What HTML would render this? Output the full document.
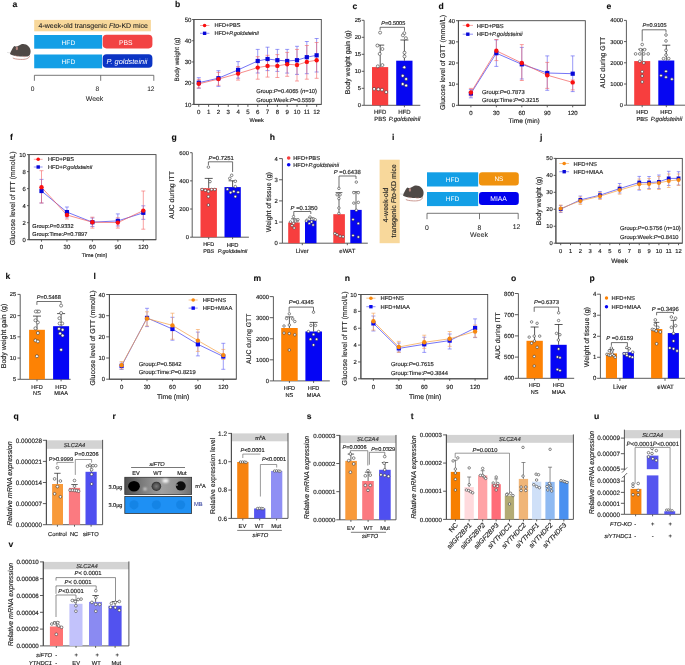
<!DOCTYPE html>
<html><head><meta charset="utf-8"><style>
html,body{margin:0;padding:0;background:#fff;width:685px;height:665px;overflow:hidden}
svg{display:block;font-family:"Liberation Sans",sans-serif}
#w{will-change:transform;width:685px;height:665px}
</style></head><body>
<div id="w"><svg text-rendering="geometricPrecision" width="685" height="665" viewBox="0 0 685 665">
<rect width="685" height="665" fill="#fff"/>
<text x="12.60" y="6.80" font-size="8.6" font-weight="bold" fill="#111" stroke="#111" stroke-width="0.1">a</text>
<rect x="34.20" y="19.90" width="116.70" height="11.40" fill="#f8d89b" stroke="none" stroke-width="0" rx="0"/>
<text x="93.20" y="27.82" font-size="7.0" text-anchor="middle" fill="#222" stroke="#222" stroke-width="0.08">4-week-old transgenic <tspan font-style="italic">Fto</tspan>-KD mice</text>
<rect x="34.20" y="35.00" width="67.90" height="13.70" fill="#139fe6" stroke="none" stroke-width="0" rx="0"/>
<rect x="34.20" y="54.50" width="67.90" height="13.80" fill="#139fe6" stroke="none" stroke-width="0" rx="0"/>
<rect x="102.70" y="34.80" width="49.70" height="13.60" fill="#f24343" stroke="none" stroke-width="0" rx="3.8"/>
<rect x="102.70" y="54.30" width="49.70" height="13.50" fill="#0b34c4" stroke="none" stroke-width="0" rx="3.8"/>
<text x="68.40" y="44.78" font-size="6.6" text-anchor="middle" fill="#fff">HFD</text>
<text x="68.40" y="64.48" font-size="6.6" text-anchor="middle" fill="#fff">HFD</text>
<text x="125.80" y="44.85" font-size="6.8" text-anchor="middle" fill="#fff">PBS</text>
<text x="127.00" y="63.96" font-size="7.4" text-anchor="middle" fill="#fff" font-style="italic">P. goldsteinii</text>
<g transform="translate(0.00,0.00)"><path d="M29.6,55.8 C29.2,58.6 25.5,59.6 20.5,59.4 C16.5,59.2 14,58.8 12.8,57.9" fill="none" stroke="#b9786f" stroke-width="0.75"/><path d="M10.0,53.7 C10.6,51.8 12.4,48.6 13.6,46.8 L14.4,45.9 L15.6,46.6 C17,46.4 18.2,46.2 19.5,45.2 C20.8,44.3 21.8,43.9 23.2,43.9 C27.2,43.9 30.6,47.2 30.6,51.2 C30.6,53.8 29.8,55.9 27.5,56.4 C24,56.6 19.5,56.5 16.2,56.0 C13.5,55.6 11.5,55.0 10.0,54.0 Z" fill="#4f4946"/><ellipse cx="16.9" cy="48.4" rx="1.1" ry="1.8" fill="#b58680"/><path d="M15.2,55.6 C16.5,56.3 17.5,56.4 18.5,56.1 M22.5,56.2 C23.5,56.8 25,56.8 26,56.4" fill="none" stroke="#c48a80" stroke-width="0.6"/><path d="M7.0,52.4 L10.4,52.9" stroke="#b0b0b0" stroke-width="0.35"/></g>
<line x1="34.40" y1="75.30" x2="153.80" y2="75.30" stroke="#555" stroke-width="0.8"/>
<line x1="34.40" y1="75.30" x2="34.40" y2="80.80" stroke="#555" stroke-width="0.8"/>
<line x1="100.70" y1="75.30" x2="100.70" y2="80.80" stroke="#555" stroke-width="0.8"/>
<line x1="153.80" y1="75.30" x2="153.80" y2="80.80" stroke="#555" stroke-width="0.8"/>
<text x="32.60" y="91.18" font-size="6.6" text-anchor="middle" fill="#222" stroke="#222" stroke-width="0.05">0</text>
<text x="97.40" y="91.18" font-size="6.6" text-anchor="middle" fill="#222" stroke="#222" stroke-width="0.05">8</text>
<text x="150.80" y="91.18" font-size="6.6" text-anchor="middle" fill="#222" stroke="#222" stroke-width="0.05">12</text>
<text x="94.50" y="100.78" font-size="6.9" text-anchor="middle" fill="#222" stroke="#222" stroke-width="0.05">Week</text>
<text x="175.10" y="6.70" font-size="8.6" font-weight="bold" fill="#111" stroke="#111" stroke-width="0.1">b</text>
<text x="177.20" y="61.77" font-size="6.3" text-anchor="middle" fill="#222" stroke="#222" stroke-width="0.15" transform="rotate(-90 177.20 59.50)">Body weight (g)</text>
<rect x="193.90" y="19.50" width="127.40" height="84.90" fill="none" stroke="#444" stroke-width="0.9" rx="0"/>
<line x1="193.90" y1="19.50" x2="193.90" y2="104.40" stroke="#4a4a4a" stroke-width="0.9"/>
<line x1="192.10" y1="104.40" x2="193.90" y2="104.40" stroke="#4a4a4a" stroke-width="0.9"/>
<text x="191.50" y="106.60" font-size="6.1" text-anchor="end" fill="#222" stroke="#222" stroke-width="0.15">10</text>
<line x1="192.10" y1="83.18" x2="193.90" y2="83.18" stroke="#4a4a4a" stroke-width="0.9"/>
<text x="191.50" y="85.37" font-size="6.1" text-anchor="end" fill="#222" stroke="#222" stroke-width="0.15">20</text>
<line x1="192.10" y1="61.95" x2="193.90" y2="61.95" stroke="#4a4a4a" stroke-width="0.9"/>
<text x="191.50" y="64.15" font-size="6.1" text-anchor="end" fill="#222" stroke="#222" stroke-width="0.15">30</text>
<line x1="192.10" y1="40.73" x2="193.90" y2="40.73" stroke="#4a4a4a" stroke-width="0.9"/>
<text x="191.50" y="42.92" font-size="6.1" text-anchor="end" fill="#222" stroke="#222" stroke-width="0.15">40</text>
<line x1="192.10" y1="19.50" x2="193.90" y2="19.50" stroke="#4a4a4a" stroke-width="0.9"/>
<text x="191.50" y="21.70" font-size="6.1" text-anchor="end" fill="#222" stroke="#222" stroke-width="0.15">50</text>
<line x1="193.90" y1="104.40" x2="321.30" y2="104.40" stroke="#4a4a4a" stroke-width="0.9"/>
<line x1="198.80" y1="104.40" x2="198.80" y2="106.80" stroke="#4a4a4a" stroke-width="0.9"/>
<text x="198.80" y="113.70" font-size="6.1" text-anchor="middle" fill="#222" stroke="#222" stroke-width="0.15">0</text>
<line x1="208.62" y1="104.40" x2="208.62" y2="106.80" stroke="#4a4a4a" stroke-width="0.9"/>
<text x="208.62" y="113.70" font-size="6.1" text-anchor="middle" fill="#222" stroke="#222" stroke-width="0.15">1</text>
<line x1="218.44" y1="104.40" x2="218.44" y2="106.80" stroke="#4a4a4a" stroke-width="0.9"/>
<text x="218.44" y="113.70" font-size="6.1" text-anchor="middle" fill="#222" stroke="#222" stroke-width="0.15">2</text>
<line x1="228.26" y1="104.40" x2="228.26" y2="106.80" stroke="#4a4a4a" stroke-width="0.9"/>
<text x="228.26" y="113.70" font-size="6.1" text-anchor="middle" fill="#222" stroke="#222" stroke-width="0.15">3</text>
<line x1="238.08" y1="104.40" x2="238.08" y2="106.80" stroke="#4a4a4a" stroke-width="0.9"/>
<text x="238.08" y="113.70" font-size="6.1" text-anchor="middle" fill="#222" stroke="#222" stroke-width="0.15">4</text>
<line x1="247.90" y1="104.40" x2="247.90" y2="106.80" stroke="#4a4a4a" stroke-width="0.9"/>
<text x="247.90" y="113.70" font-size="6.1" text-anchor="middle" fill="#222" stroke="#222" stroke-width="0.15">5</text>
<line x1="257.72" y1="104.40" x2="257.72" y2="106.80" stroke="#4a4a4a" stroke-width="0.9"/>
<text x="257.72" y="113.70" font-size="6.1" text-anchor="middle" fill="#222" stroke="#222" stroke-width="0.15">6</text>
<line x1="267.54" y1="104.40" x2="267.54" y2="106.80" stroke="#4a4a4a" stroke-width="0.9"/>
<text x="267.54" y="113.70" font-size="6.1" text-anchor="middle" fill="#222" stroke="#222" stroke-width="0.15">7</text>
<line x1="277.36" y1="104.40" x2="277.36" y2="106.80" stroke="#4a4a4a" stroke-width="0.9"/>
<text x="277.36" y="113.70" font-size="6.1" text-anchor="middle" fill="#222" stroke="#222" stroke-width="0.15">8</text>
<line x1="287.18" y1="104.40" x2="287.18" y2="106.80" stroke="#4a4a4a" stroke-width="0.9"/>
<text x="287.18" y="113.70" font-size="6.1" text-anchor="middle" fill="#222" stroke="#222" stroke-width="0.15">9</text>
<line x1="297.00" y1="104.40" x2="297.00" y2="106.80" stroke="#4a4a4a" stroke-width="0.9"/>
<text x="297.00" y="113.70" font-size="6.1" text-anchor="middle" fill="#222" stroke="#222" stroke-width="0.15">10</text>
<line x1="306.82" y1="104.40" x2="306.82" y2="106.80" stroke="#4a4a4a" stroke-width="0.9"/>
<text x="306.82" y="113.70" font-size="6.1" text-anchor="middle" fill="#222" stroke="#222" stroke-width="0.15">11</text>
<line x1="316.64" y1="104.40" x2="316.64" y2="106.80" stroke="#4a4a4a" stroke-width="0.9"/>
<text x="316.64" y="113.70" font-size="6.1" text-anchor="middle" fill="#222" stroke="#222" stroke-width="0.15">12</text>
<text x="256.60" y="121.72" font-size="5.6" text-anchor="middle" fill="#222" stroke="#222" stroke-width="0.15">Week</text>
<line x1="198.80" y1="77.70" x2="198.80" y2="88.20" stroke="#5656f2" stroke-width="0.6"/>
<line x1="196.80" y1="77.70" x2="200.80" y2="77.70" stroke="#5656f2" stroke-width="0.6"/>
<line x1="196.80" y1="88.20" x2="200.80" y2="88.20" stroke="#5656f2" stroke-width="0.6"/>
<line x1="218.44" y1="70.70" x2="218.44" y2="86.40" stroke="#5656f2" stroke-width="0.6"/>
<line x1="216.44" y1="70.70" x2="220.44" y2="70.70" stroke="#5656f2" stroke-width="0.6"/>
<line x1="216.44" y1="86.40" x2="220.44" y2="86.40" stroke="#5656f2" stroke-width="0.6"/>
<line x1="238.08" y1="61.60" x2="238.08" y2="78.20" stroke="#5656f2" stroke-width="0.6"/>
<line x1="236.08" y1="61.60" x2="240.08" y2="61.60" stroke="#5656f2" stroke-width="0.6"/>
<line x1="236.08" y1="78.20" x2="240.08" y2="78.20" stroke="#5656f2" stroke-width="0.6"/>
<line x1="257.72" y1="49.40" x2="257.72" y2="73.00" stroke="#5656f2" stroke-width="0.6"/>
<line x1="255.72" y1="49.40" x2="259.72" y2="49.40" stroke="#5656f2" stroke-width="0.6"/>
<line x1="255.72" y1="73.00" x2="259.72" y2="73.00" stroke="#5656f2" stroke-width="0.6"/>
<line x1="267.54" y1="47.20" x2="267.54" y2="70.60" stroke="#5656f2" stroke-width="0.6"/>
<line x1="265.54" y1="47.20" x2="269.54" y2="47.20" stroke="#5656f2" stroke-width="0.6"/>
<line x1="265.54" y1="70.60" x2="269.54" y2="70.60" stroke="#5656f2" stroke-width="0.6"/>
<line x1="277.36" y1="49.40" x2="277.36" y2="71.40" stroke="#5656f2" stroke-width="0.6"/>
<line x1="275.36" y1="49.40" x2="279.36" y2="49.40" stroke="#5656f2" stroke-width="0.6"/>
<line x1="275.36" y1="71.40" x2="279.36" y2="71.40" stroke="#5656f2" stroke-width="0.6"/>
<line x1="287.18" y1="49.40" x2="287.18" y2="73.10" stroke="#5656f2" stroke-width="0.6"/>
<line x1="285.18" y1="49.40" x2="289.18" y2="49.40" stroke="#5656f2" stroke-width="0.6"/>
<line x1="285.18" y1="73.10" x2="289.18" y2="73.10" stroke="#5656f2" stroke-width="0.6"/>
<line x1="297.00" y1="46.30" x2="297.00" y2="74.40" stroke="#5656f2" stroke-width="0.6"/>
<line x1="295.00" y1="46.30" x2="299.00" y2="46.30" stroke="#5656f2" stroke-width="0.6"/>
<line x1="295.00" y1="74.40" x2="299.00" y2="74.40" stroke="#5656f2" stroke-width="0.6"/>
<line x1="306.82" y1="41.50" x2="306.82" y2="73.70" stroke="#5656f2" stroke-width="0.6"/>
<line x1="304.82" y1="41.50" x2="308.82" y2="41.50" stroke="#5656f2" stroke-width="0.6"/>
<line x1="304.82" y1="73.70" x2="308.82" y2="73.70" stroke="#5656f2" stroke-width="0.6"/>
<line x1="316.64" y1="38.50" x2="316.64" y2="72.00" stroke="#5656f2" stroke-width="0.6"/>
<line x1="314.64" y1="38.50" x2="318.64" y2="38.50" stroke="#5656f2" stroke-width="0.6"/>
<line x1="314.64" y1="72.00" x2="318.64" y2="72.00" stroke="#5656f2" stroke-width="0.6"/>
<line x1="198.80" y1="79.40" x2="198.80" y2="88.00" stroke="#f56262" stroke-width="0.6"/>
<line x1="196.80" y1="79.40" x2="200.80" y2="79.40" stroke="#f56262" stroke-width="0.6"/>
<line x1="196.80" y1="88.00" x2="200.80" y2="88.00" stroke="#f56262" stroke-width="0.6"/>
<line x1="218.44" y1="72.40" x2="218.44" y2="85.30" stroke="#f56262" stroke-width="0.6"/>
<line x1="216.44" y1="72.40" x2="220.44" y2="72.40" stroke="#f56262" stroke-width="0.6"/>
<line x1="216.44" y1="85.30" x2="220.44" y2="85.30" stroke="#f56262" stroke-width="0.6"/>
<line x1="238.08" y1="66.60" x2="238.08" y2="80.10" stroke="#f56262" stroke-width="0.6"/>
<line x1="236.08" y1="66.60" x2="240.08" y2="66.60" stroke="#f56262" stroke-width="0.6"/>
<line x1="236.08" y1="80.10" x2="240.08" y2="80.10" stroke="#f56262" stroke-width="0.6"/>
<line x1="257.72" y1="56.70" x2="257.72" y2="79.20" stroke="#f56262" stroke-width="0.6"/>
<line x1="255.72" y1="56.70" x2="259.72" y2="56.70" stroke="#f56262" stroke-width="0.6"/>
<line x1="255.72" y1="79.20" x2="259.72" y2="79.20" stroke="#f56262" stroke-width="0.6"/>
<line x1="267.54" y1="55.30" x2="267.54" y2="77.10" stroke="#f56262" stroke-width="0.6"/>
<line x1="265.54" y1="55.30" x2="269.54" y2="55.30" stroke="#f56262" stroke-width="0.6"/>
<line x1="265.54" y1="77.10" x2="269.54" y2="77.10" stroke="#f56262" stroke-width="0.6"/>
<line x1="277.36" y1="54.60" x2="277.36" y2="77.50" stroke="#f56262" stroke-width="0.6"/>
<line x1="275.36" y1="54.60" x2="279.36" y2="54.60" stroke="#f56262" stroke-width="0.6"/>
<line x1="275.36" y1="77.50" x2="279.36" y2="77.50" stroke="#f56262" stroke-width="0.6"/>
<line x1="287.18" y1="52.40" x2="287.18" y2="76.30" stroke="#f56262" stroke-width="0.6"/>
<line x1="285.18" y1="52.40" x2="289.18" y2="52.40" stroke="#f56262" stroke-width="0.6"/>
<line x1="285.18" y1="76.30" x2="289.18" y2="76.30" stroke="#f56262" stroke-width="0.6"/>
<line x1="297.00" y1="49.40" x2="297.00" y2="81.00" stroke="#f56262" stroke-width="0.6"/>
<line x1="295.00" y1="49.40" x2="299.00" y2="49.40" stroke="#f56262" stroke-width="0.6"/>
<line x1="295.00" y1="81.00" x2="299.00" y2="81.00" stroke="#f56262" stroke-width="0.6"/>
<line x1="306.82" y1="45.50" x2="306.82" y2="79.20" stroke="#f56262" stroke-width="0.6"/>
<line x1="304.82" y1="45.50" x2="308.82" y2="45.50" stroke="#f56262" stroke-width="0.6"/>
<line x1="304.82" y1="79.20" x2="308.82" y2="79.20" stroke="#f56262" stroke-width="0.6"/>
<line x1="316.64" y1="42.50" x2="316.64" y2="78.30" stroke="#f56262" stroke-width="0.6"/>
<line x1="314.64" y1="42.50" x2="318.64" y2="42.50" stroke="#f56262" stroke-width="0.6"/>
<line x1="314.64" y1="78.30" x2="318.64" y2="78.30" stroke="#f56262" stroke-width="0.6"/>
<path d="M198.80,82.70 L218.44,78.20 L238.08,69.90 L257.72,61.00 L267.54,59.00 L277.36,60.20 L287.18,61.00 L297.00,60.20 L306.82,57.20 L316.64,55.30" fill="none" stroke="#3a3af2" stroke-width="0.7"/>
<path d="M198.80,83.80 L218.44,79.10 L238.08,73.60 L257.72,67.60 L267.54,65.90 L277.36,65.90 L287.18,64.20 L297.00,65.00 L306.82,61.90 L316.64,60.20" fill="none" stroke="#f25a5a" stroke-width="0.7"/>
<rect x="196.70" y="80.60" width="4.20" height="4.20" fill="#0808d8" stroke="none" stroke-width="0" rx="0"/>
<rect x="216.34" y="76.10" width="4.20" height="4.20" fill="#0808d8" stroke="none" stroke-width="0" rx="0"/>
<rect x="235.98" y="67.80" width="4.20" height="4.20" fill="#0808d8" stroke="none" stroke-width="0" rx="0"/>
<rect x="255.62" y="58.90" width="4.20" height="4.20" fill="#0808d8" stroke="none" stroke-width="0" rx="0"/>
<rect x="265.44" y="56.90" width="4.20" height="4.20" fill="#0808d8" stroke="none" stroke-width="0" rx="0"/>
<rect x="275.26" y="58.10" width="4.20" height="4.20" fill="#0808d8" stroke="none" stroke-width="0" rx="0"/>
<rect x="285.08" y="58.90" width="4.20" height="4.20" fill="#0808d8" stroke="none" stroke-width="0" rx="0"/>
<rect x="294.90" y="58.10" width="4.20" height="4.20" fill="#0808d8" stroke="none" stroke-width="0" rx="0"/>
<rect x="304.72" y="55.10" width="4.20" height="4.20" fill="#0808d8" stroke="none" stroke-width="0" rx="0"/>
<rect x="314.54" y="53.20" width="4.20" height="4.20" fill="#0808d8" stroke="none" stroke-width="0" rx="0"/>
<circle cx="198.80" cy="83.80" r="2.2" fill="#fa1010" stroke="none" stroke-width="0"/>
<circle cx="218.44" cy="79.10" r="2.2" fill="#fa1010" stroke="none" stroke-width="0"/>
<circle cx="238.08" cy="73.60" r="2.2" fill="#fa1010" stroke="none" stroke-width="0"/>
<circle cx="257.72" cy="67.60" r="2.2" fill="#fa1010" stroke="none" stroke-width="0"/>
<circle cx="267.54" cy="65.90" r="2.2" fill="#fa1010" stroke="none" stroke-width="0"/>
<circle cx="277.36" cy="65.90" r="2.2" fill="#fa1010" stroke="none" stroke-width="0"/>
<circle cx="287.18" cy="64.20" r="2.2" fill="#fa1010" stroke="none" stroke-width="0"/>
<circle cx="297.00" cy="65.00" r="2.2" fill="#fa1010" stroke="none" stroke-width="0"/>
<circle cx="306.82" cy="61.90" r="2.2" fill="#fa1010" stroke="none" stroke-width="0"/>
<circle cx="316.64" cy="60.20" r="2.2" fill="#fa1010" stroke="none" stroke-width="0"/>
<line x1="200.00" y1="25.50" x2="209.40" y2="25.50" stroke="#f46a6a" stroke-width="0.6"/>
<circle cx="204.60" cy="25.50" r="1.8" fill="#fa1010" stroke="none" stroke-width="0"/>
<line x1="200.00" y1="33.30" x2="209.40" y2="33.30" stroke="#4a4af0" stroke-width="0.6"/>
<rect x="202.90" y="31.60" width="3.40" height="3.40" fill="#0808d8" stroke="none" stroke-width="0" rx="0"/>
<text x="214.50" y="27.02" font-size="5.6" text-anchor="start" fill="#222" stroke="#222" stroke-width="0.15">HFD+PBS</text>
<text x="214.50" y="35.32" font-size="5.6" text-anchor="start" fill="#222" stroke="#222" stroke-width="0.15">HFD+<tspan font-style="italic">P.goldsteinii</tspan></text>
<text x="256.20" y="93.07" font-size="5.75" text-anchor="start" fill="#222" stroke="#222" stroke-width="0.15">Group:<tspan font-style="italic">P</tspan>=0.4065 (<tspan font-style="italic">n</tspan>=10)</text>
<text x="256.20" y="101.67" font-size="5.75" text-anchor="start" fill="#222" stroke="#222" stroke-width="0.15">Group:Week:<tspan font-style="italic">P</tspan>=0.5559</text>
<text x="352.50" y="9.00" font-size="8.6" font-weight="bold" fill="#111" stroke="#111" stroke-width="0.1">c</text>
<line x1="364.10" y1="20.30" x2="364.10" y2="105.30" stroke="#4a4a4a" stroke-width="0.9"/>
<line x1="361.70" y1="105.30" x2="364.10" y2="105.30" stroke="#4a4a4a" stroke-width="0.9"/>
<text x="361.10" y="107.39" font-size="5.8" text-anchor="end" fill="#222" stroke="#222" stroke-width="0.15">0</text>
<line x1="361.70" y1="88.30" x2="364.10" y2="88.30" stroke="#4a4a4a" stroke-width="0.9"/>
<text x="361.10" y="90.39" font-size="5.8" text-anchor="end" fill="#222" stroke="#222" stroke-width="0.15">5</text>
<line x1="361.70" y1="71.30" x2="364.10" y2="71.30" stroke="#4a4a4a" stroke-width="0.9"/>
<text x="361.10" y="73.39" font-size="5.8" text-anchor="end" fill="#222" stroke="#222" stroke-width="0.15">10</text>
<line x1="361.70" y1="54.30" x2="364.10" y2="54.30" stroke="#4a4a4a" stroke-width="0.9"/>
<text x="361.10" y="56.39" font-size="5.8" text-anchor="end" fill="#222" stroke="#222" stroke-width="0.15">15</text>
<line x1="361.70" y1="37.30" x2="364.10" y2="37.30" stroke="#4a4a4a" stroke-width="0.9"/>
<text x="361.10" y="39.39" font-size="5.8" text-anchor="end" fill="#222" stroke="#222" stroke-width="0.15">20</text>
<line x1="361.70" y1="20.30" x2="364.10" y2="20.30" stroke="#4a4a4a" stroke-width="0.9"/>
<text x="361.10" y="22.39" font-size="5.8" text-anchor="end" fill="#222" stroke="#222" stroke-width="0.15">25</text>
<line x1="364.10" y1="105.30" x2="420.30" y2="105.30" stroke="#4a4a4a" stroke-width="0.9"/>
<line x1="380.20" y1="105.30" x2="380.20" y2="107.30" stroke="#4a4a4a" stroke-width="0.9"/>
<line x1="404.40" y1="105.30" x2="404.40" y2="107.30" stroke="#4a4a4a" stroke-width="0.9"/>
<rect x="372.00" y="67.10" width="16.20" height="38.20" fill="#f73e3e" stroke="none" stroke-width="0" rx="0"/>
<rect x="396.20" y="60.70" width="16.30" height="44.60" fill="#0606f2" stroke="none" stroke-width="0" rx="0"/>
<line x1="376.20" y1="45.10" x2="384.20" y2="45.10" stroke="#222" stroke-width="0.75"/>
<line x1="380.20" y1="45.10" x2="380.20" y2="67.10" stroke="#222" stroke-width="0.75"/>
<line x1="400.40" y1="40.00" x2="408.40" y2="40.00" stroke="#222" stroke-width="0.75"/>
<line x1="404.40" y1="40.00" x2="404.40" y2="60.70" stroke="#222" stroke-width="0.75"/>
<path d="M380.1,29.9 L380.1,27.3 L404.5,27.3 L404.5,30.8" fill="none" stroke="#333" stroke-width="0.7"/>
<text x="393.30" y="24.92" font-size="5.6" text-anchor="middle" fill="#222" stroke="#222" stroke-width="0.15"><tspan font-style="italic">P</tspan>=0.5005</text>
<text x="380.20" y="114.06" font-size="6.0" text-anchor="middle" fill="#222" stroke="#222" stroke-width="0.15">HFD</text>
<text x="380.20" y="120.66" font-size="6.0" text-anchor="middle" fill="#222" stroke="#222" stroke-width="0.15">PBS</text>
<text x="404.40" y="114.16" font-size="6.0" text-anchor="middle" fill="#222" stroke="#222" stroke-width="0.15">HFD</text>
<text x="404.60" y="120.76" font-size="6.0" text-anchor="middle" fill="#222" font-style="italic" stroke="#222" stroke-width="0.15">P.goldsteinii</text>
<text x="347.50" y="64.92" font-size="7.0" text-anchor="middle" fill="#222" stroke="#222" stroke-width="0.15" transform="rotate(-90 347.50 62.40)">Body weight gain (g)</text>
<circle cx="380.10" cy="32.60" r="1.5" fill="#fff" stroke="#2a2a2a" stroke-width="0.55"/>
<circle cx="377.40" cy="45.50" r="1.5" fill="#fff" stroke="#2a2a2a" stroke-width="0.55"/>
<circle cx="382.40" cy="49.00" r="1.5" fill="#fff" stroke="#2a2a2a" stroke-width="0.55"/>
<circle cx="379.70" cy="53.90" r="1.5" fill="#fff" stroke="#2a2a2a" stroke-width="0.55"/>
<circle cx="377.80" cy="66.30" r="1.5" fill="#fff" stroke="#2a2a2a" stroke-width="0.55"/>
<circle cx="382.40" cy="65.10" r="1.5" fill="#fff" stroke="#2a2a2a" stroke-width="0.55"/>
<circle cx="374.10" cy="88.90" r="1.5" fill="#fff" stroke="#2a2a2a" stroke-width="0.55"/>
<circle cx="378.30" cy="89.30" r="1.5" fill="#fff" stroke="#2a2a2a" stroke-width="0.55"/>
<circle cx="382.00" cy="89.70" r="1.5" fill="#fff" stroke="#2a2a2a" stroke-width="0.55"/>
<circle cx="386.20" cy="92.10" r="1.5" fill="#fff" stroke="#2a2a2a" stroke-width="0.55"/>
<circle cx="404.30" cy="33.20" r="1.5" fill="#fff" stroke="#2a2a2a" stroke-width="0.55"/>
<circle cx="402.90" cy="35.30" r="1.5" fill="#fff" stroke="#2a2a2a" stroke-width="0.55"/>
<circle cx="405.90" cy="38.20" r="1.5" fill="#fff" stroke="#2a2a2a" stroke-width="0.55"/>
<circle cx="404.50" cy="52.70" r="1.5" fill="#fff" stroke="#2a2a2a" stroke-width="0.55"/>
<circle cx="404.50" cy="56.40" r="1.5" fill="#fff" stroke="#2a2a2a" stroke-width="0.55"/>
<circle cx="404.30" cy="67.30" r="1.5" fill="#fff" stroke="#2a2a2a" stroke-width="0.55"/>
<circle cx="402.70" cy="75.80" r="1.5" fill="#fff" stroke="#2a2a2a" stroke-width="0.55"/>
<circle cx="406.10" cy="79.00" r="1.5" fill="#fff" stroke="#2a2a2a" stroke-width="0.55"/>
<circle cx="402.70" cy="84.00" r="1.5" fill="#fff" stroke="#2a2a2a" stroke-width="0.55"/>
<circle cx="406.10" cy="85.50" r="1.5" fill="#fff" stroke="#2a2a2a" stroke-width="0.55"/>
<text x="438.60" y="9.00" font-size="8.6" font-weight="bold" fill="#111" stroke="#111" stroke-width="0.1">d</text>
<rect x="458.40" y="20.70" width="126.90" height="84.60" fill="none" stroke="#444" stroke-width="0.9" rx="0"/>
<line x1="458.40" y1="20.70" x2="458.40" y2="105.30" stroke="#4a4a4a" stroke-width="0.9"/>
<line x1="456.00" y1="105.30" x2="458.40" y2="105.30" stroke="#4a4a4a" stroke-width="0.9"/>
<text x="455.00" y="107.39" font-size="5.8" text-anchor="end" fill="#222" stroke="#222" stroke-width="0.15">0</text>
<line x1="456.00" y1="84.15" x2="458.40" y2="84.15" stroke="#4a4a4a" stroke-width="0.9"/>
<text x="455.00" y="86.24" font-size="5.8" text-anchor="end" fill="#222" stroke="#222" stroke-width="0.15">10</text>
<line x1="456.00" y1="63.00" x2="458.40" y2="63.00" stroke="#4a4a4a" stroke-width="0.9"/>
<text x="455.00" y="65.09" font-size="5.8" text-anchor="end" fill="#222" stroke="#222" stroke-width="0.15">20</text>
<line x1="456.00" y1="41.85" x2="458.40" y2="41.85" stroke="#4a4a4a" stroke-width="0.9"/>
<text x="455.00" y="43.94" font-size="5.8" text-anchor="end" fill="#222" stroke="#222" stroke-width="0.15">30</text>
<line x1="456.00" y1="20.70" x2="458.40" y2="20.70" stroke="#4a4a4a" stroke-width="0.9"/>
<text x="455.00" y="22.79" font-size="5.8" text-anchor="end" fill="#222" stroke="#222" stroke-width="0.15">40</text>
<line x1="458.40" y1="105.30" x2="585.30" y2="105.30" stroke="#4a4a4a" stroke-width="0.9"/>
<line x1="470.90" y1="105.30" x2="470.90" y2="107.30" stroke="#4a4a4a" stroke-width="0.9"/>
<text x="470.90" y="114.76" font-size="6.0" text-anchor="middle" fill="#222" stroke="#222" stroke-width="0.15">0</text>
<line x1="496.35" y1="105.30" x2="496.35" y2="107.30" stroke="#4a4a4a" stroke-width="0.9"/>
<text x="496.35" y="114.76" font-size="6.0" text-anchor="middle" fill="#222" stroke="#222" stroke-width="0.15">30</text>
<line x1="521.80" y1="105.30" x2="521.80" y2="107.30" stroke="#4a4a4a" stroke-width="0.9"/>
<text x="521.80" y="114.76" font-size="6.0" text-anchor="middle" fill="#222" stroke="#222" stroke-width="0.15">60</text>
<line x1="547.25" y1="105.30" x2="547.25" y2="107.30" stroke="#4a4a4a" stroke-width="0.9"/>
<text x="547.25" y="114.76" font-size="6.0" text-anchor="middle" fill="#222" stroke="#222" stroke-width="0.15">90</text>
<line x1="572.70" y1="105.30" x2="572.70" y2="107.30" stroke="#4a4a4a" stroke-width="0.9"/>
<text x="572.70" y="114.76" font-size="6.0" text-anchor="middle" fill="#222" stroke="#222" stroke-width="0.15">120</text>
<text x="524.20" y="122.78" font-size="6.6" text-anchor="middle" fill="#222" stroke="#222" stroke-width="0.15">Time (min)</text>
<text x="442.10" y="65.02" font-size="7.0" text-anchor="middle" fill="#222" stroke="#222" stroke-width="0.15" transform="rotate(-90 442.10 62.50)">Glucose level of GTT (mmol/L)</text>
<line x1="470.90" y1="89.50" x2="470.90" y2="97.80" stroke="#5656f2" stroke-width="0.6"/>
<line x1="468.90" y1="89.50" x2="472.90" y2="89.50" stroke="#5656f2" stroke-width="0.6"/>
<line x1="468.90" y1="97.80" x2="472.90" y2="97.80" stroke="#5656f2" stroke-width="0.6"/>
<line x1="496.35" y1="39.90" x2="496.35" y2="66.40" stroke="#5656f2" stroke-width="0.6"/>
<line x1="494.35" y1="39.90" x2="498.35" y2="39.90" stroke="#5656f2" stroke-width="0.6"/>
<line x1="494.35" y1="66.40" x2="498.35" y2="66.40" stroke="#5656f2" stroke-width="0.6"/>
<line x1="521.80" y1="47.40" x2="521.80" y2="79.00" stroke="#5656f2" stroke-width="0.6"/>
<line x1="519.80" y1="47.40" x2="523.80" y2="47.40" stroke="#5656f2" stroke-width="0.6"/>
<line x1="519.80" y1="79.00" x2="523.80" y2="79.00" stroke="#5656f2" stroke-width="0.6"/>
<line x1="547.25" y1="55.90" x2="547.25" y2="90.30" stroke="#5656f2" stroke-width="0.6"/>
<line x1="545.25" y1="55.90" x2="549.25" y2="55.90" stroke="#5656f2" stroke-width="0.6"/>
<line x1="545.25" y1="90.30" x2="549.25" y2="90.30" stroke="#5656f2" stroke-width="0.6"/>
<line x1="572.70" y1="55.90" x2="572.70" y2="91.60" stroke="#5656f2" stroke-width="0.6"/>
<line x1="570.70" y1="55.90" x2="574.70" y2="55.90" stroke="#5656f2" stroke-width="0.6"/>
<line x1="570.70" y1="91.60" x2="574.70" y2="91.60" stroke="#5656f2" stroke-width="0.6"/>
<line x1="470.90" y1="88.40" x2="470.90" y2="95.90" stroke="#f56262" stroke-width="0.6"/>
<line x1="468.90" y1="88.40" x2="472.90" y2="88.40" stroke="#f56262" stroke-width="0.6"/>
<line x1="468.90" y1="95.90" x2="472.90" y2="95.90" stroke="#f56262" stroke-width="0.6"/>
<line x1="496.35" y1="39.50" x2="496.35" y2="60.60" stroke="#f56262" stroke-width="0.6"/>
<line x1="494.35" y1="39.50" x2="498.35" y2="39.50" stroke="#f56262" stroke-width="0.6"/>
<line x1="494.35" y1="60.60" x2="498.35" y2="60.60" stroke="#f56262" stroke-width="0.6"/>
<line x1="521.80" y1="44.60" x2="521.80" y2="80.50" stroke="#f56262" stroke-width="0.6"/>
<line x1="519.80" y1="44.60" x2="523.80" y2="44.60" stroke="#f56262" stroke-width="0.6"/>
<line x1="519.80" y1="80.50" x2="523.80" y2="80.50" stroke="#f56262" stroke-width="0.6"/>
<line x1="547.25" y1="62.40" x2="547.25" y2="88.40" stroke="#f56262" stroke-width="0.6"/>
<line x1="545.25" y1="62.40" x2="549.25" y2="62.40" stroke="#f56262" stroke-width="0.6"/>
<line x1="545.25" y1="88.40" x2="549.25" y2="88.40" stroke="#f56262" stroke-width="0.6"/>
<line x1="572.70" y1="80.00" x2="572.70" y2="89.90" stroke="#f56262" stroke-width="0.6"/>
<line x1="570.70" y1="80.00" x2="574.70" y2="80.00" stroke="#f56262" stroke-width="0.6"/>
<line x1="570.70" y1="89.90" x2="574.70" y2="89.90" stroke="#f56262" stroke-width="0.6"/>
<path d="M470.90,93.50 L496.35,53.20 L521.80,64.30 L547.25,73.00 L572.70,73.70" fill="none" stroke="#3a3af2" stroke-width="0.7"/>
<path d="M470.90,92.50 L496.35,50.80 L521.80,63.00 L547.25,75.20 L572.70,82.40" fill="none" stroke="#f25a5a" stroke-width="0.7"/>
<rect x="468.80" y="91.40" width="4.20" height="4.20" fill="#0808d8" stroke="none" stroke-width="0" rx="0"/>
<rect x="494.25" y="51.10" width="4.20" height="4.20" fill="#0808d8" stroke="none" stroke-width="0" rx="0"/>
<rect x="519.70" y="62.20" width="4.20" height="4.20" fill="#0808d8" stroke="none" stroke-width="0" rx="0"/>
<rect x="545.15" y="70.90" width="4.20" height="4.20" fill="#0808d8" stroke="none" stroke-width="0" rx="0"/>
<rect x="570.60" y="71.60" width="4.20" height="4.20" fill="#0808d8" stroke="none" stroke-width="0" rx="0"/>
<circle cx="470.90" cy="92.50" r="2.2" fill="#fa1010" stroke="none" stroke-width="0"/>
<circle cx="496.35" cy="50.80" r="2.2" fill="#fa1010" stroke="none" stroke-width="0"/>
<circle cx="521.80" cy="63.00" r="2.2" fill="#fa1010" stroke="none" stroke-width="0"/>
<circle cx="547.25" cy="75.20" r="2.2" fill="#fa1010" stroke="none" stroke-width="0"/>
<circle cx="572.70" cy="82.40" r="2.2" fill="#fa1010" stroke="none" stroke-width="0"/>
<line x1="462.70" y1="25.40" x2="473.00" y2="25.40" stroke="#f46a6a" stroke-width="0.6"/>
<circle cx="467.80" cy="25.40" r="1.8" fill="#fa1010" stroke="none" stroke-width="0"/>
<line x1="462.70" y1="34.20" x2="473.00" y2="34.20" stroke="#4a4af0" stroke-width="0.6"/>
<rect x="466.10" y="32.50" width="3.40" height="3.40" fill="#0808d8" stroke="none" stroke-width="0" rx="0"/>
<text x="476.80" y="27.99" font-size="5.8" text-anchor="start" fill="#222" stroke="#222" stroke-width="0.15">HFD+PBS</text>
<text x="476.80" y="36.39" font-size="5.8" text-anchor="start" fill="#222" stroke="#222" stroke-width="0.15">HFD+<tspan font-style="italic">P.goldsteinii</tspan></text>
<text x="482.00" y="93.89" font-size="5.8" text-anchor="start" fill="#222" stroke="#222" stroke-width="0.15">Group:<tspan font-style="italic">P</tspan>=0.7873</text>
<text x="482.00" y="102.29" font-size="5.8" text-anchor="start" fill="#222" stroke="#222" stroke-width="0.15">Group:Time:<tspan font-style="italic">P</tspan>=0.3215</text>
<text x="606.60" y="9.00" font-size="8.6" font-weight="bold" fill="#111" stroke="#111" stroke-width="0.1">e</text>
<line x1="626.40" y1="20.40" x2="626.40" y2="105.20" stroke="#4a4a4a" stroke-width="0.9"/>
<line x1="624.00" y1="105.20" x2="626.40" y2="105.20" stroke="#4a4a4a" stroke-width="0.9"/>
<text x="623.10" y="107.29" font-size="5.8" text-anchor="end" fill="#222" stroke="#222" stroke-width="0.15">0</text>
<line x1="624.00" y1="84.00" x2="626.40" y2="84.00" stroke="#4a4a4a" stroke-width="0.9"/>
<text x="623.10" y="86.09" font-size="5.8" text-anchor="end" fill="#222" stroke="#222" stroke-width="0.15">1000</text>
<line x1="624.00" y1="62.80" x2="626.40" y2="62.80" stroke="#4a4a4a" stroke-width="0.9"/>
<text x="623.10" y="64.89" font-size="5.8" text-anchor="end" fill="#222" stroke="#222" stroke-width="0.15">2000</text>
<line x1="624.00" y1="41.60" x2="626.40" y2="41.60" stroke="#4a4a4a" stroke-width="0.9"/>
<text x="623.10" y="43.69" font-size="5.8" text-anchor="end" fill="#222" stroke="#222" stroke-width="0.15">3000</text>
<line x1="624.00" y1="20.40" x2="626.40" y2="20.40" stroke="#4a4a4a" stroke-width="0.9"/>
<text x="623.10" y="22.49" font-size="5.8" text-anchor="end" fill="#222" stroke="#222" stroke-width="0.15">4000</text>
<line x1="626.40" y1="105.20" x2="685.00" y2="105.20" stroke="#4a4a4a" stroke-width="0.9"/>
<line x1="642.20" y1="105.20" x2="642.20" y2="107.20" stroke="#4a4a4a" stroke-width="0.9"/>
<line x1="666.30" y1="105.20" x2="666.30" y2="107.20" stroke="#4a4a4a" stroke-width="0.9"/>
<rect x="634.20" y="61.10" width="16.00" height="44.10" fill="#f73e3e" stroke="none" stroke-width="0" rx="0"/>
<rect x="658.30" y="60.50" width="16.00" height="44.70" fill="#0606f2" stroke="none" stroke-width="0" rx="0"/>
<line x1="638.20" y1="49.20" x2="646.20" y2="49.20" stroke="#222" stroke-width="0.75"/>
<line x1="642.20" y1="49.20" x2="642.20" y2="61.10" stroke="#222" stroke-width="0.75"/>
<line x1="662.30" y1="45.20" x2="670.30" y2="45.20" stroke="#222" stroke-width="0.75"/>
<line x1="666.30" y1="45.10" x2="666.30" y2="60.50" stroke="#222" stroke-width="0.75"/>
<path d="M642.2,41.3 L642.2,29.8 L666.0,29.8 L666.0,32.6" fill="none" stroke="#333" stroke-width="0.7"/>
<text x="654.50" y="26.82" font-size="5.6" text-anchor="middle" fill="#222" stroke="#222" stroke-width="0.15"><tspan font-style="italic">P</tspan>=0.9105</text>
<text x="642.20" y="113.89" font-size="5.8" text-anchor="middle" fill="#222" stroke="#222" stroke-width="0.15">HFD</text>
<text x="642.20" y="120.89" font-size="5.8" text-anchor="middle" fill="#222" stroke="#222" stroke-width="0.15">PBS</text>
<text x="666.30" y="113.89" font-size="5.8" text-anchor="middle" fill="#222" stroke="#222" stroke-width="0.15">HFD</text>
<text x="666.50" y="120.96" font-size="6.0" text-anchor="middle" fill="#222" font-style="italic" stroke="#222" stroke-width="0.15">P.goldsteinii</text>
<text x="602.40" y="64.98" font-size="6.9" text-anchor="middle" fill="#222" stroke="#222" stroke-width="0.15" transform="rotate(-90 602.40 62.50)">AUC during GTT</text>
<circle cx="642.20" cy="44.50" r="1.35" fill="#fff" stroke="#2a2a2a" stroke-width="0.55"/>
<circle cx="640.60" cy="49.70" r="1.35" fill="#fff" stroke="#2a2a2a" stroke-width="0.55"/>
<circle cx="644.60" cy="49.70" r="1.35" fill="#fff" stroke="#2a2a2a" stroke-width="0.55"/>
<circle cx="635.60" cy="53.90" r="1.35" fill="#fff" stroke="#2a2a2a" stroke-width="0.55"/>
<circle cx="639.80" cy="53.90" r="1.35" fill="#fff" stroke="#2a2a2a" stroke-width="0.55"/>
<circle cx="643.80" cy="53.90" r="1.35" fill="#fff" stroke="#2a2a2a" stroke-width="0.55"/>
<circle cx="648.20" cy="53.90" r="1.35" fill="#fff" stroke="#2a2a2a" stroke-width="0.55"/>
<circle cx="639.80" cy="61.30" r="1.35" fill="#fff" stroke="#2a2a2a" stroke-width="0.55"/>
<circle cx="643.80" cy="62.90" r="1.35" fill="#fff" stroke="#2a2a2a" stroke-width="0.55"/>
<circle cx="642.20" cy="71.70" r="1.35" fill="#fff" stroke="#2a2a2a" stroke-width="0.55"/>
<circle cx="642.20" cy="76.00" r="1.35" fill="#fff" stroke="#2a2a2a" stroke-width="0.55"/>
<circle cx="642.20" cy="81.90" r="1.35" fill="#fff" stroke="#2a2a2a" stroke-width="0.55"/>
<circle cx="666.00" cy="35.00" r="1.35" fill="#fff" stroke="#2a2a2a" stroke-width="0.55"/>
<circle cx="666.00" cy="40.90" r="1.35" fill="#fff" stroke="#2a2a2a" stroke-width="0.55"/>
<circle cx="666.00" cy="50.30" r="1.35" fill="#fff" stroke="#2a2a2a" stroke-width="0.55"/>
<circle cx="666.00" cy="55.00" r="1.35" fill="#fff" stroke="#2a2a2a" stroke-width="0.55"/>
<circle cx="663.50" cy="58.60" r="1.35" fill="#fff" stroke="#2a2a2a" stroke-width="0.55"/>
<circle cx="668.70" cy="58.60" r="1.35" fill="#fff" stroke="#2a2a2a" stroke-width="0.55"/>
<circle cx="666.00" cy="71.30" r="1.35" fill="#fff" stroke="#2a2a2a" stroke-width="0.55"/>
<circle cx="661.00" cy="75.60" r="1.35" fill="#fff" stroke="#2a2a2a" stroke-width="0.55"/>
<circle cx="666.00" cy="77.20" r="1.35" fill="#fff" stroke="#2a2a2a" stroke-width="0.55"/>
<circle cx="671.90" cy="79.20" r="1.35" fill="#fff" stroke="#2a2a2a" stroke-width="0.55"/>
<text x="10.00" y="140.30" font-size="8.6" font-weight="bold" fill="#111" stroke="#111" stroke-width="0.1">f</text>
<rect x="29.00" y="154.60" width="127.00" height="85.10" fill="none" stroke="#444" stroke-width="0.9" rx="0"/>
<line x1="29.00" y1="154.60" x2="29.00" y2="239.70" stroke="#4a4a4a" stroke-width="0.9"/>
<line x1="27.00" y1="239.70" x2="29.00" y2="239.70" stroke="#4a4a4a" stroke-width="0.9"/>
<text x="25.90" y="241.82" font-size="5.9" text-anchor="end" fill="#222" stroke="#222" stroke-width="0.15">0</text>
<line x1="27.00" y1="222.68" x2="29.00" y2="222.68" stroke="#4a4a4a" stroke-width="0.9"/>
<text x="25.90" y="224.80" font-size="5.9" text-anchor="end" fill="#222" stroke="#222" stroke-width="0.15">2</text>
<line x1="27.00" y1="205.66" x2="29.00" y2="205.66" stroke="#4a4a4a" stroke-width="0.9"/>
<text x="25.90" y="207.78" font-size="5.9" text-anchor="end" fill="#222" stroke="#222" stroke-width="0.15">4</text>
<line x1="27.00" y1="188.64" x2="29.00" y2="188.64" stroke="#4a4a4a" stroke-width="0.9"/>
<text x="25.90" y="190.76" font-size="5.9" text-anchor="end" fill="#222" stroke="#222" stroke-width="0.15">6</text>
<line x1="27.00" y1="171.62" x2="29.00" y2="171.62" stroke="#4a4a4a" stroke-width="0.9"/>
<text x="25.90" y="173.74" font-size="5.9" text-anchor="end" fill="#222" stroke="#222" stroke-width="0.15">8</text>
<line x1="27.00" y1="154.60" x2="29.00" y2="154.60" stroke="#4a4a4a" stroke-width="0.9"/>
<text x="25.90" y="156.72" font-size="5.9" text-anchor="end" fill="#222" stroke="#222" stroke-width="0.15">10</text>
<line x1="29.00" y1="239.70" x2="156.00" y2="239.70" stroke="#4a4a4a" stroke-width="0.9"/>
<line x1="41.50" y1="239.70" x2="41.50" y2="241.70" stroke="#4a4a4a" stroke-width="0.9"/>
<text x="41.50" y="248.56" font-size="6.0" text-anchor="middle" fill="#222" stroke="#222" stroke-width="0.15">0</text>
<line x1="66.95" y1="239.70" x2="66.95" y2="241.70" stroke="#4a4a4a" stroke-width="0.9"/>
<text x="66.95" y="248.56" font-size="6.0" text-anchor="middle" fill="#222" stroke="#222" stroke-width="0.15">30</text>
<line x1="92.40" y1="239.70" x2="92.40" y2="241.70" stroke="#4a4a4a" stroke-width="0.9"/>
<text x="92.40" y="248.56" font-size="6.0" text-anchor="middle" fill="#222" stroke="#222" stroke-width="0.15">60</text>
<line x1="117.85" y1="239.70" x2="117.85" y2="241.70" stroke="#4a4a4a" stroke-width="0.9"/>
<text x="117.85" y="248.56" font-size="6.0" text-anchor="middle" fill="#222" stroke="#222" stroke-width="0.15">90</text>
<line x1="143.30" y1="239.70" x2="143.30" y2="241.70" stroke="#4a4a4a" stroke-width="0.9"/>
<text x="143.30" y="248.56" font-size="6.0" text-anchor="middle" fill="#222" stroke="#222" stroke-width="0.15">120</text>
<text x="94.50" y="257.34" font-size="5.4" text-anchor="middle" fill="#222" stroke="#222" stroke-width="0.15">Time (min)</text>
<text x="12.30" y="200.89" font-size="7.2" text-anchor="middle" fill="#222" stroke="#222" stroke-width="0.15" transform="rotate(-90 12.30 198.30)">Glucose level of ITT (mmol/L)</text>
<line x1="41.50" y1="179.40" x2="41.50" y2="203.00" stroke="#5656f2" stroke-width="0.6"/>
<line x1="39.50" y1="179.40" x2="43.50" y2="179.40" stroke="#5656f2" stroke-width="0.6"/>
<line x1="39.50" y1="203.00" x2="43.50" y2="203.00" stroke="#5656f2" stroke-width="0.6"/>
<line x1="66.95" y1="207.00" x2="66.95" y2="217.00" stroke="#5656f2" stroke-width="0.6"/>
<line x1="64.95" y1="207.00" x2="68.95" y2="207.00" stroke="#5656f2" stroke-width="0.6"/>
<line x1="64.95" y1="217.00" x2="68.95" y2="217.00" stroke="#5656f2" stroke-width="0.6"/>
<line x1="92.40" y1="218.00" x2="92.40" y2="226.50" stroke="#5656f2" stroke-width="0.6"/>
<line x1="90.40" y1="218.00" x2="94.40" y2="218.00" stroke="#5656f2" stroke-width="0.6"/>
<line x1="90.40" y1="226.50" x2="94.40" y2="226.50" stroke="#5656f2" stroke-width="0.6"/>
<line x1="117.85" y1="213.90" x2="117.85" y2="226.00" stroke="#5656f2" stroke-width="0.6"/>
<line x1="115.85" y1="213.90" x2="119.85" y2="213.90" stroke="#5656f2" stroke-width="0.6"/>
<line x1="115.85" y1="226.00" x2="119.85" y2="226.00" stroke="#5656f2" stroke-width="0.6"/>
<line x1="143.30" y1="205.80" x2="143.30" y2="219.30" stroke="#5656f2" stroke-width="0.6"/>
<line x1="141.30" y1="205.80" x2="145.30" y2="205.80" stroke="#5656f2" stroke-width="0.6"/>
<line x1="141.30" y1="219.30" x2="145.30" y2="219.30" stroke="#5656f2" stroke-width="0.6"/>
<line x1="41.50" y1="170.70" x2="41.50" y2="203.00" stroke="#f56262" stroke-width="0.6"/>
<line x1="39.50" y1="170.70" x2="43.50" y2="170.70" stroke="#f56262" stroke-width="0.6"/>
<line x1="39.50" y1="203.00" x2="43.50" y2="203.00" stroke="#f56262" stroke-width="0.6"/>
<line x1="66.95" y1="210.50" x2="66.95" y2="219.00" stroke="#f56262" stroke-width="0.6"/>
<line x1="64.95" y1="210.50" x2="68.95" y2="210.50" stroke="#f56262" stroke-width="0.6"/>
<line x1="64.95" y1="219.00" x2="68.95" y2="219.00" stroke="#f56262" stroke-width="0.6"/>
<line x1="92.40" y1="217.20" x2="92.40" y2="228.10" stroke="#f56262" stroke-width="0.6"/>
<line x1="90.40" y1="217.20" x2="94.40" y2="217.20" stroke="#f56262" stroke-width="0.6"/>
<line x1="90.40" y1="228.10" x2="94.40" y2="228.10" stroke="#f56262" stroke-width="0.6"/>
<line x1="117.85" y1="217.80" x2="117.85" y2="228.10" stroke="#f56262" stroke-width="0.6"/>
<line x1="115.85" y1="217.80" x2="119.85" y2="217.80" stroke="#f56262" stroke-width="0.6"/>
<line x1="115.85" y1="228.10" x2="119.85" y2="228.10" stroke="#f56262" stroke-width="0.6"/>
<line x1="143.30" y1="191.00" x2="143.30" y2="229.20" stroke="#f56262" stroke-width="0.6"/>
<line x1="141.30" y1="191.00" x2="145.30" y2="191.00" stroke="#f56262" stroke-width="0.6"/>
<line x1="141.30" y1="229.20" x2="145.30" y2="229.20" stroke="#f56262" stroke-width="0.6"/>
<path d="M41.50,191.00 L66.95,212.10 L92.40,222.20 L117.85,220.90 L143.30,212.80" fill="none" stroke="#3a3af2" stroke-width="0.7"/>
<path d="M41.50,187.20 L66.95,215.00 L92.40,222.20 L117.85,222.60 L143.30,210.60" fill="none" stroke="#f25a5a" stroke-width="0.7"/>
<rect x="39.40" y="188.90" width="4.20" height="4.20" fill="#0808d8" stroke="none" stroke-width="0" rx="0"/>
<rect x="64.85" y="210.00" width="4.20" height="4.20" fill="#0808d8" stroke="none" stroke-width="0" rx="0"/>
<rect x="90.30" y="220.10" width="4.20" height="4.20" fill="#0808d8" stroke="none" stroke-width="0" rx="0"/>
<rect x="115.75" y="218.80" width="4.20" height="4.20" fill="#0808d8" stroke="none" stroke-width="0" rx="0"/>
<rect x="141.20" y="210.70" width="4.20" height="4.20" fill="#0808d8" stroke="none" stroke-width="0" rx="0"/>
<circle cx="41.50" cy="187.20" r="2.2" fill="#fa1010" stroke="none" stroke-width="0"/>
<circle cx="66.95" cy="215.00" r="2.2" fill="#fa1010" stroke="none" stroke-width="0"/>
<circle cx="92.40" cy="222.20" r="2.2" fill="#fa1010" stroke="none" stroke-width="0"/>
<circle cx="117.85" cy="222.60" r="2.2" fill="#fa1010" stroke="none" stroke-width="0"/>
<circle cx="143.30" cy="210.60" r="2.2" fill="#fa1010" stroke="none" stroke-width="0"/>
<line x1="33.80" y1="159.30" x2="42.60" y2="159.30" stroke="#f46a6a" stroke-width="0.6"/>
<circle cx="38.20" cy="159.30" r="1.8" fill="#fa1010" stroke="none" stroke-width="0"/>
<line x1="33.80" y1="167.00" x2="42.60" y2="167.00" stroke="#4a4af0" stroke-width="0.6"/>
<rect x="36.50" y="165.30" width="3.40" height="3.40" fill="#0808d8" stroke="none" stroke-width="0" rx="0"/>
<text x="48.00" y="161.32" font-size="5.6" text-anchor="start" fill="#222" stroke="#222" stroke-width="0.15">HFD+PBS</text>
<text x="48.00" y="169.02" font-size="5.6" text-anchor="start" fill="#222" stroke="#222" stroke-width="0.15">HFD+<tspan font-style="italic">P.goldsteinii</tspan></text>
<text x="32.30" y="228.32" font-size="5.6" text-anchor="start" fill="#222" stroke="#222" stroke-width="0.15">Group:<tspan font-style="italic">P</tspan>=0.9332</text>
<text x="32.30" y="236.02" font-size="5.6" text-anchor="start" fill="#222" stroke="#222" stroke-width="0.15">Group:Time:<tspan font-style="italic">P</tspan>=0.7897</text>
<text x="171.60" y="140.10" font-size="8.6" font-weight="bold" fill="#111" stroke="#111" stroke-width="0.1">g</text>
<line x1="192.20" y1="152.70" x2="192.20" y2="237.20" stroke="#4a4a4a" stroke-width="0.9"/>
<line x1="190.10" y1="237.20" x2="192.20" y2="237.20" stroke="#4a4a4a" stroke-width="0.9"/>
<text x="188.90" y="239.29" font-size="5.8" text-anchor="end" fill="#222" stroke="#222" stroke-width="0.15">0</text>
<line x1="190.10" y1="209.03" x2="192.20" y2="209.03" stroke="#4a4a4a" stroke-width="0.9"/>
<text x="188.90" y="211.12" font-size="5.8" text-anchor="end" fill="#222" stroke="#222" stroke-width="0.15">200</text>
<line x1="190.10" y1="180.87" x2="192.20" y2="180.87" stroke="#4a4a4a" stroke-width="0.9"/>
<text x="188.90" y="182.95" font-size="5.8" text-anchor="end" fill="#222" stroke="#222" stroke-width="0.15">400</text>
<line x1="190.10" y1="152.70" x2="192.20" y2="152.70" stroke="#4a4a4a" stroke-width="0.9"/>
<text x="188.90" y="154.79" font-size="5.8" text-anchor="end" fill="#222" stroke="#222" stroke-width="0.15">600</text>
<line x1="192.20" y1="237.20" x2="248.90" y2="237.20" stroke="#4a4a4a" stroke-width="0.9"/>
<line x1="208.70" y1="237.20" x2="208.70" y2="239.20" stroke="#4a4a4a" stroke-width="0.9"/>
<line x1="232.60" y1="237.20" x2="232.60" y2="239.20" stroke="#4a4a4a" stroke-width="0.9"/>
<rect x="200.50" y="188.20" width="16.40" height="49.00" fill="#f73e3e" stroke="none" stroke-width="0" rx="0"/>
<rect x="224.50" y="187.10" width="16.30" height="50.10" fill="#0606f2" stroke="none" stroke-width="0" rx="0"/>
<line x1="204.70" y1="178.40" x2="212.70" y2="178.40" stroke="#222" stroke-width="0.75"/>
<line x1="208.70" y1="178.40" x2="208.70" y2="188.20" stroke="#222" stroke-width="0.75"/>
<line x1="228.60" y1="180.80" x2="236.60" y2="180.80" stroke="#222" stroke-width="0.75"/>
<line x1="232.60" y1="180.80" x2="232.60" y2="187.10" stroke="#222" stroke-width="0.75"/>
<path d="M208.4,165.0 L208.4,161.8 L232.6,161.8 L232.6,172.0" fill="none" stroke="#333" stroke-width="0.7"/>
<text x="221.20" y="159.62" font-size="5.9" text-anchor="middle" fill="#222" stroke="#222" stroke-width="0.15"><tspan font-style="italic">P</tspan>=0.7251</text>
<text x="208.70" y="246.14" font-size="5.4" text-anchor="middle" fill="#222" stroke="#222" stroke-width="0.15">HFD</text>
<text x="208.70" y="252.64" font-size="5.4" text-anchor="middle" fill="#222" stroke="#222" stroke-width="0.15">PBS</text>
<text x="232.60" y="246.69" font-size="5.8" text-anchor="middle" fill="#222" stroke="#222" stroke-width="0.15">HFD</text>
<text x="232.60" y="253.22" font-size="5.6" text-anchor="middle" fill="#222" font-style="italic" stroke="#222" stroke-width="0.15">P.goldsteinii</text>
<text x="171.70" y="197.48" font-size="6.9" text-anchor="middle" fill="#222" stroke="#222" stroke-width="0.15" transform="rotate(-90 171.70 195.00)">AUC during ITT</text>
<circle cx="208.40" cy="167.10" r="1.3" fill="#fff" stroke="#2a2a2a" stroke-width="0.55"/>
<circle cx="210.00" cy="181.60" r="1.3" fill="#fff" stroke="#2a2a2a" stroke-width="0.55"/>
<circle cx="202.10" cy="189.50" r="1.3" fill="#fff" stroke="#2a2a2a" stroke-width="0.55"/>
<circle cx="205.30" cy="190.30" r="1.3" fill="#fff" stroke="#2a2a2a" stroke-width="0.55"/>
<circle cx="208.40" cy="191.40" r="1.3" fill="#fff" stroke="#2a2a2a" stroke-width="0.55"/>
<circle cx="211.60" cy="189.50" r="1.3" fill="#fff" stroke="#2a2a2a" stroke-width="0.55"/>
<circle cx="214.80" cy="189.50" r="1.3" fill="#fff" stroke="#2a2a2a" stroke-width="0.55"/>
<circle cx="208.40" cy="196.60" r="1.3" fill="#fff" stroke="#2a2a2a" stroke-width="0.55"/>
<circle cx="208.40" cy="205.00" r="1.3" fill="#fff" stroke="#2a2a2a" stroke-width="0.55"/>
<circle cx="231.70" cy="175.30" r="1.3" fill="#fff" stroke="#2a2a2a" stroke-width="0.55"/>
<circle cx="229.80" cy="178.40" r="1.3" fill="#fff" stroke="#2a2a2a" stroke-width="0.55"/>
<circle cx="235.30" cy="181.30" r="1.3" fill="#fff" stroke="#2a2a2a" stroke-width="0.55"/>
<circle cx="235.30" cy="186.60" r="1.3" fill="#fff" stroke="#2a2a2a" stroke-width="0.55"/>
<circle cx="227.40" cy="189.20" r="1.3" fill="#fff" stroke="#2a2a2a" stroke-width="0.55"/>
<circle cx="230.60" cy="192.60" r="1.3" fill="#fff" stroke="#2a2a2a" stroke-width="0.55"/>
<circle cx="233.80" cy="191.40" r="1.3" fill="#fff" stroke="#2a2a2a" stroke-width="0.55"/>
<circle cx="238.10" cy="192.30" r="1.3" fill="#fff" stroke="#2a2a2a" stroke-width="0.55"/>
<circle cx="235.30" cy="196.60" r="1.3" fill="#fff" stroke="#2a2a2a" stroke-width="0.55"/>
<text x="269.70" y="140.30" font-size="8.6" font-weight="bold" fill="#111" stroke="#111" stroke-width="0.1">h</text>
<line x1="282.40" y1="158.60" x2="282.40" y2="243.20" stroke="#4a4a4a" stroke-width="0.9"/>
<line x1="279.10" y1="243.20" x2="282.40" y2="243.20" stroke="#4a4a4a" stroke-width="0.9"/>
<text x="277.90" y="245.32" font-size="5.9" text-anchor="end" fill="#222" stroke="#222" stroke-width="0.15">0</text>
<line x1="279.10" y1="222.05" x2="282.40" y2="222.05" stroke="#4a4a4a" stroke-width="0.9"/>
<text x="277.90" y="224.17" font-size="5.9" text-anchor="end" fill="#222" stroke="#222" stroke-width="0.15">1</text>
<line x1="279.10" y1="200.90" x2="282.40" y2="200.90" stroke="#4a4a4a" stroke-width="0.9"/>
<text x="277.90" y="203.02" font-size="5.9" text-anchor="end" fill="#222" stroke="#222" stroke-width="0.15">2</text>
<line x1="279.10" y1="179.75" x2="282.40" y2="179.75" stroke="#4a4a4a" stroke-width="0.9"/>
<text x="277.90" y="181.87" font-size="5.9" text-anchor="end" fill="#222" stroke="#222" stroke-width="0.15">3</text>
<line x1="279.10" y1="158.60" x2="282.40" y2="158.60" stroke="#4a4a4a" stroke-width="0.9"/>
<text x="277.90" y="160.72" font-size="5.9" text-anchor="end" fill="#222" stroke="#222" stroke-width="0.15">4</text>
<line x1="282.40" y1="243.20" x2="367.80" y2="243.20" stroke="#4a4a4a" stroke-width="0.9"/>
<line x1="302.30" y1="243.20" x2="302.30" y2="245.20" stroke="#4a4a4a" stroke-width="0.9"/>
<line x1="347.30" y1="243.20" x2="347.30" y2="245.20" stroke="#4a4a4a" stroke-width="0.9"/>
<rect x="288.20" y="222.50" width="11.50" height="20.70" fill="#f73e3e" stroke="none" stroke-width="0" rx="0"/>
<rect x="305.00" y="220.30" width="11.50" height="22.90" fill="#0606f2" stroke="none" stroke-width="0" rx="0"/>
<rect x="333.30" y="214.20" width="11.60" height="29.00" fill="#f73e3e" stroke="none" stroke-width="0" rx="0"/>
<rect x="350.30" y="209.90" width="11.40" height="33.30" fill="#0606f2" stroke="none" stroke-width="0" rx="0"/>
<line x1="291.10" y1="218.80" x2="296.70" y2="218.80" stroke="#222" stroke-width="0.7"/>
<line x1="293.90" y1="218.80" x2="293.90" y2="222.50" stroke="#222" stroke-width="0.7"/>
<line x1="307.90" y1="217.80" x2="313.50" y2="217.80" stroke="#222" stroke-width="0.7"/>
<line x1="310.70" y1="217.80" x2="310.70" y2="220.30" stroke="#222" stroke-width="0.7"/>
<line x1="335.60" y1="192.60" x2="342.40" y2="192.60" stroke="#222" stroke-width="0.7"/>
<line x1="339.00" y1="192.60" x2="339.00" y2="214.20" stroke="#222" stroke-width="0.7"/>
<line x1="352.60" y1="191.80" x2="359.40" y2="191.80" stroke="#222" stroke-width="0.7"/>
<line x1="356.00" y1="191.80" x2="356.00" y2="209.90" stroke="#222" stroke-width="0.7"/>
<path d="M293.8,216.0 L293.8,211.5 L310.8,211.5 L310.8,214.0" fill="none" stroke="#333" stroke-width="0.7"/>
<path d="M339.0,187.4 L339.0,176.0 L356.0,176.0 L356.0,179.0" fill="none" stroke="#333" stroke-width="0.7"/>
<text x="304.10" y="209.72" font-size="5.9" text-anchor="middle" fill="#222" stroke="#222" stroke-width="0.15"><tspan font-style="italic">P</tspan> =0.1350</text>
<text x="347.20" y="173.62" font-size="5.9" text-anchor="middle" fill="#222" stroke="#222" stroke-width="0.15"><tspan font-style="italic">P</tspan> =0.6438</text>
<text x="302.30" y="253.06" font-size="6.0" text-anchor="middle" fill="#222" stroke="#222" stroke-width="0.15">Liver</text>
<text x="347.30" y="253.06" font-size="6.0" text-anchor="middle" fill="#222" stroke="#222" stroke-width="0.15">eWAT</text>
<text x="268.40" y="204.72" font-size="7.0" text-anchor="middle" fill="#222" stroke="#222" stroke-width="0.15" transform="rotate(-90 268.40 202.20)">Weight of tissue (g)</text>
<circle cx="288.70" cy="158.00" r="1.8" fill="#f73e3e" stroke="none" stroke-width="0"/>
<text x="293.20" y="160.09" font-size="5.8" text-anchor="start" fill="#222" stroke="#222" stroke-width="0.15">HFD+PBS</text>
<circle cx="288.70" cy="164.70" r="1.8" fill="#0606f2" stroke="none" stroke-width="0"/>
<text x="293.20" y="166.79" font-size="5.8" text-anchor="start" fill="#222" stroke="#222" stroke-width="0.15">HFD+<tspan font-style="italic">P.goldsteinii</tspan></text>
<circle cx="293.50" cy="216.60" r="1.2" fill="#fff" stroke="#2a2a2a" stroke-width="0.5"/>
<circle cx="297.30" cy="220.80" r="1.2" fill="#fff" stroke="#2a2a2a" stroke-width="0.5"/>
<circle cx="290.50" cy="221.90" r="1.2" fill="#fff" stroke="#2a2a2a" stroke-width="0.5"/>
<circle cx="293.50" cy="223.40" r="1.2" fill="#fff" stroke="#2a2a2a" stroke-width="0.5"/>
<circle cx="292.00" cy="225.60" r="1.2" fill="#fff" stroke="#2a2a2a" stroke-width="0.5"/>
<circle cx="294.20" cy="228.00" r="1.2" fill="#fff" stroke="#2a2a2a" stroke-width="0.5"/>
<circle cx="298.00" cy="219.60" r="1.2" fill="#fff" stroke="#2a2a2a" stroke-width="0.5"/>
<circle cx="295.70" cy="221.10" r="1.2" fill="#fff" stroke="#2a2a2a" stroke-width="0.5"/>
<circle cx="310.00" cy="216.90" r="1.2" fill="#fff" stroke="#2a2a2a" stroke-width="0.5"/>
<circle cx="313.80" cy="218.90" r="1.2" fill="#fff" stroke="#2a2a2a" stroke-width="0.5"/>
<circle cx="307.00" cy="220.00" r="1.2" fill="#fff" stroke="#2a2a2a" stroke-width="0.5"/>
<circle cx="311.60" cy="221.90" r="1.2" fill="#fff" stroke="#2a2a2a" stroke-width="0.5"/>
<circle cx="309.30" cy="223.40" r="1.2" fill="#fff" stroke="#2a2a2a" stroke-width="0.5"/>
<circle cx="313.10" cy="225.00" r="1.2" fill="#fff" stroke="#2a2a2a" stroke-width="0.5"/>
<circle cx="306.30" cy="221.10" r="1.2" fill="#fff" stroke="#2a2a2a" stroke-width="0.5"/>
<circle cx="315.30" cy="219.70" r="1.2" fill="#fff" stroke="#2a2a2a" stroke-width="0.5"/>
<circle cx="338.90" cy="188.40" r="1.25" fill="#fff" stroke="#2a2a2a" stroke-width="0.55"/>
<circle cx="337.10" cy="194.80" r="1.25" fill="#fff" stroke="#2a2a2a" stroke-width="0.55"/>
<circle cx="340.10" cy="194.80" r="1.25" fill="#fff" stroke="#2a2a2a" stroke-width="0.55"/>
<circle cx="338.90" cy="198.60" r="1.25" fill="#fff" stroke="#2a2a2a" stroke-width="0.55"/>
<circle cx="338.90" cy="208.00" r="1.25" fill="#fff" stroke="#2a2a2a" stroke-width="0.55"/>
<circle cx="338.90" cy="213.40" r="1.25" fill="#fff" stroke="#2a2a2a" stroke-width="0.55"/>
<circle cx="334.90" cy="233.50" r="1.25" fill="#fff" stroke="#2a2a2a" stroke-width="0.55"/>
<circle cx="337.10" cy="234.70" r="1.25" fill="#fff" stroke="#2a2a2a" stroke-width="0.55"/>
<circle cx="340.10" cy="236.20" r="1.25" fill="#fff" stroke="#2a2a2a" stroke-width="0.55"/>
<circle cx="343.10" cy="236.70" r="1.25" fill="#fff" stroke="#2a2a2a" stroke-width="0.55"/>
<circle cx="356.30" cy="182.10" r="1.25" fill="#fff" stroke="#2a2a2a" stroke-width="0.55"/>
<circle cx="353.80" cy="192.60" r="1.25" fill="#fff" stroke="#2a2a2a" stroke-width="0.55"/>
<circle cx="358.30" cy="192.60" r="1.25" fill="#fff" stroke="#2a2a2a" stroke-width="0.55"/>
<circle cx="353.80" cy="203.10" r="1.25" fill="#fff" stroke="#2a2a2a" stroke-width="0.55"/>
<circle cx="358.30" cy="202.40" r="1.25" fill="#fff" stroke="#2a2a2a" stroke-width="0.55"/>
<circle cx="356.30" cy="210.30" r="1.25" fill="#fff" stroke="#2a2a2a" stroke-width="0.55"/>
<circle cx="353.00" cy="219.60" r="1.25" fill="#fff" stroke="#2a2a2a" stroke-width="0.55"/>
<circle cx="358.30" cy="223.40" r="1.25" fill="#fff" stroke="#2a2a2a" stroke-width="0.55"/>
<circle cx="353.00" cy="235.50" r="1.25" fill="#fff" stroke="#2a2a2a" stroke-width="0.55"/>
<circle cx="358.30" cy="237.00" r="1.25" fill="#fff" stroke="#2a2a2a" stroke-width="0.55"/>
<text x="392.10" y="140.30" font-size="8.6" font-weight="bold" fill="#111" stroke="#111" stroke-width="0.1">i</text>
<rect x="379.60" y="159.70" width="20.10" height="83.50" fill="#f8d89b" stroke="none" stroke-width="0" rx="0"/>
<text x="385.10" y="207.52" font-size="7.0" text-anchor="middle" fill="#222" stroke="#222" stroke-width="0.15" transform="rotate(-90 385.10 205.00)">4-week-old</text>
<text x="393.90" y="203.42" font-size="7.0" text-anchor="middle" fill="#222" stroke="#222" stroke-width="0.15" transform="rotate(-90 393.90 200.90)">transgenic <tspan font-style="italic">Fto</tspan>-KD mice</text>
<g transform="translate(393.00,141.50)"><path d="M29.6,55.8 C29.2,58.6 25.5,59.6 20.5,59.4 C16.5,59.2 14,58.8 12.8,57.9" fill="none" stroke="#b9786f" stroke-width="0.75"/><path d="M10.0,53.7 C10.6,51.8 12.4,48.6 13.6,46.8 L14.4,45.9 L15.6,46.6 C17,46.4 18.2,46.2 19.5,45.2 C20.8,44.3 21.8,43.9 23.2,43.9 C27.2,43.9 30.6,47.2 30.6,51.2 C30.6,53.8 29.8,55.9 27.5,56.4 C24,56.6 19.5,56.5 16.2,56.0 C13.5,55.6 11.5,55.0 10.0,54.0 Z" fill="#4f4946"/><ellipse cx="16.9" cy="48.4" rx="1.1" ry="1.8" fill="#b58680"/><path d="M15.2,55.6 C16.5,56.3 17.5,56.4 18.5,56.1 M22.5,56.2 C23.5,56.8 25,56.8 26,56.4" fill="none" stroke="#c48a80" stroke-width="0.6"/><path d="M7.0,52.4 L10.4,52.9" stroke="#b0b0b0" stroke-width="0.35"/></g>
<rect x="427.00" y="172.30" width="51.20" height="14.20" fill="#139fe6" stroke="none" stroke-width="0" rx="0"/>
<rect x="427.00" y="192.00" width="51.20" height="14.10" fill="#139fe6" stroke="none" stroke-width="0" rx="0"/>
<rect x="479.00" y="172.30" width="39.80" height="13.10" fill="#f0920e" stroke="none" stroke-width="0" rx="3.2"/>
<rect x="479.00" y="191.90" width="39.80" height="13.10" fill="#0000ee" stroke="none" stroke-width="0" rx="3.2"/>
<text x="452.60" y="181.78" font-size="6.6" text-anchor="middle" fill="#fff">HFD</text>
<text x="452.60" y="201.38" font-size="6.6" text-anchor="middle" fill="#fff">HFD</text>
<text x="498.90" y="181.24" font-size="6.5" text-anchor="middle" fill="#fff">NS</text>
<text x="498.60" y="200.95" font-size="6.8" text-anchor="middle" fill="#fff">MIAA</text>
<line x1="427.00" y1="213.30" x2="518.20" y2="213.30" stroke="#555" stroke-width="0.8"/>
<line x1="427.00" y1="213.30" x2="427.00" y2="219.20" stroke="#555" stroke-width="0.8"/>
<line x1="479.50" y1="213.30" x2="479.50" y2="219.20" stroke="#555" stroke-width="0.8"/>
<line x1="518.20" y1="213.30" x2="518.20" y2="219.20" stroke="#555" stroke-width="0.8"/>
<text x="427.00" y="229.65" font-size="6.8" text-anchor="middle" fill="#222" stroke="#222" stroke-width="0.05">0</text>
<text x="479.30" y="229.85" font-size="6.8" text-anchor="middle" fill="#222" stroke="#222" stroke-width="0.05">8</text>
<text x="516.60" y="228.85" font-size="6.8" text-anchor="middle" fill="#222" stroke="#222" stroke-width="0.05">12</text>
<text x="479.00" y="237.22" font-size="7.0" text-anchor="middle" fill="#222" stroke="#222" stroke-width="0.05">Week</text>
<text x="539.90" y="140.30" font-size="8.6" font-weight="bold" fill="#111" stroke="#111" stroke-width="0.1">j</text>
<rect x="555.90" y="158.40" width="126.40" height="84.80" fill="none" stroke="#444" stroke-width="0.9" rx="0"/>
<line x1="555.90" y1="158.40" x2="555.90" y2="243.20" stroke="#4a4a4a" stroke-width="0.9"/>
<line x1="553.70" y1="243.20" x2="555.90" y2="243.20" stroke="#4a4a4a" stroke-width="0.9"/>
<text x="552.70" y="245.29" font-size="5.8" text-anchor="end" fill="#222" stroke="#222" stroke-width="0.15">0</text>
<line x1="553.70" y1="226.24" x2="555.90" y2="226.24" stroke="#4a4a4a" stroke-width="0.9"/>
<text x="552.70" y="228.33" font-size="5.8" text-anchor="end" fill="#222" stroke="#222" stroke-width="0.15">10</text>
<line x1="553.70" y1="209.28" x2="555.90" y2="209.28" stroke="#4a4a4a" stroke-width="0.9"/>
<text x="552.70" y="211.37" font-size="5.8" text-anchor="end" fill="#222" stroke="#222" stroke-width="0.15">20</text>
<line x1="553.70" y1="192.32" x2="555.90" y2="192.32" stroke="#4a4a4a" stroke-width="0.9"/>
<text x="552.70" y="194.41" font-size="5.8" text-anchor="end" fill="#222" stroke="#222" stroke-width="0.15">30</text>
<line x1="553.70" y1="175.36" x2="555.90" y2="175.36" stroke="#4a4a4a" stroke-width="0.9"/>
<text x="552.70" y="177.45" font-size="5.8" text-anchor="end" fill="#222" stroke="#222" stroke-width="0.15">40</text>
<line x1="553.70" y1="158.40" x2="555.90" y2="158.40" stroke="#4a4a4a" stroke-width="0.9"/>
<text x="552.70" y="160.49" font-size="5.8" text-anchor="end" fill="#222" stroke="#222" stroke-width="0.15">50</text>
<line x1="555.90" y1="243.20" x2="682.30" y2="243.20" stroke="#4a4a4a" stroke-width="0.9"/>
<line x1="560.70" y1="243.20" x2="560.70" y2="245.20" stroke="#4a4a4a" stroke-width="0.9"/>
<text x="560.70" y="253.49" font-size="5.8" text-anchor="middle" fill="#222" stroke="#222" stroke-width="0.15">0</text>
<line x1="570.52" y1="243.20" x2="570.52" y2="245.20" stroke="#4a4a4a" stroke-width="0.9"/>
<text x="570.52" y="253.49" font-size="5.8" text-anchor="middle" fill="#222" stroke="#222" stroke-width="0.15">1</text>
<line x1="580.34" y1="243.20" x2="580.34" y2="245.20" stroke="#4a4a4a" stroke-width="0.9"/>
<text x="580.34" y="253.49" font-size="5.8" text-anchor="middle" fill="#222" stroke="#222" stroke-width="0.15">2</text>
<line x1="590.16" y1="243.20" x2="590.16" y2="245.20" stroke="#4a4a4a" stroke-width="0.9"/>
<text x="590.16" y="253.49" font-size="5.8" text-anchor="middle" fill="#222" stroke="#222" stroke-width="0.15">3</text>
<line x1="599.98" y1="243.20" x2="599.98" y2="245.20" stroke="#4a4a4a" stroke-width="0.9"/>
<text x="599.98" y="253.49" font-size="5.8" text-anchor="middle" fill="#222" stroke="#222" stroke-width="0.15">4</text>
<line x1="609.80" y1="243.20" x2="609.80" y2="245.20" stroke="#4a4a4a" stroke-width="0.9"/>
<text x="609.80" y="253.49" font-size="5.8" text-anchor="middle" fill="#222" stroke="#222" stroke-width="0.15">5</text>
<line x1="619.62" y1="243.20" x2="619.62" y2="245.20" stroke="#4a4a4a" stroke-width="0.9"/>
<text x="619.62" y="253.49" font-size="5.8" text-anchor="middle" fill="#222" stroke="#222" stroke-width="0.15">6</text>
<line x1="629.44" y1="243.20" x2="629.44" y2="245.20" stroke="#4a4a4a" stroke-width="0.9"/>
<text x="629.44" y="253.49" font-size="5.8" text-anchor="middle" fill="#222" stroke="#222" stroke-width="0.15">7</text>
<line x1="639.26" y1="243.20" x2="639.26" y2="245.20" stroke="#4a4a4a" stroke-width="0.9"/>
<text x="639.26" y="253.49" font-size="5.8" text-anchor="middle" fill="#222" stroke="#222" stroke-width="0.15">8</text>
<line x1="649.08" y1="243.20" x2="649.08" y2="245.20" stroke="#4a4a4a" stroke-width="0.9"/>
<text x="649.08" y="253.49" font-size="5.8" text-anchor="middle" fill="#222" stroke="#222" stroke-width="0.15">9</text>
<line x1="658.90" y1="243.20" x2="658.90" y2="245.20" stroke="#4a4a4a" stroke-width="0.9"/>
<text x="658.90" y="253.49" font-size="5.8" text-anchor="middle" fill="#222" stroke="#222" stroke-width="0.15">10</text>
<line x1="668.72" y1="243.20" x2="668.72" y2="245.20" stroke="#4a4a4a" stroke-width="0.9"/>
<text x="668.72" y="253.49" font-size="5.8" text-anchor="middle" fill="#222" stroke="#222" stroke-width="0.15">11</text>
<line x1="678.54" y1="243.20" x2="678.54" y2="245.20" stroke="#4a4a4a" stroke-width="0.9"/>
<text x="678.54" y="253.49" font-size="5.8" text-anchor="middle" fill="#222" stroke="#222" stroke-width="0.15">12</text>
<text x="619.60" y="262.98" font-size="6.6" text-anchor="middle" fill="#222" stroke="#222" stroke-width="0.15">Week</text>
<text x="538.20" y="203.52" font-size="7.0" text-anchor="middle" fill="#222" stroke="#222" stroke-width="0.15" transform="rotate(-90 538.20 201.00)">Body weight (g)</text>
<line x1="560.70" y1="205.50" x2="560.70" y2="212.50" stroke="#5a5af5" stroke-width="0.6"/>
<line x1="558.90" y1="205.50" x2="562.50" y2="205.50" stroke="#5a5af5" stroke-width="0.6"/>
<line x1="558.90" y1="212.50" x2="562.50" y2="212.50" stroke="#5a5af5" stroke-width="0.6"/>
<line x1="580.34" y1="196.00" x2="580.34" y2="203.00" stroke="#5a5af5" stroke-width="0.6"/>
<line x1="578.54" y1="196.00" x2="582.14" y2="196.00" stroke="#5a5af5" stroke-width="0.6"/>
<line x1="578.54" y1="203.00" x2="582.14" y2="203.00" stroke="#5a5af5" stroke-width="0.6"/>
<line x1="599.98" y1="191.50" x2="599.98" y2="198.50" stroke="#5a5af5" stroke-width="0.6"/>
<line x1="598.18" y1="191.50" x2="601.78" y2="191.50" stroke="#5a5af5" stroke-width="0.6"/>
<line x1="598.18" y1="198.50" x2="601.78" y2="198.50" stroke="#5a5af5" stroke-width="0.6"/>
<line x1="619.62" y1="183.50" x2="619.62" y2="193.00" stroke="#5a5af5" stroke-width="0.6"/>
<line x1="617.82" y1="183.50" x2="621.42" y2="183.50" stroke="#5a5af5" stroke-width="0.6"/>
<line x1="617.82" y1="193.00" x2="621.42" y2="193.00" stroke="#5a5af5" stroke-width="0.6"/>
<line x1="639.26" y1="176.40" x2="639.26" y2="190.10" stroke="#5a5af5" stroke-width="0.6"/>
<line x1="637.46" y1="176.40" x2="641.06" y2="176.40" stroke="#5a5af5" stroke-width="0.6"/>
<line x1="637.46" y1="190.10" x2="641.06" y2="190.10" stroke="#5a5af5" stroke-width="0.6"/>
<line x1="649.08" y1="176.50" x2="649.08" y2="188.50" stroke="#5a5af5" stroke-width="0.6"/>
<line x1="647.28" y1="176.50" x2="650.88" y2="176.50" stroke="#5a5af5" stroke-width="0.6"/>
<line x1="647.28" y1="188.50" x2="650.88" y2="188.50" stroke="#5a5af5" stroke-width="0.6"/>
<line x1="658.90" y1="175.00" x2="658.90" y2="188.50" stroke="#5a5af5" stroke-width="0.6"/>
<line x1="657.10" y1="175.00" x2="660.70" y2="175.00" stroke="#5a5af5" stroke-width="0.6"/>
<line x1="657.10" y1="188.50" x2="660.70" y2="188.50" stroke="#5a5af5" stroke-width="0.6"/>
<line x1="668.72" y1="171.30" x2="668.72" y2="185.50" stroke="#5a5af5" stroke-width="0.6"/>
<line x1="666.92" y1="171.30" x2="670.52" y2="171.30" stroke="#5a5af5" stroke-width="0.6"/>
<line x1="666.92" y1="185.50" x2="670.52" y2="185.50" stroke="#5a5af5" stroke-width="0.6"/>
<line x1="678.54" y1="171.70" x2="678.54" y2="185.00" stroke="#5a5af5" stroke-width="0.6"/>
<line x1="676.74" y1="171.70" x2="680.34" y2="171.70" stroke="#5a5af5" stroke-width="0.6"/>
<line x1="676.74" y1="185.00" x2="680.34" y2="185.00" stroke="#5a5af5" stroke-width="0.6"/>
<line x1="560.70" y1="205.00" x2="560.70" y2="212.00" stroke="#f7a050" stroke-width="0.6"/>
<line x1="558.90" y1="205.00" x2="562.50" y2="205.00" stroke="#f7a050" stroke-width="0.6"/>
<line x1="558.90" y1="212.00" x2="562.50" y2="212.00" stroke="#f7a050" stroke-width="0.6"/>
<line x1="580.34" y1="197.00" x2="580.34" y2="204.50" stroke="#f7a050" stroke-width="0.6"/>
<line x1="578.54" y1="197.00" x2="582.14" y2="197.00" stroke="#f7a050" stroke-width="0.6"/>
<line x1="578.54" y1="204.50" x2="582.14" y2="204.50" stroke="#f7a050" stroke-width="0.6"/>
<line x1="599.98" y1="192.50" x2="599.98" y2="199.50" stroke="#f7a050" stroke-width="0.6"/>
<line x1="598.18" y1="192.50" x2="601.78" y2="192.50" stroke="#f7a050" stroke-width="0.6"/>
<line x1="598.18" y1="199.50" x2="601.78" y2="199.50" stroke="#f7a050" stroke-width="0.6"/>
<line x1="619.62" y1="186.00" x2="619.62" y2="194.20" stroke="#f7a050" stroke-width="0.6"/>
<line x1="617.82" y1="186.00" x2="621.42" y2="186.00" stroke="#f7a050" stroke-width="0.6"/>
<line x1="617.82" y1="194.20" x2="621.42" y2="194.20" stroke="#f7a050" stroke-width="0.6"/>
<line x1="639.26" y1="179.00" x2="639.26" y2="189.50" stroke="#f7a050" stroke-width="0.6"/>
<line x1="637.46" y1="179.00" x2="641.06" y2="179.00" stroke="#f7a050" stroke-width="0.6"/>
<line x1="637.46" y1="189.50" x2="641.06" y2="189.50" stroke="#f7a050" stroke-width="0.6"/>
<line x1="649.08" y1="178.50" x2="649.08" y2="189.50" stroke="#f7a050" stroke-width="0.6"/>
<line x1="647.28" y1="178.50" x2="650.88" y2="178.50" stroke="#f7a050" stroke-width="0.6"/>
<line x1="647.28" y1="189.50" x2="650.88" y2="189.50" stroke="#f7a050" stroke-width="0.6"/>
<line x1="658.90" y1="176.50" x2="658.90" y2="189.50" stroke="#f7a050" stroke-width="0.6"/>
<line x1="657.10" y1="176.50" x2="660.70" y2="176.50" stroke="#f7a050" stroke-width="0.6"/>
<line x1="657.10" y1="189.50" x2="660.70" y2="189.50" stroke="#f7a050" stroke-width="0.6"/>
<line x1="668.72" y1="174.00" x2="668.72" y2="187.50" stroke="#f7a050" stroke-width="0.6"/>
<line x1="666.92" y1="174.00" x2="670.52" y2="174.00" stroke="#f7a050" stroke-width="0.6"/>
<line x1="666.92" y1="187.50" x2="670.52" y2="187.50" stroke="#f7a050" stroke-width="0.6"/>
<line x1="678.54" y1="174.00" x2="678.54" y2="185.40" stroke="#f7a050" stroke-width="0.6"/>
<line x1="676.74" y1="174.00" x2="680.34" y2="174.00" stroke="#f7a050" stroke-width="0.6"/>
<line x1="676.74" y1="185.40" x2="680.34" y2="185.40" stroke="#f7a050" stroke-width="0.6"/>
<path d="M560.70,209.10 L580.34,199.90 L599.98,195.20 L619.62,188.60 L639.26,182.50 L649.08,182.50 L658.90,181.90 L668.72,178.40 L678.54,178.40" fill="none" stroke="#3a3af2" stroke-width="0.7"/>
<path d="M560.70,208.50 L580.34,200.90 L599.98,196.20 L619.62,190.10 L639.26,184.30 L649.08,184.00 L658.90,182.90 L668.72,180.90 L678.54,179.90" fill="none" stroke="#f7a040" stroke-width="0.7"/>
<rect x="558.80" y="207.20" width="3.80" height="3.80" fill="#0808d8" stroke="none" stroke-width="0" rx="0"/>
<rect x="578.44" y="198.00" width="3.80" height="3.80" fill="#0808d8" stroke="none" stroke-width="0" rx="0"/>
<rect x="598.08" y="193.30" width="3.80" height="3.80" fill="#0808d8" stroke="none" stroke-width="0" rx="0"/>
<rect x="617.72" y="186.70" width="3.80" height="3.80" fill="#0808d8" stroke="none" stroke-width="0" rx="0"/>
<rect x="637.36" y="180.60" width="3.80" height="3.80" fill="#0808d8" stroke="none" stroke-width="0" rx="0"/>
<rect x="647.18" y="180.60" width="3.80" height="3.80" fill="#0808d8" stroke="none" stroke-width="0" rx="0"/>
<rect x="657.00" y="180.00" width="3.80" height="3.80" fill="#0808d8" stroke="none" stroke-width="0" rx="0"/>
<rect x="666.82" y="176.50" width="3.80" height="3.80" fill="#0808d8" stroke="none" stroke-width="0" rx="0"/>
<rect x="676.64" y="176.50" width="3.80" height="3.80" fill="#0808d8" stroke="none" stroke-width="0" rx="0"/>
<circle cx="560.70" cy="208.50" r="2.0" fill="#f7880f" stroke="none" stroke-width="0"/>
<circle cx="580.34" cy="200.90" r="2.0" fill="#f7880f" stroke="none" stroke-width="0"/>
<circle cx="599.98" cy="196.20" r="2.0" fill="#f7880f" stroke="none" stroke-width="0"/>
<circle cx="619.62" cy="190.10" r="2.0" fill="#f7880f" stroke="none" stroke-width="0"/>
<circle cx="639.26" cy="184.30" r="2.0" fill="#f7880f" stroke="none" stroke-width="0"/>
<circle cx="649.08" cy="184.00" r="2.0" fill="#f7880f" stroke="none" stroke-width="0"/>
<circle cx="658.90" cy="182.90" r="2.0" fill="#f7880f" stroke="none" stroke-width="0"/>
<circle cx="668.72" cy="180.90" r="2.0" fill="#f7880f" stroke="none" stroke-width="0"/>
<circle cx="678.54" cy="179.90" r="2.0" fill="#f7880f" stroke="none" stroke-width="0"/>
<line x1="559.30" y1="163.50" x2="569.10" y2="163.50" stroke="#f7a040" stroke-width="0.6"/>
<circle cx="564.20" cy="163.50" r="1.8" fill="#f7880f" stroke="none" stroke-width="0"/>
<line x1="559.30" y1="171.70" x2="569.10" y2="171.70" stroke="#4a4af0" stroke-width="0.6"/>
<rect x="562.50" y="170.00" width="3.40" height="3.40" fill="#0808d8" stroke="none" stroke-width="0" rx="0"/>
<text x="573.60" y="165.59" font-size="5.8" text-anchor="start" fill="#222" stroke="#222" stroke-width="0.15">HFD+NS</text>
<text x="573.60" y="173.79" font-size="5.8" text-anchor="start" fill="#222" stroke="#222" stroke-width="0.15">HFD+MIAA</text>
<text x="620.00" y="229.97" font-size="5.75" text-anchor="start" fill="#222" stroke="#222" stroke-width="0.15">Group:<tspan font-style="italic">P</tspan>=0.5756 (<tspan font-style="italic">n</tspan>=10)</text>
<text x="620.00" y="238.57" font-size="5.75" text-anchor="start" fill="#222" stroke="#222" stroke-width="0.15">Group:Week:<tspan font-style="italic">P</tspan>=0.8410</text>
<text x="5.60" y="278.80" font-size="8.6" font-weight="bold" fill="#111" stroke="#111" stroke-width="0.1">k</text>
<line x1="20.20" y1="294.40" x2="20.20" y2="379.30" stroke="#4a4a4a" stroke-width="0.9"/>
<line x1="17.50" y1="379.30" x2="20.20" y2="379.30" stroke="#4a4a4a" stroke-width="0.9"/>
<text x="16.20" y="381.39" font-size="5.8" text-anchor="end" fill="#222" stroke="#222" stroke-width="0.15">5</text>
<line x1="17.50" y1="358.07" x2="20.20" y2="358.07" stroke="#4a4a4a" stroke-width="0.9"/>
<text x="16.20" y="360.16" font-size="5.8" text-anchor="end" fill="#222" stroke="#222" stroke-width="0.15">10</text>
<line x1="17.50" y1="336.85" x2="20.20" y2="336.85" stroke="#4a4a4a" stroke-width="0.9"/>
<text x="16.20" y="338.94" font-size="5.8" text-anchor="end" fill="#222" stroke="#222" stroke-width="0.15">15</text>
<line x1="17.50" y1="315.62" x2="20.20" y2="315.62" stroke="#4a4a4a" stroke-width="0.9"/>
<text x="16.20" y="317.71" font-size="5.8" text-anchor="end" fill="#222" stroke="#222" stroke-width="0.15">20</text>
<line x1="17.50" y1="294.40" x2="20.20" y2="294.40" stroke="#4a4a4a" stroke-width="0.9"/>
<text x="16.20" y="296.49" font-size="5.8" text-anchor="end" fill="#222" stroke="#222" stroke-width="0.15">25</text>
<line x1="20.20" y1="379.30" x2="70.60" y2="379.30" stroke="#4a4a4a" stroke-width="0.9"/>
<line x1="37.00" y1="379.30" x2="37.00" y2="381.30" stroke="#4a4a4a" stroke-width="0.9"/>
<line x1="61.10" y1="379.30" x2="61.10" y2="381.30" stroke="#4a4a4a" stroke-width="0.9"/>
<rect x="29.10" y="329.80" width="15.80" height="49.50" fill="#fd8204" stroke="none" stroke-width="0" rx="0"/>
<rect x="53.10" y="326.20" width="16.00" height="53.10" fill="#0505f5" stroke="none" stroke-width="0" rx="0"/>
<line x1="33.00" y1="316.10" x2="41.00" y2="316.10" stroke="#222" stroke-width="0.75"/>
<line x1="37.00" y1="316.10" x2="37.00" y2="329.80" stroke="#222" stroke-width="0.75"/>
<line x1="57.10" y1="313.60" x2="65.10" y2="313.60" stroke="#222" stroke-width="0.75"/>
<line x1="61.10" y1="313.60" x2="61.10" y2="326.20" stroke="#222" stroke-width="0.75"/>
<path d="M36.9,304.9 L36.9,301.5 L61.1,301.5 L61.1,303.6" fill="none" stroke="#333" stroke-width="0.7"/>
<text x="48.80" y="299.42" font-size="5.6" text-anchor="middle" fill="#222" stroke="#222" stroke-width="0.15"><tspan font-style="italic">P</tspan>=0.5468</text>
<text x="37.00" y="388.72" font-size="5.6" text-anchor="middle" fill="#222" stroke="#222" stroke-width="0.15">HFD</text>
<text x="37.00" y="395.22" font-size="5.6" text-anchor="middle" fill="#222" stroke="#222" stroke-width="0.15">NS</text>
<text x="61.10" y="388.72" font-size="5.6" text-anchor="middle" fill="#222" stroke="#222" stroke-width="0.15">HFD</text>
<text x="61.10" y="395.22" font-size="5.6" text-anchor="middle" fill="#222" stroke="#222" stroke-width="0.15">MIAA</text>
<text x="3.60" y="338.56" font-size="7.1" text-anchor="middle" fill="#222" stroke="#222" stroke-width="0.15" transform="rotate(-90 3.60 336.00)">Body weight gain (g)</text>
<circle cx="37.50" cy="311.50" r="1.5" fill="#fff" stroke="#2a2a2a" stroke-width="0.55"/>
<circle cx="35.80" cy="311.50" r="1.5" fill="#fff" stroke="#2a2a2a" stroke-width="0.55"/>
<circle cx="39.00" cy="311.50" r="1.5" fill="#fff" stroke="#2a2a2a" stroke-width="0.55"/>
<circle cx="35.40" cy="320.30" r="1.5" fill="#fff" stroke="#2a2a2a" stroke-width="0.55"/>
<circle cx="37.90" cy="322.40" r="1.5" fill="#fff" stroke="#2a2a2a" stroke-width="0.55"/>
<circle cx="35.40" cy="328.30" r="1.5" fill="#fff" stroke="#2a2a2a" stroke-width="0.55"/>
<circle cx="37.90" cy="333.00" r="1.5" fill="#fff" stroke="#2a2a2a" stroke-width="0.55"/>
<circle cx="35.40" cy="340.40" r="1.5" fill="#fff" stroke="#2a2a2a" stroke-width="0.55"/>
<circle cx="37.90" cy="341.40" r="1.5" fill="#fff" stroke="#2a2a2a" stroke-width="0.55"/>
<circle cx="36.90" cy="356.20" r="1.5" fill="#fff" stroke="#2a2a2a" stroke-width="0.55"/>
<circle cx="61.10" cy="305.60" r="1.5" fill="#fff" stroke="#2a2a2a" stroke-width="0.55"/>
<circle cx="61.10" cy="313.00" r="1.5" fill="#fff" stroke="#2a2a2a" stroke-width="0.55"/>
<circle cx="59.40" cy="318.20" r="1.5" fill="#fff" stroke="#2a2a2a" stroke-width="0.55"/>
<circle cx="62.20" cy="323.50" r="1.5" fill="#fff" stroke="#2a2a2a" stroke-width="0.55"/>
<circle cx="59.60" cy="323.50" r="1.5" fill="#fff" stroke="#2a2a2a" stroke-width="0.55"/>
<circle cx="59.00" cy="328.80" r="1.5" fill="#fff" stroke="#2a2a2a" stroke-width="0.55"/>
<circle cx="62.60" cy="329.80" r="1.5" fill="#fff" stroke="#2a2a2a" stroke-width="0.55"/>
<circle cx="60.10" cy="333.40" r="1.5" fill="#fff" stroke="#2a2a2a" stroke-width="0.55"/>
<circle cx="62.60" cy="335.50" r="1.5" fill="#fff" stroke="#2a2a2a" stroke-width="0.55"/>
<circle cx="61.10" cy="349.80" r="1.5" fill="#fff" stroke="#2a2a2a" stroke-width="0.55"/>
<text x="93.60" y="279.00" font-size="8.6" font-weight="bold" fill="#111" stroke="#111" stroke-width="0.1">l</text>
<rect x="109.40" y="294.50" width="126.90" height="84.70" fill="none" stroke="#444" stroke-width="0.9" rx="0"/>
<line x1="109.40" y1="294.50" x2="109.40" y2="379.20" stroke="#4a4a4a" stroke-width="0.9"/>
<line x1="106.20" y1="379.20" x2="109.40" y2="379.20" stroke="#4a4a4a" stroke-width="0.9"/>
<text x="105.10" y="381.32" font-size="5.9" text-anchor="end" fill="#222" stroke="#222" stroke-width="0.15">0</text>
<line x1="106.20" y1="358.02" x2="109.40" y2="358.02" stroke="#4a4a4a" stroke-width="0.9"/>
<text x="105.10" y="360.15" font-size="5.9" text-anchor="end" fill="#222" stroke="#222" stroke-width="0.15">10</text>
<line x1="106.20" y1="336.85" x2="109.40" y2="336.85" stroke="#4a4a4a" stroke-width="0.9"/>
<text x="105.10" y="338.97" font-size="5.9" text-anchor="end" fill="#222" stroke="#222" stroke-width="0.15">20</text>
<line x1="106.20" y1="315.68" x2="109.40" y2="315.68" stroke="#4a4a4a" stroke-width="0.9"/>
<text x="105.10" y="317.80" font-size="5.9" text-anchor="end" fill="#222" stroke="#222" stroke-width="0.15">30</text>
<line x1="106.20" y1="294.50" x2="109.40" y2="294.50" stroke="#4a4a4a" stroke-width="0.9"/>
<text x="105.10" y="296.62" font-size="5.9" text-anchor="end" fill="#222" stroke="#222" stroke-width="0.15">40</text>
<line x1="109.40" y1="379.20" x2="236.30" y2="379.20" stroke="#4a4a4a" stroke-width="0.9"/>
<line x1="121.60" y1="379.20" x2="121.60" y2="381.20" stroke="#4a4a4a" stroke-width="0.9"/>
<text x="121.60" y="389.16" font-size="6.0" text-anchor="middle" fill="#222" stroke="#222" stroke-width="0.15">0</text>
<line x1="147.03" y1="379.20" x2="147.03" y2="381.20" stroke="#4a4a4a" stroke-width="0.9"/>
<text x="147.03" y="389.16" font-size="6.0" text-anchor="middle" fill="#222" stroke="#222" stroke-width="0.15">30</text>
<line x1="172.45" y1="379.20" x2="172.45" y2="381.20" stroke="#4a4a4a" stroke-width="0.9"/>
<text x="172.45" y="389.16" font-size="6.0" text-anchor="middle" fill="#222" stroke="#222" stroke-width="0.15">60</text>
<line x1="197.88" y1="379.20" x2="197.88" y2="381.20" stroke="#4a4a4a" stroke-width="0.9"/>
<text x="197.88" y="389.16" font-size="6.0" text-anchor="middle" fill="#222" stroke="#222" stroke-width="0.15">90</text>
<line x1="223.30" y1="379.20" x2="223.30" y2="381.20" stroke="#4a4a4a" stroke-width="0.9"/>
<text x="223.30" y="389.16" font-size="6.0" text-anchor="middle" fill="#222" stroke="#222" stroke-width="0.15">120</text>
<text x="92.10" y="340.42" font-size="7.0" text-anchor="middle" fill="#222" stroke="#222" stroke-width="0.15" transform="rotate(-90 92.10 337.90)">Glucose level of GTT (mmol/L)</text>
<line x1="121.60" y1="363.00" x2="121.60" y2="369.50" stroke="#5a5af5" stroke-width="0.6"/>
<line x1="119.60" y1="363.00" x2="123.60" y2="363.00" stroke="#5a5af5" stroke-width="0.6"/>
<line x1="119.60" y1="369.50" x2="123.60" y2="369.50" stroke="#5a5af5" stroke-width="0.6"/>
<line x1="147.03" y1="308.30" x2="147.03" y2="326.60" stroke="#5a5af5" stroke-width="0.6"/>
<line x1="145.03" y1="308.30" x2="149.03" y2="308.30" stroke="#5a5af5" stroke-width="0.6"/>
<line x1="145.03" y1="326.60" x2="149.03" y2="326.60" stroke="#5a5af5" stroke-width="0.6"/>
<line x1="172.45" y1="317.30" x2="172.45" y2="340.20" stroke="#5a5af5" stroke-width="0.6"/>
<line x1="170.45" y1="317.30" x2="174.45" y2="317.30" stroke="#5a5af5" stroke-width="0.6"/>
<line x1="170.45" y1="340.20" x2="174.45" y2="340.20" stroke="#5a5af5" stroke-width="0.6"/>
<line x1="197.88" y1="332.10" x2="197.88" y2="355.90" stroke="#5a5af5" stroke-width="0.6"/>
<line x1="195.88" y1="332.10" x2="199.88" y2="332.10" stroke="#5a5af5" stroke-width="0.6"/>
<line x1="195.88" y1="355.90" x2="199.88" y2="355.90" stroke="#5a5af5" stroke-width="0.6"/>
<line x1="223.30" y1="343.30" x2="223.30" y2="369.30" stroke="#5a5af5" stroke-width="0.6"/>
<line x1="221.30" y1="343.30" x2="225.30" y2="343.30" stroke="#5a5af5" stroke-width="0.6"/>
<line x1="221.30" y1="369.30" x2="225.30" y2="369.30" stroke="#5a5af5" stroke-width="0.6"/>
<line x1="121.60" y1="361.50" x2="121.60" y2="369.00" stroke="#f7a050" stroke-width="0.6"/>
<line x1="119.60" y1="361.50" x2="123.60" y2="361.50" stroke="#f7a050" stroke-width="0.6"/>
<line x1="119.60" y1="369.00" x2="123.60" y2="369.00" stroke="#f7a050" stroke-width="0.6"/>
<line x1="147.03" y1="311.80" x2="147.03" y2="326.00" stroke="#f7a050" stroke-width="0.6"/>
<line x1="145.03" y1="311.80" x2="149.03" y2="311.80" stroke="#f7a050" stroke-width="0.6"/>
<line x1="145.03" y1="326.00" x2="149.03" y2="326.00" stroke="#f7a050" stroke-width="0.6"/>
<line x1="172.45" y1="313.20" x2="172.45" y2="339.20" stroke="#f7a050" stroke-width="0.6"/>
<line x1="170.45" y1="313.20" x2="174.45" y2="313.20" stroke="#f7a050" stroke-width="0.6"/>
<line x1="170.45" y1="339.20" x2="174.45" y2="339.20" stroke="#f7a050" stroke-width="0.6"/>
<line x1="197.88" y1="329.50" x2="197.88" y2="351.40" stroke="#f7a050" stroke-width="0.6"/>
<line x1="195.88" y1="329.50" x2="199.88" y2="329.50" stroke="#f7a050" stroke-width="0.6"/>
<line x1="195.88" y1="351.40" x2="199.88" y2="351.40" stroke="#f7a050" stroke-width="0.6"/>
<line x1="223.30" y1="349.40" x2="223.30" y2="359.50" stroke="#f7a050" stroke-width="0.6"/>
<line x1="221.30" y1="349.40" x2="225.30" y2="349.40" stroke="#f7a050" stroke-width="0.6"/>
<line x1="221.30" y1="359.50" x2="225.30" y2="359.50" stroke="#f7a050" stroke-width="0.6"/>
<path d="M121.60,366.00 L147.03,317.90 L172.45,329.00 L197.88,344.30 L223.30,356.50" fill="none" stroke="#3a3af2" stroke-width="0.7"/>
<path d="M121.60,365.20 L147.03,318.50 L172.45,325.40 L197.88,340.60 L223.30,355.10" fill="none" stroke="#f7a040" stroke-width="0.7"/>
<rect x="119.50" y="363.90" width="4.20" height="4.20" fill="#0a0aee" stroke="none" stroke-width="0" rx="0"/>
<rect x="144.93" y="315.80" width="4.20" height="4.20" fill="#0a0aee" stroke="none" stroke-width="0" rx="0"/>
<rect x="170.35" y="326.90" width="4.20" height="4.20" fill="#0a0aee" stroke="none" stroke-width="0" rx="0"/>
<rect x="195.78" y="342.20" width="4.20" height="4.20" fill="#0a0aee" stroke="none" stroke-width="0" rx="0"/>
<rect x="221.20" y="354.40" width="4.20" height="4.20" fill="#0a0aee" stroke="none" stroke-width="0" rx="0"/>
<circle cx="121.60" cy="365.20" r="2.2" fill="#f7880f" stroke="none" stroke-width="0"/>
<circle cx="147.03" cy="318.50" r="2.2" fill="#f7880f" stroke="none" stroke-width="0"/>
<circle cx="172.45" cy="325.40" r="2.2" fill="#f7880f" stroke="none" stroke-width="0"/>
<circle cx="197.88" cy="340.60" r="2.2" fill="#f7880f" stroke="none" stroke-width="0"/>
<circle cx="223.30" cy="355.10" r="2.2" fill="#f7880f" stroke="none" stroke-width="0"/>
<line x1="188.60" y1="300.00" x2="197.70" y2="300.00" stroke="#f7a040" stroke-width="0.6"/>
<circle cx="193.20" cy="300.00" r="1.8" fill="#f7880f" stroke="none" stroke-width="0"/>
<line x1="188.60" y1="308.10" x2="197.70" y2="308.10" stroke="#4a4af0" stroke-width="0.6"/>
<rect x="191.50" y="306.40" width="3.40" height="3.40" fill="#0a0aee" stroke="none" stroke-width="0" rx="0"/>
<text x="202.80" y="302.09" font-size="5.8" text-anchor="start" fill="#222" stroke="#222" stroke-width="0.15">HFD+NS</text>
<text x="202.80" y="310.19" font-size="5.8" text-anchor="start" fill="#222" stroke="#222" stroke-width="0.15">HFD+MIAA</text>
<text x="138.80" y="366.09" font-size="5.8" text-anchor="start" fill="#222" stroke="#222" stroke-width="0.15">Group:<tspan font-style="italic">P</tspan>=0.5842</text>
<text x="138.80" y="374.39" font-size="5.8" text-anchor="start" fill="#222" stroke="#222" stroke-width="0.15">Group:Time:<tspan font-style="italic">P</tspan>=0.8219</text>
<text x="253.60" y="280.80" font-size="8.6" font-weight="bold" fill="#111" stroke="#111" stroke-width="0.1">m</text>
<line x1="273.40" y1="296.60" x2="273.40" y2="380.90" stroke="#4a4a4a" stroke-width="0.9"/>
<line x1="269.70" y1="380.90" x2="273.40" y2="380.90" stroke="#4a4a4a" stroke-width="0.9"/>
<text x="269.10" y="383.02" font-size="5.9" text-anchor="end" fill="#222" stroke="#222" stroke-width="0.15">0</text>
<line x1="269.70" y1="359.82" x2="273.40" y2="359.82" stroke="#4a4a4a" stroke-width="0.9"/>
<text x="269.10" y="361.95" font-size="5.9" text-anchor="end" fill="#222" stroke="#222" stroke-width="0.15">1000</text>
<line x1="269.70" y1="338.75" x2="273.40" y2="338.75" stroke="#4a4a4a" stroke-width="0.9"/>
<text x="269.10" y="340.87" font-size="5.9" text-anchor="end" fill="#222" stroke="#222" stroke-width="0.15">2000</text>
<line x1="269.70" y1="317.68" x2="273.40" y2="317.68" stroke="#4a4a4a" stroke-width="0.9"/>
<text x="269.10" y="319.80" font-size="5.9" text-anchor="end" fill="#222" stroke="#222" stroke-width="0.15">3000</text>
<line x1="269.70" y1="296.60" x2="273.40" y2="296.60" stroke="#4a4a4a" stroke-width="0.9"/>
<text x="269.10" y="298.72" font-size="5.9" text-anchor="end" fill="#222" stroke="#222" stroke-width="0.15">4000</text>
<line x1="273.40" y1="380.90" x2="329.80" y2="380.90" stroke="#4a4a4a" stroke-width="0.9"/>
<line x1="289.40" y1="380.90" x2="289.40" y2="382.90" stroke="#4a4a4a" stroke-width="0.9"/>
<line x1="313.60" y1="380.90" x2="313.60" y2="382.90" stroke="#4a4a4a" stroke-width="0.9"/>
<rect x="281.20" y="328.00" width="16.50" height="52.90" fill="#fd8204" stroke="none" stroke-width="0" rx="0"/>
<rect x="305.40" y="331.50" width="16.60" height="49.40" fill="#0505f5" stroke="none" stroke-width="0" rx="0"/>
<line x1="285.40" y1="316.90" x2="293.40" y2="316.90" stroke="#222" stroke-width="0.75"/>
<line x1="289.40" y1="316.90" x2="289.40" y2="328.00" stroke="#222" stroke-width="0.75"/>
<line x1="309.60" y1="322.40" x2="317.60" y2="322.40" stroke="#222" stroke-width="0.75"/>
<line x1="313.60" y1="322.40" x2="313.60" y2="331.50" stroke="#222" stroke-width="0.75"/>
<path d="M289.1,311.8 L289.1,307.1 L313.5,307.1 L313.5,311.8" fill="none" stroke="#333" stroke-width="0.7"/>
<text x="301.30" y="304.09" font-size="5.8" text-anchor="middle" fill="#222" stroke="#222" stroke-width="0.15"><tspan font-style="italic">P</tspan>=0.4345</text>
<text x="289.40" y="390.42" font-size="5.6" text-anchor="middle" fill="#222" stroke="#222" stroke-width="0.15">HFD</text>
<text x="289.40" y="396.82" font-size="5.6" text-anchor="middle" fill="#222" stroke="#222" stroke-width="0.15">NS</text>
<text x="313.60" y="390.42" font-size="5.6" text-anchor="middle" fill="#222" stroke="#222" stroke-width="0.15">HFD</text>
<text x="313.60" y="396.82" font-size="5.6" text-anchor="middle" fill="#222" stroke="#222" stroke-width="0.15">MIAA</text>
<text x="248.40" y="341.23" font-size="6.75" text-anchor="middle" fill="#222" stroke="#222" stroke-width="0.15" transform="rotate(-90 248.40 338.80)">AUC during GTT</text>
<circle cx="289.30" cy="313.80" r="1.25" fill="#fff" stroke="#2a2a2a" stroke-width="0.55"/>
<circle cx="286.60" cy="318.50" r="1.25" fill="#fff" stroke="#2a2a2a" stroke-width="0.55"/>
<circle cx="292.70" cy="318.90" r="1.25" fill="#fff" stroke="#2a2a2a" stroke-width="0.55"/>
<circle cx="294.80" cy="321.50" r="1.25" fill="#fff" stroke="#2a2a2a" stroke-width="0.55"/>
<circle cx="289.30" cy="325.00" r="1.25" fill="#fff" stroke="#2a2a2a" stroke-width="0.55"/>
<circle cx="284.00" cy="326.00" r="1.25" fill="#fff" stroke="#2a2a2a" stroke-width="0.55"/>
<circle cx="284.00" cy="333.10" r="1.25" fill="#fff" stroke="#2a2a2a" stroke-width="0.55"/>
<circle cx="289.30" cy="333.50" r="1.25" fill="#fff" stroke="#2a2a2a" stroke-width="0.55"/>
<circle cx="294.80" cy="334.80" r="1.25" fill="#fff" stroke="#2a2a2a" stroke-width="0.55"/>
<circle cx="289.30" cy="350.00" r="1.25" fill="#fff" stroke="#2a2a2a" stroke-width="0.55"/>
<circle cx="313.50" cy="312.20" r="1.25" fill="#fff" stroke="#2a2a2a" stroke-width="0.55"/>
<circle cx="310.90" cy="325.40" r="1.25" fill="#fff" stroke="#2a2a2a" stroke-width="0.55"/>
<circle cx="315.50" cy="325.40" r="1.25" fill="#fff" stroke="#2a2a2a" stroke-width="0.55"/>
<circle cx="308.40" cy="331.50" r="1.25" fill="#fff" stroke="#2a2a2a" stroke-width="0.55"/>
<circle cx="318.60" cy="331.50" r="1.25" fill="#fff" stroke="#2a2a2a" stroke-width="0.55"/>
<circle cx="313.50" cy="334.50" r="1.25" fill="#fff" stroke="#2a2a2a" stroke-width="0.55"/>
<circle cx="310.50" cy="339.20" r="1.25" fill="#fff" stroke="#2a2a2a" stroke-width="0.55"/>
<circle cx="316.60" cy="339.20" r="1.25" fill="#fff" stroke="#2a2a2a" stroke-width="0.55"/>
<circle cx="313.50" cy="344.90" r="1.25" fill="#fff" stroke="#2a2a2a" stroke-width="0.55"/>
<text x="344.80" y="280.60" font-size="8.6" font-weight="bold" fill="#111" stroke="#111" stroke-width="0.1">n</text>
<rect x="360.90" y="294.50" width="126.80" height="84.30" fill="none" stroke="#444" stroke-width="0.9" rx="0"/>
<line x1="360.90" y1="294.50" x2="360.90" y2="378.80" stroke="#4a4a4a" stroke-width="0.9"/>
<line x1="358.00" y1="378.80" x2="360.90" y2="378.80" stroke="#4a4a4a" stroke-width="0.9"/>
<text x="356.90" y="380.92" font-size="5.9" text-anchor="end" fill="#222" stroke="#222" stroke-width="0.15">0</text>
<line x1="358.00" y1="361.94" x2="360.90" y2="361.94" stroke="#4a4a4a" stroke-width="0.9"/>
<text x="356.90" y="364.06" font-size="5.9" text-anchor="end" fill="#222" stroke="#222" stroke-width="0.15">2</text>
<line x1="358.00" y1="345.08" x2="360.90" y2="345.08" stroke="#4a4a4a" stroke-width="0.9"/>
<text x="356.90" y="347.20" font-size="5.9" text-anchor="end" fill="#222" stroke="#222" stroke-width="0.15">4</text>
<line x1="358.00" y1="328.22" x2="360.90" y2="328.22" stroke="#4a4a4a" stroke-width="0.9"/>
<text x="356.90" y="330.34" font-size="5.9" text-anchor="end" fill="#222" stroke="#222" stroke-width="0.15">6</text>
<line x1="358.00" y1="311.36" x2="360.90" y2="311.36" stroke="#4a4a4a" stroke-width="0.9"/>
<text x="356.90" y="313.48" font-size="5.9" text-anchor="end" fill="#222" stroke="#222" stroke-width="0.15">8</text>
<line x1="358.00" y1="294.50" x2="360.90" y2="294.50" stroke="#4a4a4a" stroke-width="0.9"/>
<text x="356.90" y="296.62" font-size="5.9" text-anchor="end" fill="#222" stroke="#222" stroke-width="0.15">10</text>
<line x1="360.90" y1="378.80" x2="487.70" y2="378.80" stroke="#4a4a4a" stroke-width="0.9"/>
<line x1="373.40" y1="378.80" x2="373.40" y2="380.80" stroke="#4a4a4a" stroke-width="0.9"/>
<text x="373.40" y="388.96" font-size="6.0" text-anchor="middle" fill="#222" stroke="#222" stroke-width="0.15">0</text>
<line x1="398.82" y1="378.80" x2="398.82" y2="380.80" stroke="#4a4a4a" stroke-width="0.9"/>
<text x="398.82" y="388.96" font-size="6.0" text-anchor="middle" fill="#222" stroke="#222" stroke-width="0.15">30</text>
<line x1="424.25" y1="378.80" x2="424.25" y2="380.80" stroke="#4a4a4a" stroke-width="0.9"/>
<text x="424.25" y="388.96" font-size="6.0" text-anchor="middle" fill="#222" stroke="#222" stroke-width="0.15">60</text>
<line x1="449.68" y1="378.80" x2="449.68" y2="380.80" stroke="#4a4a4a" stroke-width="0.9"/>
<text x="449.68" y="388.96" font-size="6.0" text-anchor="middle" fill="#222" stroke="#222" stroke-width="0.15">90</text>
<line x1="475.10" y1="378.80" x2="475.10" y2="380.80" stroke="#4a4a4a" stroke-width="0.9"/>
<text x="475.10" y="388.96" font-size="6.0" text-anchor="middle" fill="#222" stroke="#222" stroke-width="0.15">120</text>
<text x="344.10" y="340.89" font-size="7.2" text-anchor="middle" fill="#222" stroke="#222" stroke-width="0.15" transform="rotate(-90 344.10 338.30)">Glucose level of ITT (mmol/L)</text>
<line x1="373.40" y1="316.00" x2="373.40" y2="331.00" stroke="#5a5af5" stroke-width="0.6"/>
<line x1="371.40" y1="316.00" x2="375.40" y2="316.00" stroke="#5a5af5" stroke-width="0.6"/>
<line x1="371.40" y1="331.00" x2="375.40" y2="331.00" stroke="#5a5af5" stroke-width="0.6"/>
<line x1="398.82" y1="343.00" x2="398.82" y2="352.00" stroke="#5a5af5" stroke-width="0.6"/>
<line x1="396.82" y1="343.00" x2="400.82" y2="343.00" stroke="#5a5af5" stroke-width="0.6"/>
<line x1="396.82" y1="352.00" x2="400.82" y2="352.00" stroke="#5a5af5" stroke-width="0.6"/>
<line x1="424.25" y1="337.20" x2="424.25" y2="352.40" stroke="#5a5af5" stroke-width="0.6"/>
<line x1="422.25" y1="337.20" x2="426.25" y2="337.20" stroke="#5a5af5" stroke-width="0.6"/>
<line x1="422.25" y1="352.40" x2="426.25" y2="352.40" stroke="#5a5af5" stroke-width="0.6"/>
<line x1="449.68" y1="334.00" x2="449.68" y2="349.00" stroke="#5a5af5" stroke-width="0.6"/>
<line x1="447.68" y1="334.00" x2="451.68" y2="334.00" stroke="#5a5af5" stroke-width="0.6"/>
<line x1="447.68" y1="349.00" x2="451.68" y2="349.00" stroke="#5a5af5" stroke-width="0.6"/>
<line x1="475.10" y1="318.90" x2="475.10" y2="337.60" stroke="#5a5af5" stroke-width="0.6"/>
<line x1="473.10" y1="318.90" x2="477.10" y2="318.90" stroke="#5a5af5" stroke-width="0.6"/>
<line x1="473.10" y1="337.60" x2="477.10" y2="337.60" stroke="#5a5af5" stroke-width="0.6"/>
<line x1="373.40" y1="313.20" x2="373.40" y2="330.10" stroke="#f7a050" stroke-width="0.6"/>
<line x1="371.40" y1="313.20" x2="375.40" y2="313.20" stroke="#f7a050" stroke-width="0.6"/>
<line x1="371.40" y1="330.10" x2="375.40" y2="330.10" stroke="#f7a050" stroke-width="0.6"/>
<line x1="398.82" y1="341.30" x2="398.82" y2="352.40" stroke="#f7a050" stroke-width="0.6"/>
<line x1="396.82" y1="341.30" x2="400.82" y2="341.30" stroke="#f7a050" stroke-width="0.6"/>
<line x1="396.82" y1="352.40" x2="400.82" y2="352.40" stroke="#f7a050" stroke-width="0.6"/>
<line x1="424.25" y1="335.20" x2="424.25" y2="348.40" stroke="#f7a050" stroke-width="0.6"/>
<line x1="422.25" y1="335.20" x2="426.25" y2="335.20" stroke="#f7a050" stroke-width="0.6"/>
<line x1="422.25" y1="348.40" x2="426.25" y2="348.40" stroke="#f7a050" stroke-width="0.6"/>
<line x1="449.68" y1="331.50" x2="449.68" y2="346.30" stroke="#f7a050" stroke-width="0.6"/>
<line x1="447.68" y1="331.50" x2="451.68" y2="331.50" stroke="#f7a050" stroke-width="0.6"/>
<line x1="447.68" y1="346.30" x2="451.68" y2="346.30" stroke="#f7a050" stroke-width="0.6"/>
<line x1="475.10" y1="325.00" x2="475.10" y2="337.20" stroke="#f7a050" stroke-width="0.6"/>
<line x1="473.10" y1="325.00" x2="477.10" y2="325.00" stroke="#f7a050" stroke-width="0.6"/>
<line x1="473.10" y1="337.20" x2="477.10" y2="337.20" stroke="#f7a050" stroke-width="0.6"/>
<path d="M373.40,323.40 L398.82,348.40 L424.25,344.30 L449.68,340.60 L475.10,328.00" fill="none" stroke="#3a3af2" stroke-width="0.7"/>
<path d="M373.40,321.30 L398.82,347.00 L424.25,342.30 L449.68,338.80 L475.10,331.50" fill="none" stroke="#f7a040" stroke-width="0.7"/>
<rect x="371.30" y="321.30" width="4.20" height="4.20" fill="#0a0aee" stroke="none" stroke-width="0" rx="0"/>
<rect x="396.72" y="346.30" width="4.20" height="4.20" fill="#0a0aee" stroke="none" stroke-width="0" rx="0"/>
<rect x="422.15" y="342.20" width="4.20" height="4.20" fill="#0a0aee" stroke="none" stroke-width="0" rx="0"/>
<rect x="447.57" y="338.50" width="4.20" height="4.20" fill="#0a0aee" stroke="none" stroke-width="0" rx="0"/>
<rect x="473.00" y="325.90" width="4.20" height="4.20" fill="#0a0aee" stroke="none" stroke-width="0" rx="0"/>
<circle cx="373.40" cy="321.30" r="2.2" fill="#f7880f" stroke="none" stroke-width="0"/>
<circle cx="398.82" cy="347.00" r="2.2" fill="#f7880f" stroke="none" stroke-width="0"/>
<circle cx="424.25" cy="342.30" r="2.2" fill="#f7880f" stroke="none" stroke-width="0"/>
<circle cx="449.68" cy="338.80" r="2.2" fill="#f7880f" stroke="none" stroke-width="0"/>
<circle cx="475.10" cy="331.50" r="2.2" fill="#f7880f" stroke="none" stroke-width="0"/>
<line x1="366.30" y1="298.20" x2="375.50" y2="298.20" stroke="#f7a040" stroke-width="0.6"/>
<circle cx="370.90" cy="298.20" r="1.8" fill="#f7880f" stroke="none" stroke-width="0"/>
<line x1="366.30" y1="306.70" x2="375.50" y2="306.70" stroke="#4a4af0" stroke-width="0.6"/>
<rect x="369.20" y="305.00" width="3.40" height="3.40" fill="#0a0aee" stroke="none" stroke-width="0" rx="0"/>
<text x="380.50" y="300.29" font-size="5.8" text-anchor="start" fill="#222" stroke="#222" stroke-width="0.15">HFD+NS</text>
<text x="380.50" y="308.79" font-size="5.8" text-anchor="start" fill="#222" stroke="#222" stroke-width="0.15">HFD+MIAA</text>
<text x="391.00" y="366.09" font-size="5.8" text-anchor="start" fill="#222" stroke="#222" stroke-width="0.15">Group:<tspan font-style="italic">P</tspan>=0.7615</text>
<text x="391.00" y="374.59" font-size="5.8" text-anchor="start" fill="#222" stroke="#222" stroke-width="0.15">Group:Time:<tspan font-style="italic">P</tspan>=0.3844</text>
<text x="511.00" y="280.70" font-size="8.6" font-weight="bold" fill="#111" stroke="#111" stroke-width="0.1">o</text>
<line x1="518.40" y1="293.50" x2="518.40" y2="378.30" stroke="#4a4a4a" stroke-width="0.9"/>
<line x1="514.80" y1="378.30" x2="518.40" y2="378.30" stroke="#4a4a4a" stroke-width="0.9"/>
<text x="514.10" y="380.46" font-size="6.0" text-anchor="end" fill="#222" stroke="#222" stroke-width="0.15">400</text>
<line x1="514.80" y1="357.10" x2="518.40" y2="357.10" stroke="#4a4a4a" stroke-width="0.9"/>
<text x="514.10" y="359.26" font-size="6.0" text-anchor="end" fill="#222" stroke="#222" stroke-width="0.15">500</text>
<line x1="514.80" y1="335.90" x2="518.40" y2="335.90" stroke="#4a4a4a" stroke-width="0.9"/>
<text x="514.10" y="338.06" font-size="6.0" text-anchor="end" fill="#222" stroke="#222" stroke-width="0.15">600</text>
<line x1="514.80" y1="314.70" x2="518.40" y2="314.70" stroke="#4a4a4a" stroke-width="0.9"/>
<text x="514.10" y="316.86" font-size="6.0" text-anchor="end" fill="#222" stroke="#222" stroke-width="0.15">700</text>
<line x1="514.80" y1="293.50" x2="518.40" y2="293.50" stroke="#4a4a4a" stroke-width="0.9"/>
<text x="514.10" y="295.66" font-size="6.0" text-anchor="end" fill="#222" stroke="#222" stroke-width="0.15">800</text>
<line x1="518.40" y1="378.30" x2="574.20" y2="378.30" stroke="#4a4a4a" stroke-width="0.9"/>
<line x1="534.60" y1="378.30" x2="534.60" y2="380.30" stroke="#4a4a4a" stroke-width="0.9"/>
<line x1="558.60" y1="378.30" x2="558.60" y2="380.30" stroke="#4a4a4a" stroke-width="0.9"/>
<rect x="526.50" y="340.80" width="16.30" height="37.50" fill="#fd8204" stroke="none" stroke-width="0" rx="0"/>
<rect x="550.50" y="344.80" width="16.20" height="33.50" fill="#0505f5" stroke="none" stroke-width="0" rx="0"/>
<line x1="530.60" y1="327.00" x2="538.60" y2="327.00" stroke="#222" stroke-width="0.75"/>
<line x1="534.60" y1="327.00" x2="534.60" y2="340.80" stroke="#222" stroke-width="0.75"/>
<line x1="554.60" y1="324.50" x2="562.60" y2="324.50" stroke="#222" stroke-width="0.75"/>
<line x1="558.60" y1="324.50" x2="558.60" y2="344.80" stroke="#222" stroke-width="0.75"/>
<path d="M534.2,311.8 L534.2,307.1 L558.6,307.1 L558.6,311.8" fill="none" stroke="#333" stroke-width="0.7"/>
<text x="546.40" y="304.09" font-size="5.8" text-anchor="middle" fill="#222" stroke="#222" stroke-width="0.15"><tspan font-style="italic">P</tspan>=0.6373</text>
<text x="534.60" y="387.42" font-size="5.6" text-anchor="middle" fill="#222" stroke="#222" stroke-width="0.15">HFD</text>
<text x="534.60" y="393.92" font-size="5.6" text-anchor="middle" fill="#222" stroke="#222" stroke-width="0.15">NS</text>
<text x="558.60" y="387.42" font-size="5.6" text-anchor="middle" fill="#222" stroke="#222" stroke-width="0.15">HFD</text>
<text x="558.60" y="393.92" font-size="5.6" text-anchor="middle" fill="#222" stroke="#222" stroke-width="0.15">MIAA</text>
<text x="497.30" y="338.45" font-size="6.8" text-anchor="middle" fill="#222" stroke="#222" stroke-width="0.15" transform="rotate(-90 497.30 336.00)">AUC during ITT</text>
<circle cx="531.60" cy="321.90" r="1.25" fill="#fff" stroke="#2a2a2a" stroke-width="0.55"/>
<circle cx="537.10" cy="323.30" r="1.25" fill="#fff" stroke="#2a2a2a" stroke-width="0.55"/>
<circle cx="529.20" cy="337.10" r="1.25" fill="#fff" stroke="#2a2a2a" stroke-width="0.55"/>
<circle cx="534.20" cy="336.10" r="1.25" fill="#fff" stroke="#2a2a2a" stroke-width="0.55"/>
<circle cx="539.70" cy="336.10" r="1.25" fill="#fff" stroke="#2a2a2a" stroke-width="0.55"/>
<circle cx="534.40" cy="341.00" r="1.25" fill="#fff" stroke="#2a2a2a" stroke-width="0.55"/>
<circle cx="531.60" cy="343.20" r="1.25" fill="#fff" stroke="#2a2a2a" stroke-width="0.55"/>
<circle cx="537.10" cy="347.30" r="1.25" fill="#fff" stroke="#2a2a2a" stroke-width="0.55"/>
<circle cx="534.20" cy="356.40" r="1.25" fill="#fff" stroke="#2a2a2a" stroke-width="0.55"/>
<circle cx="534.20" cy="366.00" r="1.25" fill="#fff" stroke="#2a2a2a" stroke-width="0.55"/>
<circle cx="558.60" cy="312.80" r="1.25" fill="#fff" stroke="#2a2a2a" stroke-width="0.55"/>
<circle cx="558.60" cy="320.50" r="1.25" fill="#fff" stroke="#2a2a2a" stroke-width="0.55"/>
<circle cx="556.50" cy="333.40" r="1.25" fill="#fff" stroke="#2a2a2a" stroke-width="0.55"/>
<circle cx="559.90" cy="334.70" r="1.25" fill="#fff" stroke="#2a2a2a" stroke-width="0.55"/>
<circle cx="558.40" cy="340.00" r="1.25" fill="#fff" stroke="#2a2a2a" stroke-width="0.55"/>
<circle cx="558.60" cy="348.90" r="1.25" fill="#fff" stroke="#2a2a2a" stroke-width="0.55"/>
<circle cx="557.40" cy="357.00" r="1.25" fill="#fff" stroke="#2a2a2a" stroke-width="0.55"/>
<circle cx="560.00" cy="357.80" r="1.25" fill="#fff" stroke="#2a2a2a" stroke-width="0.55"/>
<circle cx="557.40" cy="369.60" r="1.25" fill="#fff" stroke="#2a2a2a" stroke-width="0.55"/>
<circle cx="560.00" cy="370.60" r="1.25" fill="#fff" stroke="#2a2a2a" stroke-width="0.55"/>
<text x="589.50" y="280.50" font-size="8.6" font-weight="bold" fill="#111" stroke="#111" stroke-width="0.1">p</text>
<line x1="600.40" y1="294.20" x2="600.40" y2="378.30" stroke="#4a4a4a" stroke-width="0.9"/>
<line x1="597.10" y1="378.30" x2="600.40" y2="378.30" stroke="#4a4a4a" stroke-width="0.9"/>
<text x="596.30" y="380.46" font-size="6.0" text-anchor="end" fill="#222" stroke="#222" stroke-width="0.15">0</text>
<line x1="597.10" y1="357.27" x2="600.40" y2="357.27" stroke="#4a4a4a" stroke-width="0.9"/>
<text x="596.30" y="359.44" font-size="6.0" text-anchor="end" fill="#222" stroke="#222" stroke-width="0.15">1</text>
<line x1="597.10" y1="336.25" x2="600.40" y2="336.25" stroke="#4a4a4a" stroke-width="0.9"/>
<text x="596.30" y="338.41" font-size="6.0" text-anchor="end" fill="#222" stroke="#222" stroke-width="0.15">2</text>
<line x1="597.10" y1="315.23" x2="600.40" y2="315.23" stroke="#4a4a4a" stroke-width="0.9"/>
<text x="596.30" y="317.39" font-size="6.0" text-anchor="end" fill="#222" stroke="#222" stroke-width="0.15">3</text>
<line x1="597.10" y1="294.20" x2="600.40" y2="294.20" stroke="#4a4a4a" stroke-width="0.9"/>
<text x="596.30" y="296.36" font-size="6.0" text-anchor="end" fill="#222" stroke="#222" stroke-width="0.15">4</text>
<line x1="600.40" y1="378.30" x2="685.00" y2="378.30" stroke="#4a4a4a" stroke-width="0.9"/>
<line x1="619.90" y1="378.30" x2="619.90" y2="380.80" stroke="#4a4a4a" stroke-width="0.9"/>
<line x1="665.00" y1="378.30" x2="665.00" y2="380.80" stroke="#4a4a4a" stroke-width="0.9"/>
<rect x="605.90" y="353.40" width="11.10" height="24.90" fill="#fd8204" stroke="none" stroke-width="0" rx="0"/>
<rect x="622.70" y="352.30" width="11.20" height="26.00" fill="#0505f5" stroke="none" stroke-width="0" rx="0"/>
<rect x="651.10" y="329.00" width="11.20" height="49.30" fill="#fd8204" stroke="none" stroke-width="0" rx="0"/>
<rect x="667.80" y="333.10" width="11.10" height="45.20" fill="#0505f5" stroke="none" stroke-width="0" rx="0"/>
<line x1="608.70" y1="349.50" x2="614.30" y2="349.50" stroke="#222" stroke-width="0.7"/>
<line x1="611.50" y1="349.50" x2="611.50" y2="353.40" stroke="#222" stroke-width="0.7"/>
<line x1="625.40" y1="348.50" x2="631.00" y2="348.50" stroke="#222" stroke-width="0.7"/>
<line x1="628.20" y1="348.50" x2="628.20" y2="352.30" stroke="#222" stroke-width="0.7"/>
<line x1="653.70" y1="322.40" x2="659.30" y2="322.40" stroke="#222" stroke-width="0.7"/>
<line x1="656.50" y1="322.40" x2="656.50" y2="329.00" stroke="#222" stroke-width="0.7"/>
<line x1="670.60" y1="320.30" x2="676.20" y2="320.30" stroke="#222" stroke-width="0.7"/>
<line x1="673.40" y1="320.30" x2="673.40" y2="333.10" stroke="#222" stroke-width="0.7"/>
<path d="M611.4,345.8 L611.4,342.6 L627.4,342.6 L627.4,346.4" fill="none" stroke="#333" stroke-width="0.7"/>
<path d="M656.6,315.3 L656.6,312.4 L673.5,312.4 L673.5,314.1" fill="none" stroke="#333" stroke-width="0.7"/>
<text x="619.70" y="340.22" font-size="5.9" text-anchor="middle" fill="#222" stroke="#222" stroke-width="0.15"><tspan font-style="italic">P</tspan> =0.6159</text>
<text x="665.30" y="311.22" font-size="5.9" text-anchor="middle" fill="#222" stroke="#222" stroke-width="0.15"><tspan font-style="italic">P</tspan> =0.3496</text>
<text x="620.00" y="388.80" font-size="6.4" text-anchor="middle" fill="#222" stroke="#222" stroke-width="0.15">Liver</text>
<text x="665.60" y="388.73" font-size="6.2" text-anchor="middle" fill="#222" stroke="#222" stroke-width="0.15">eWAT</text>
<text x="586.40" y="339.72" font-size="7.0" text-anchor="middle" fill="#222" stroke="#222" stroke-width="0.15" transform="rotate(-90 586.40 337.20)">Weight of tissue (g)</text>
<circle cx="606.50" cy="298.00" r="1.7" fill="#fd8204" stroke="none" stroke-width="0"/>
<text x="611.50" y="300.09" font-size="5.8" text-anchor="start" fill="#222" stroke="#222" stroke-width="0.15">HFD+NS</text>
<circle cx="606.50" cy="306.70" r="1.7" fill="#0505f5" stroke="none" stroke-width="0"/>
<text x="611.50" y="308.79" font-size="5.8" text-anchor="start" fill="#222" stroke="#222" stroke-width="0.15">HFD+MIAA</text>
<circle cx="611.40" cy="348.10" r="1.3" fill="#fff" stroke="#2a2a2a" stroke-width="0.55"/>
<circle cx="609.30" cy="350.80" r="1.3" fill="#fff" stroke="#2a2a2a" stroke-width="0.55"/>
<circle cx="612.30" cy="350.20" r="1.3" fill="#fff" stroke="#2a2a2a" stroke-width="0.55"/>
<circle cx="611.70" cy="352.00" r="1.3" fill="#fff" stroke="#2a2a2a" stroke-width="0.55"/>
<circle cx="607.00" cy="354.30" r="1.3" fill="#fff" stroke="#2a2a2a" stroke-width="0.55"/>
<circle cx="608.80" cy="355.10" r="1.3" fill="#fff" stroke="#2a2a2a" stroke-width="0.55"/>
<circle cx="610.50" cy="355.40" r="1.3" fill="#fff" stroke="#2a2a2a" stroke-width="0.55"/>
<circle cx="612.30" cy="354.30" r="1.3" fill="#fff" stroke="#2a2a2a" stroke-width="0.55"/>
<circle cx="614.00" cy="355.70" r="1.3" fill="#fff" stroke="#2a2a2a" stroke-width="0.55"/>
<circle cx="615.20" cy="357.20" r="1.3" fill="#fff" stroke="#2a2a2a" stroke-width="0.55"/>
<circle cx="626.90" cy="347.60" r="1.3" fill="#fff" stroke="#2a2a2a" stroke-width="0.55"/>
<circle cx="629.20" cy="348.70" r="1.3" fill="#fff" stroke="#2a2a2a" stroke-width="0.55"/>
<circle cx="624.20" cy="353.70" r="1.3" fill="#fff" stroke="#2a2a2a" stroke-width="0.55"/>
<circle cx="626.60" cy="353.70" r="1.3" fill="#fff" stroke="#2a2a2a" stroke-width="0.55"/>
<circle cx="632.70" cy="352.20" r="1.3" fill="#fff" stroke="#2a2a2a" stroke-width="0.55"/>
<circle cx="626.90" cy="355.40" r="1.3" fill="#fff" stroke="#2a2a2a" stroke-width="0.55"/>
<circle cx="629.80" cy="356.60" r="1.3" fill="#fff" stroke="#2a2a2a" stroke-width="0.55"/>
<circle cx="632.40" cy="357.20" r="1.3" fill="#fff" stroke="#2a2a2a" stroke-width="0.55"/>
<circle cx="655.30" cy="319.90" r="1.35" fill="#fff" stroke="#2a2a2a" stroke-width="0.55"/>
<circle cx="655.30" cy="324.80" r="1.35" fill="#fff" stroke="#2a2a2a" stroke-width="0.55"/>
<circle cx="657.80" cy="327.30" r="1.35" fill="#fff" stroke="#2a2a2a" stroke-width="0.55"/>
<circle cx="652.40" cy="329.40" r="1.35" fill="#fff" stroke="#2a2a2a" stroke-width="0.55"/>
<circle cx="654.10" cy="329.80" r="1.35" fill="#fff" stroke="#2a2a2a" stroke-width="0.55"/>
<circle cx="656.20" cy="331.00" r="1.35" fill="#fff" stroke="#2a2a2a" stroke-width="0.55"/>
<circle cx="660.30" cy="331.90" r="1.35" fill="#fff" stroke="#2a2a2a" stroke-width="0.55"/>
<circle cx="656.60" cy="343.80" r="1.35" fill="#fff" stroke="#2a2a2a" stroke-width="0.55"/>
<circle cx="671.40" cy="317.00" r="1.35" fill="#fff" stroke="#2a2a2a" stroke-width="0.55"/>
<circle cx="675.60" cy="318.20" r="1.35" fill="#fff" stroke="#2a2a2a" stroke-width="0.55"/>
<circle cx="671.40" cy="327.30" r="1.35" fill="#fff" stroke="#2a2a2a" stroke-width="0.55"/>
<circle cx="675.60" cy="325.70" r="1.35" fill="#fff" stroke="#2a2a2a" stroke-width="0.55"/>
<circle cx="673.50" cy="333.50" r="1.35" fill="#fff" stroke="#2a2a2a" stroke-width="0.55"/>
<circle cx="673.50" cy="341.00" r="1.35" fill="#fff" stroke="#2a2a2a" stroke-width="0.55"/>
<circle cx="669.80" cy="348.00" r="1.35" fill="#fff" stroke="#2a2a2a" stroke-width="0.55"/>
<circle cx="673.50" cy="348.80" r="1.35" fill="#fff" stroke="#2a2a2a" stroke-width="0.55"/>
<circle cx="677.10" cy="350.90" r="1.35" fill="#fff" stroke="#2a2a2a" stroke-width="0.55"/>
<text x="173.20" y="398.95" font-size="6.8" text-anchor="middle" fill="#222" stroke="#222" stroke-width="0.15">Time (min)</text>
<text x="425.20" y="398.95" font-size="6.8" text-anchor="middle" fill="#222" stroke="#222" stroke-width="0.15">Time (min)</text>
<text x="13.50" y="418.50" font-size="8.6" font-weight="bold" fill="#111" stroke="#111" stroke-width="0.1">q</text>
<rect x="46.40" y="440.30" width="56.20" height="8.50" fill="#d3d3d3" stroke="none" stroke-width="0" rx="0"/>
<text x="74.50" y="446.64" font-size="5.8" text-anchor="middle" fill="#333" font-style="italic" stroke="#333" stroke-width="0.15">SLC2A4</text>
<path d="M46.4,524.7 L46.4,439.85 M102.6,439.85 L102.6,524.7" fill="none" stroke="#444" stroke-width="0.9"/>
<line x1="46.40" y1="440.30" x2="46.40" y2="524.70" stroke="#4a4a4a" stroke-width="0.9"/>
<line x1="42.90" y1="524.70" x2="46.40" y2="524.70" stroke="#4a4a4a" stroke-width="0.9"/>
<text x="41.90" y="526.97" font-size="6.3" text-anchor="end" fill="#222" stroke="#222" stroke-width="0.15">0.000000</text>
<line x1="42.90" y1="503.60" x2="46.40" y2="503.60" stroke="#4a4a4a" stroke-width="0.9"/>
<text x="41.90" y="505.87" font-size="6.3" text-anchor="end" fill="#222" stroke="#222" stroke-width="0.15">0.000007</text>
<line x1="42.90" y1="482.50" x2="46.40" y2="482.50" stroke="#4a4a4a" stroke-width="0.9"/>
<text x="41.90" y="484.77" font-size="6.3" text-anchor="end" fill="#222" stroke="#222" stroke-width="0.15">0.000014</text>
<line x1="42.90" y1="461.40" x2="46.40" y2="461.40" stroke="#4a4a4a" stroke-width="0.9"/>
<text x="41.90" y="463.67" font-size="6.3" text-anchor="end" fill="#222" stroke="#222" stroke-width="0.15">0.000021</text>
<line x1="42.90" y1="440.30" x2="46.40" y2="440.30" stroke="#4a4a4a" stroke-width="0.9"/>
<text x="41.90" y="442.57" font-size="6.3" text-anchor="end" fill="#222" stroke="#222" stroke-width="0.15">0.000028</text>
<line x1="46.40" y1="524.70" x2="102.60" y2="524.70" stroke="#4a4a4a" stroke-width="0.9"/>
<line x1="57.40" y1="524.70" x2="57.40" y2="526.70" stroke="#4a4a4a" stroke-width="0.9"/>
<line x1="74.50" y1="524.70" x2="74.50" y2="526.70" stroke="#4a4a4a" stroke-width="0.9"/>
<line x1="91.10" y1="524.70" x2="91.10" y2="526.70" stroke="#4a4a4a" stroke-width="0.9"/>
<rect x="52.10" y="484.00" width="10.90" height="40.70" fill="#f89a3a" stroke="none" stroke-width="0" rx="0"/>
<rect x="68.90" y="487.90" width="11.20" height="36.80" fill="#fb7a80" stroke="none" stroke-width="0" rx="0"/>
<rect x="85.50" y="471.80" width="11.20" height="52.90" fill="#4f4ff0" stroke="none" stroke-width="0" rx="0"/>
<line x1="54.20" y1="473.30" x2="60.60" y2="473.30" stroke="#222" stroke-width="0.7"/>
<line x1="57.40" y1="473.30" x2="57.40" y2="484.00" stroke="#222" stroke-width="0.7"/>
<line x1="71.30" y1="484.50" x2="77.70" y2="484.50" stroke="#222" stroke-width="0.7"/>
<line x1="74.50" y1="484.50" x2="74.50" y2="487.90" stroke="#222" stroke-width="0.7"/>
<line x1="87.90" y1="465.50" x2="94.30" y2="465.50" stroke="#222" stroke-width="0.7"/>
<line x1="91.10" y1="465.50" x2="91.10" y2="471.80" stroke="#222" stroke-width="0.7"/>
<path d="M56.9,464.6 L56.9,462.4 L73.7,462.4" fill="none" stroke="#555" stroke-width="0.6"/>
<path d="M75.3,474.9 L75.3,459.5 L91.6,459.5 L91.6,462.6" fill="none" stroke="#555" stroke-width="0.6"/>
<text x="61.00" y="461.02" font-size="5.6" text-anchor="middle" fill="#222" stroke="#222" stroke-width="0.15">P&gt;0.9999</text>
<text x="86.50" y="455.62" font-size="5.6" text-anchor="middle" fill="#222" stroke="#222" stroke-width="0.15">P=0.0206</text>
<text x="57.40" y="535.99" font-size="5.8" text-anchor="middle" fill="#222" stroke="#222" stroke-width="0.15">Control</text>
<text x="74.10" y="535.99" font-size="5.8" text-anchor="middle" fill="#222" stroke="#222" stroke-width="0.15">NC</text>
<text x="90.90" y="535.99" font-size="5.8" text-anchor="middle" fill="#222" stroke="#222" stroke-width="0.15">siFTO</text>
<text x="9.30" y="486.16" font-size="7.1" text-anchor="middle" fill="#222" font-style="italic" stroke="#222" stroke-width="0.15" transform="rotate(-90 9.30 483.60)">Relative mRNA expression</text>
<circle cx="57.40" cy="467.70" r="1.35" fill="#fff" stroke="#2a2a2a" stroke-width="0.55"/>
<circle cx="54.60" cy="478.90" r="1.35" fill="#fff" stroke="#2a2a2a" stroke-width="0.55"/>
<circle cx="60.40" cy="481.00" r="1.35" fill="#fff" stroke="#2a2a2a" stroke-width="0.55"/>
<circle cx="57.40" cy="486.60" r="1.35" fill="#fff" stroke="#2a2a2a" stroke-width="0.55"/>
<circle cx="54.60" cy="493.80" r="1.35" fill="#fff" stroke="#2a2a2a" stroke-width="0.55"/>
<circle cx="60.40" cy="496.80" r="1.35" fill="#fff" stroke="#2a2a2a" stroke-width="0.55"/>
<circle cx="74.50" cy="480.50" r="1.35" fill="#fff" stroke="#2a2a2a" stroke-width="0.55"/>
<circle cx="74.50" cy="486.10" r="1.35" fill="#fff" stroke="#2a2a2a" stroke-width="0.55"/>
<circle cx="70.10" cy="490.20" r="1.35" fill="#fff" stroke="#2a2a2a" stroke-width="0.55"/>
<circle cx="72.50" cy="490.20" r="1.35" fill="#fff" stroke="#2a2a2a" stroke-width="0.55"/>
<circle cx="74.70" cy="490.40" r="1.35" fill="#fff" stroke="#2a2a2a" stroke-width="0.55"/>
<circle cx="76.60" cy="490.70" r="1.35" fill="#fff" stroke="#2a2a2a" stroke-width="0.55"/>
<circle cx="78.60" cy="491.20" r="1.35" fill="#fff" stroke="#2a2a2a" stroke-width="0.55"/>
<circle cx="87.50" cy="466.20" r="1.35" fill="#fff" stroke="#2a2a2a" stroke-width="0.55"/>
<circle cx="90.00" cy="465.10" r="1.35" fill="#fff" stroke="#2a2a2a" stroke-width="0.55"/>
<circle cx="93.10" cy="465.70" r="1.35" fill="#fff" stroke="#2a2a2a" stroke-width="0.55"/>
<circle cx="95.70" cy="465.70" r="1.35" fill="#fff" stroke="#2a2a2a" stroke-width="0.55"/>
<circle cx="91.60" cy="469.70" r="1.35" fill="#fff" stroke="#2a2a2a" stroke-width="0.55"/>
<circle cx="91.60" cy="474.30" r="1.35" fill="#fff" stroke="#2a2a2a" stroke-width="0.55"/>
<circle cx="91.60" cy="484.00" r="1.35" fill="#fff" stroke="#2a2a2a" stroke-width="0.55"/>
<text x="112.40" y="418.70" font-size="8.6" font-weight="bold" fill="#111" stroke="#111" stroke-width="0.1">r</text>
<text x="157.00" y="465.92" font-size="5.6" text-anchor="middle" fill="#222" font-style="italic" stroke="#222" stroke-width="0.15">siFTO</text>
<line x1="131.10" y1="467.50" x2="185.00" y2="467.50" stroke="#555" stroke-width="0.8"/>
<text x="136.10" y="475.02" font-size="5.6" text-anchor="middle" fill="#222" stroke="#222" stroke-width="0.15">EV</text>
<text x="157.70" y="475.02" font-size="5.6" text-anchor="middle" fill="#222" stroke="#222" stroke-width="0.15">WT</text>
<text x="181.80" y="475.02" font-size="5.6" text-anchor="middle" fill="#222" stroke="#222" stroke-width="0.15">Mut</text>
<defs><linearGradient id="blotg" x1="0" y1="0" x2="1" y2="0"><stop offset="0" stop-color="#4e4e4e"/><stop offset="0.25" stop-color="#7a7a7a"/><stop offset="0.55" stop-color="#a0a0a0"/><stop offset="0.8" stop-color="#909090"/><stop offset="1" stop-color="#6e6e6e"/></linearGradient><radialGradient id="wtg"><stop offset="0" stop-color="#787878"/><stop offset="0.6" stop-color="#555"/><stop offset="1" stop-color="#2e2e2e"/></radialGradient><filter id="bl" x="-50%" y="-50%" width="200%" height="200%"><feGaussianBlur stdDeviation="0.55"/></filter><filter id="bl2" x="-50%" y="-50%" width="200%" height="200%"><feGaussianBlur stdDeviation="1.2"/></filter></defs>
<rect x="124.80" y="477.30" width="66.80" height="17.10" fill="url(#blotg)" stroke="#333" stroke-width="0.8" rx="0"/>
<g filter="url(#bl2)"><ellipse cx="165.5" cy="480.8" rx="3.2" ry="2.0" fill="#f4f4f4"/><ellipse cx="145.0" cy="489.0" rx="1.6" ry="1.2" fill="#e8e8e8"/></g>
<g filter="url(#bl)"><ellipse cx="134.0" cy="486.3" rx="5.9" ry="5.3" fill="#060606"/><ellipse cx="156.4" cy="486.3" rx="4.8" ry="4.6" fill="url(#wtg)"/><ellipse cx="180.8" cy="485.9" rx="5.0" ry="4.6" fill="#111"/><ellipse cx="176.8" cy="485.0" rx="1.2" ry="1.0" fill="#777"/></g>
<rect x="124.80" y="496.40" width="66.80" height="17.10" fill="#1e90f4" stroke="#333" stroke-width="0.8" rx="0"/>
<g filter="url(#bl)">
<circle cx="134.0" cy="504.8" r="4.6" fill="#1580e2" opacity="0.75"/>
<circle cx="156.4" cy="504.8" r="4.6" fill="#1580e2" opacity="0.75"/>
<circle cx="180.6" cy="504.8" r="4.6" fill="#1580e2" opacity="0.75"/>
</g>
<text x="122.50" y="489.22" font-size="5.6" text-anchor="end" fill="#222" stroke="#222" stroke-width="0.15">3.0μg</text>
<text x="122.50" y="507.32" font-size="5.6" text-anchor="end" fill="#222" stroke="#222" stroke-width="0.15">3.0μg</text>
<text x="195.30" y="487.52" font-size="5.6" text-anchor="start" fill="#222" stroke="#222" stroke-width="0.15">m<tspan font-size="3.6" dy="-1.8">6</tspan><tspan dy="1.8">A</tspan></text>
<text x="194.00" y="506.39" font-size="5.8" text-anchor="start" fill="#2f3c9c" stroke="#2f3c9c" stroke-width="0.05">MB</text>
<rect x="231.40" y="433.40" width="56.60" height="7.90" fill="#d3d3d3" stroke="none" stroke-width="0" rx="0"/>
<text x="260.40" y="439.92" font-size="5.6" text-anchor="middle" fill="#222" stroke="#222" stroke-width="0.15">m<tspan font-size="3.6" dy="-1.8">6</tspan><tspan dy="1.8">A</tspan></text>
<path d="M231.4,518.4 L231.4,432.95 M288.0,432.95 L288.0,518.4" fill="none" stroke="#444" stroke-width="0.9"/>
<line x1="231.40" y1="433.40" x2="231.40" y2="518.40" stroke="#4a4a4a" stroke-width="0.9"/>
<line x1="228.30" y1="518.40" x2="231.40" y2="518.40" stroke="#4a4a4a" stroke-width="0.9"/>
<text x="227.00" y="520.70" font-size="6.4" text-anchor="end" fill="#222" stroke="#222" stroke-width="0.15">0.6</text>
<line x1="228.30" y1="490.07" x2="231.40" y2="490.07" stroke="#4a4a4a" stroke-width="0.9"/>
<text x="227.00" y="492.37" font-size="6.4" text-anchor="end" fill="#222" stroke="#222" stroke-width="0.15">0.8</text>
<line x1="228.30" y1="461.73" x2="231.40" y2="461.73" stroke="#4a4a4a" stroke-width="0.9"/>
<text x="227.00" y="464.04" font-size="6.4" text-anchor="end" fill="#222" stroke="#222" stroke-width="0.15">1.0</text>
<line x1="228.30" y1="433.40" x2="231.40" y2="433.40" stroke="#4a4a4a" stroke-width="0.9"/>
<text x="227.00" y="435.70" font-size="6.4" text-anchor="end" fill="#222" stroke="#222" stroke-width="0.15">1.2</text>
<line x1="231.40" y1="518.40" x2="288.00" y2="518.40" stroke="#4a4a4a" stroke-width="0.9"/>
<line x1="242.80" y1="518.40" x2="242.80" y2="520.40" stroke="#4a4a4a" stroke-width="0.9"/>
<line x1="259.70" y1="518.40" x2="259.70" y2="520.40" stroke="#4a4a4a" stroke-width="0.9"/>
<line x1="276.60" y1="518.40" x2="276.60" y2="520.40" stroke="#4a4a4a" stroke-width="0.9"/>
<rect x="237.20" y="462.00" width="11.30" height="56.40" fill="#f7830f" stroke="none" stroke-width="0" rx="0"/>
<rect x="254.10" y="508.50" width="11.30" height="9.90" fill="#5555ef" stroke="none" stroke-width="0" rx="0"/>
<rect x="271.00" y="471.00" width="11.30" height="47.40" fill="#8f8ff4" stroke="none" stroke-width="0" rx="0"/>
<circle cx="240.50" cy="462.00" r="1.2" fill="#fff" stroke="#2a2a2a" stroke-width="0.55"/>
<circle cx="242.50" cy="462.00" r="1.2" fill="#fff" stroke="#2a2a2a" stroke-width="0.55"/>
<circle cx="244.50" cy="462.00" r="1.2" fill="#fff" stroke="#2a2a2a" stroke-width="0.55"/>
<circle cx="246.00" cy="462.30" r="1.2" fill="#fff" stroke="#2a2a2a" stroke-width="0.55"/>
<circle cx="257.50" cy="508.50" r="1.2" fill="#fff" stroke="#2a2a2a" stroke-width="0.55"/>
<circle cx="259.50" cy="508.30" r="1.2" fill="#fff" stroke="#2a2a2a" stroke-width="0.55"/>
<circle cx="261.50" cy="508.50" r="1.2" fill="#fff" stroke="#2a2a2a" stroke-width="0.55"/>
<circle cx="263.00" cy="508.70" r="1.2" fill="#fff" stroke="#2a2a2a" stroke-width="0.55"/>
<circle cx="274.50" cy="471.00" r="1.2" fill="#fff" stroke="#2a2a2a" stroke-width="0.55"/>
<circle cx="276.50" cy="470.80" r="1.2" fill="#fff" stroke="#2a2a2a" stroke-width="0.55"/>
<circle cx="278.50" cy="471.00" r="1.2" fill="#fff" stroke="#2a2a2a" stroke-width="0.55"/>
<circle cx="280.00" cy="471.20" r="1.2" fill="#fff" stroke="#2a2a2a" stroke-width="0.55"/>
<path d="M242.8,458.0 L242.8,454.1 L260.4,454.1" fill="none" stroke="#555" stroke-width="0.6"/>
<path d="M260.4,496.5 L260.4,464.5 L276.7,464.5 L276.7,467.5" fill="none" stroke="#555" stroke-width="0.6"/>
<text x="252.50" y="451.62" font-size="5.6" text-anchor="middle" fill="#222" stroke="#222" stroke-width="0.15"><tspan font-style="italic">P</tspan>&lt;0.0001</text>
<text x="274.00" y="461.32" font-size="5.6" text-anchor="middle" fill="#222" stroke="#222" stroke-width="0.15"><tspan font-style="italic">P</tspan>&lt;0.0001</text>
<text x="242.40" y="527.99" font-size="5.8" text-anchor="middle" fill="#222" stroke="#222" stroke-width="0.15">EV</text>
<text x="259.30" y="527.99" font-size="5.8" text-anchor="middle" fill="#222" stroke="#222" stroke-width="0.15">WT</text>
<text x="276.20" y="527.99" font-size="5.8" text-anchor="middle" fill="#222" stroke="#222" stroke-width="0.15">Mut</text>
<line x1="237.20" y1="530.40" x2="281.90" y2="530.40" stroke="#444" stroke-width="0.7"/>
<text x="260.40" y="537.09" font-size="5.8" text-anchor="middle" fill="#222" font-style="italic" stroke="#222" stroke-width="0.15">siFTO</text>
<text x="212.10" y="478.38" font-size="6.9" text-anchor="middle" fill="#222" stroke="#222" stroke-width="0.15" transform="rotate(-90 212.10 475.90)">Relative expression level</text>
<text x="306.80" y="418.90" font-size="8.6" font-weight="bold" fill="#111" stroke="#111" stroke-width="0.1">s</text>
<rect x="339.80" y="435.40" width="56.20" height="7.60" fill="#d3d3d3" stroke="none" stroke-width="0" rx="0"/>
<text x="367.90" y="441.29" font-size="5.8" text-anchor="middle" fill="#333" font-style="italic" stroke="#333" stroke-width="0.15">SLC2A4</text>
<path d="M339.8,519.8 L339.8,434.95 M396.0,434.95 L396.0,519.8" fill="none" stroke="#444" stroke-width="0.9"/>
<line x1="339.80" y1="435.40" x2="339.80" y2="519.80" stroke="#4a4a4a" stroke-width="0.9"/>
<line x1="336.30" y1="519.80" x2="339.80" y2="519.80" stroke="#4a4a4a" stroke-width="0.9"/>
<text x="335.30" y="522.00" font-size="6.1" text-anchor="end" fill="#222" stroke="#222" stroke-width="0.15">0.00000</text>
<line x1="336.30" y1="491.67" x2="339.80" y2="491.67" stroke="#4a4a4a" stroke-width="0.9"/>
<text x="335.30" y="493.86" font-size="6.1" text-anchor="end" fill="#222" stroke="#222" stroke-width="0.15">0.00001</text>
<line x1="336.30" y1="463.53" x2="339.80" y2="463.53" stroke="#4a4a4a" stroke-width="0.9"/>
<text x="335.30" y="465.73" font-size="6.1" text-anchor="end" fill="#222" stroke="#222" stroke-width="0.15">0.00002</text>
<line x1="336.30" y1="435.40" x2="339.80" y2="435.40" stroke="#4a4a4a" stroke-width="0.9"/>
<text x="335.30" y="437.60" font-size="6.1" text-anchor="end" fill="#222" stroke="#222" stroke-width="0.15">0.00003</text>
<line x1="339.80" y1="519.80" x2="396.00" y2="519.80" stroke="#4a4a4a" stroke-width="0.9"/>
<line x1="350.90" y1="519.80" x2="350.90" y2="521.80" stroke="#4a4a4a" stroke-width="0.9"/>
<line x1="368.10" y1="519.80" x2="368.10" y2="521.80" stroke="#4a4a4a" stroke-width="0.9"/>
<line x1="385.00" y1="519.80" x2="385.00" y2="521.80" stroke="#4a4a4a" stroke-width="0.9"/>
<rect x="345.30" y="460.90" width="11.60" height="58.90" fill="#f89a3a" stroke="none" stroke-width="0" rx="0"/>
<rect x="362.20" y="481.00" width="11.60" height="38.80" fill="#fb7a80" stroke="none" stroke-width="0" rx="0"/>
<rect x="379.10" y="469.80" width="11.60" height="50.00" fill="#4f4ff0" stroke="none" stroke-width="0" rx="0"/>
<line x1="347.70" y1="454.10" x2="354.10" y2="454.10" stroke="#222" stroke-width="0.7"/>
<line x1="350.90" y1="454.10" x2="350.90" y2="460.90" stroke="#222" stroke-width="0.7"/>
<line x1="364.90" y1="472.20" x2="371.30" y2="472.20" stroke="#222" stroke-width="0.7"/>
<line x1="368.10" y1="472.20" x2="368.10" y2="481.00" stroke="#222" stroke-width="0.7"/>
<line x1="381.80" y1="462.50" x2="388.20" y2="462.50" stroke="#222" stroke-width="0.7"/>
<line x1="385.00" y1="462.50" x2="385.00" y2="469.80" stroke="#222" stroke-width="0.7"/>
<path d="M350.4,454.0 L350.4,450.7 L367.8,450.7 L367.8,465.5" fill="none" stroke="#555" stroke-width="0.65"/>
<path d="M369.4,464.7 L369.4,452.3 L384.8,452.3 L384.8,455.6" fill="none" stroke="#555" stroke-width="0.65"/>
<text x="354.50" y="448.92" font-size="5.6" text-anchor="middle" fill="#222" stroke="#222" stroke-width="0.15"><tspan font-style="italic">P</tspan>=0.0006</text>
<text x="383.20" y="450.52" font-size="5.6" text-anchor="middle" fill="#222" stroke="#222" stroke-width="0.15"><tspan font-style="italic">P</tspan>=0.0329</text>
<text x="350.90" y="530.09" font-size="5.8" text-anchor="middle" fill="#222" stroke="#222" stroke-width="0.15">EV</text>
<text x="368.20" y="530.09" font-size="5.8" text-anchor="middle" fill="#222" stroke="#222" stroke-width="0.15">WT</text>
<text x="385.10" y="530.09" font-size="5.8" text-anchor="middle" fill="#222" stroke="#222" stroke-width="0.15">Mut</text>
<line x1="350.90" y1="532.30" x2="386.00" y2="532.30" stroke="#444" stroke-width="0.7"/>
<text x="370.00" y="538.02" font-size="5.9" text-anchor="middle" fill="#222" font-style="italic" stroke="#222" stroke-width="0.15">siFTO</text>
<text x="306.70" y="480.02" font-size="7.0" text-anchor="middle" fill="#222" font-style="italic" stroke="#222" stroke-width="0.15" transform="rotate(-90 306.70 477.50)">Relative mRNA expression</text>
<circle cx="350.40" cy="454.00" r="1.35" fill="#fff" stroke="#2a2a2a" stroke-width="0.55"/>
<circle cx="348.70" cy="460.60" r="1.35" fill="#fff" stroke="#2a2a2a" stroke-width="0.55"/>
<circle cx="353.70" cy="458.10" r="1.35" fill="#fff" stroke="#2a2a2a" stroke-width="0.55"/>
<circle cx="353.70" cy="463.90" r="1.35" fill="#fff" stroke="#2a2a2a" stroke-width="0.55"/>
<circle cx="350.40" cy="472.20" r="1.35" fill="#fff" stroke="#2a2a2a" stroke-width="0.55"/>
<circle cx="368.00" cy="470.60" r="1.35" fill="#fff" stroke="#2a2a2a" stroke-width="0.55"/>
<circle cx="365.30" cy="475.80" r="1.35" fill="#fff" stroke="#2a2a2a" stroke-width="0.55"/>
<circle cx="370.30" cy="475.10" r="1.35" fill="#fff" stroke="#2a2a2a" stroke-width="0.55"/>
<circle cx="365.30" cy="485.30" r="1.35" fill="#fff" stroke="#2a2a2a" stroke-width="0.55"/>
<circle cx="370.30" cy="485.30" r="1.35" fill="#fff" stroke="#2a2a2a" stroke-width="0.55"/>
<circle cx="368.00" cy="490.30" r="1.35" fill="#fff" stroke="#2a2a2a" stroke-width="0.55"/>
<circle cx="384.70" cy="456.60" r="1.35" fill="#fff" stroke="#2a2a2a" stroke-width="0.55"/>
<circle cx="384.10" cy="463.20" r="1.35" fill="#fff" stroke="#2a2a2a" stroke-width="0.55"/>
<circle cx="384.70" cy="469.80" r="1.35" fill="#fff" stroke="#2a2a2a" stroke-width="0.55"/>
<circle cx="380.90" cy="474.80" r="1.35" fill="#fff" stroke="#2a2a2a" stroke-width="0.55"/>
<circle cx="384.70" cy="475.40" r="1.35" fill="#fff" stroke="#2a2a2a" stroke-width="0.55"/>
<circle cx="388.50" cy="476.30" r="1.35" fill="#fff" stroke="#2a2a2a" stroke-width="0.55"/>
<text x="410.80" y="418.70" font-size="8.6" font-weight="bold" fill="#111" stroke="#111" stroke-width="0.1">t</text>
<rect x="446.40" y="434.90" width="127.00" height="7.90" fill="#d3d3d3" stroke="none" stroke-width="0" rx="0"/>
<text x="509.90" y="440.94" font-size="5.8" text-anchor="middle" fill="#333" font-style="italic" stroke="#333" stroke-width="0.15">SLC2A4</text>
<path d="M446.4,519.4 L446.4,434.45 M573.4,434.45 L573.4,519.4" fill="none" stroke="#444" stroke-width="0.9"/>
<line x1="446.40" y1="434.90" x2="446.40" y2="519.40" stroke="#4a4a4a" stroke-width="0.9"/>
<line x1="443.10" y1="519.40" x2="446.40" y2="519.40" stroke="#4a4a4a" stroke-width="0.9"/>
<text x="441.90" y="521.60" font-size="6.1" text-anchor="end" fill="#222" stroke="#222" stroke-width="0.15">0.00000</text>
<line x1="443.10" y1="491.23" x2="446.40" y2="491.23" stroke="#4a4a4a" stroke-width="0.9"/>
<text x="441.90" y="493.43" font-size="6.1" text-anchor="end" fill="#222" stroke="#222" stroke-width="0.15">0.00001</text>
<line x1="443.10" y1="463.07" x2="446.40" y2="463.07" stroke="#4a4a4a" stroke-width="0.9"/>
<text x="441.90" y="465.26" font-size="6.1" text-anchor="end" fill="#222" stroke="#222" stroke-width="0.15">0.00002</text>
<line x1="443.10" y1="434.90" x2="446.40" y2="434.90" stroke="#4a4a4a" stroke-width="0.9"/>
<text x="441.90" y="437.10" font-size="6.1" text-anchor="end" fill="#222" stroke="#222" stroke-width="0.15">0.00003</text>
<line x1="446.40" y1="519.40" x2="573.40" y2="519.40" stroke="#4a4a4a" stroke-width="0.9"/>
<rect x="450.80" y="471.90" width="9.30" height="47.50" fill="#f77f00" stroke="none" stroke-width="0" rx="0"/>
<line x1="455.45" y1="519.40" x2="455.45" y2="521.40" stroke="#4a4a4a" stroke-width="0.9"/>
<line x1="453.45" y1="460.20" x2="457.45" y2="460.20" stroke="#444" stroke-width="0.6"/>
<line x1="455.45" y1="460.20" x2="455.45" y2="471.90" stroke="#444" stroke-width="0.6"/>
<text x="456.65" y="526.25" font-size="6.8" text-anchor="end" fill="#222" stroke="#222" stroke-width="0.15" transform="rotate(-47 456.65 523.80)">NC</text>
<rect x="464.50" y="487.00" width="9.30" height="32.40" fill="#ffdadd" stroke="none" stroke-width="0" rx="0"/>
<line x1="469.15" y1="519.40" x2="469.15" y2="521.40" stroke="#4a4a4a" stroke-width="0.9"/>
<line x1="467.15" y1="477.00" x2="471.15" y2="477.00" stroke="#444" stroke-width="0.6"/>
<line x1="469.15" y1="477.00" x2="469.15" y2="487.00" stroke="#444" stroke-width="0.6"/>
<text x="470.35" y="526.25" font-size="6.8" text-anchor="end" fill="#222" font-style="italic" stroke="#222" stroke-width="0.15" transform="rotate(-47 470.35 523.80)">siIGF2BP1</text>
<rect x="478.00" y="475.40" width="9.30" height="44.00" fill="#ffa3a6" stroke="none" stroke-width="0" rx="0"/>
<line x1="482.65" y1="519.40" x2="482.65" y2="521.40" stroke="#4a4a4a" stroke-width="0.9"/>
<line x1="480.65" y1="470.70" x2="484.65" y2="470.70" stroke="#444" stroke-width="0.6"/>
<line x1="482.65" y1="470.70" x2="482.65" y2="475.40" stroke="#444" stroke-width="0.6"/>
<text x="483.85" y="526.25" font-size="6.8" text-anchor="end" fill="#222" font-style="italic" stroke="#222" stroke-width="0.15" transform="rotate(-47 483.85 523.80)">siIGF2BP2</text>
<rect x="491.50" y="484.20" width="9.30" height="35.20" fill="#ff6c78" stroke="none" stroke-width="0" rx="0"/>
<line x1="496.15" y1="519.40" x2="496.15" y2="521.40" stroke="#4a4a4a" stroke-width="0.9"/>
<line x1="494.15" y1="478.90" x2="498.15" y2="478.90" stroke="#444" stroke-width="0.6"/>
<line x1="496.15" y1="478.90" x2="496.15" y2="484.20" stroke="#444" stroke-width="0.6"/>
<text x="497.35" y="526.25" font-size="6.8" text-anchor="end" fill="#222" font-style="italic" stroke="#222" stroke-width="0.15" transform="rotate(-47 497.35 523.80)">siIGF2BP3</text>
<rect x="504.80" y="495.60" width="9.30" height="23.80" fill="#b3ab74" stroke="none" stroke-width="0" rx="0"/>
<line x1="509.45" y1="519.40" x2="509.45" y2="521.40" stroke="#4a4a4a" stroke-width="0.9"/>
<text x="510.65" y="526.25" font-size="6.8" text-anchor="end" fill="#222" font-style="italic" stroke="#222" stroke-width="0.15" transform="rotate(-47 510.65 523.80)">siYTHDC1</text>
<rect x="518.80" y="478.90" width="9.30" height="40.50" fill="#f0b577" stroke="none" stroke-width="0" rx="0"/>
<line x1="523.45" y1="519.40" x2="523.45" y2="521.40" stroke="#4a4a4a" stroke-width="0.9"/>
<line x1="521.45" y1="462.50" x2="525.45" y2="462.50" stroke="#444" stroke-width="0.6"/>
<line x1="523.45" y1="462.50" x2="523.45" y2="478.90" stroke="#444" stroke-width="0.6"/>
<text x="524.65" y="526.25" font-size="6.8" text-anchor="end" fill="#222" font-style="italic" stroke="#222" stroke-width="0.15" transform="rotate(-47 524.65 523.80)">siYTHDC2</text>
<rect x="532.00" y="481.70" width="9.30" height="37.70" fill="#cfe0f8" stroke="none" stroke-width="0" rx="0"/>
<line x1="536.65" y1="519.40" x2="536.65" y2="521.40" stroke="#4a4a4a" stroke-width="0.9"/>
<text x="537.85" y="526.25" font-size="6.8" text-anchor="end" fill="#222" font-style="italic" stroke="#222" stroke-width="0.15" transform="rotate(-47 537.85 523.80)">siYTHDF1</text>
<rect x="545.40" y="481.90" width="9.30" height="37.50" fill="#8fbaf2" stroke="none" stroke-width="0" rx="0"/>
<line x1="550.05" y1="519.40" x2="550.05" y2="521.40" stroke="#4a4a4a" stroke-width="0.9"/>
<line x1="548.05" y1="467.20" x2="552.05" y2="467.20" stroke="#444" stroke-width="0.6"/>
<line x1="550.05" y1="467.20" x2="550.05" y2="481.90" stroke="#444" stroke-width="0.6"/>
<text x="551.25" y="526.25" font-size="6.8" text-anchor="end" fill="#222" font-style="italic" stroke="#222" stroke-width="0.15" transform="rotate(-47 551.25 523.80)">siYTHDF2</text>
<rect x="559.20" y="481.20" width="9.30" height="38.20" fill="#4a90f0" stroke="none" stroke-width="0" rx="0"/>
<line x1="563.85" y1="519.40" x2="563.85" y2="521.40" stroke="#4a4a4a" stroke-width="0.9"/>
<text x="565.05" y="526.25" font-size="6.8" text-anchor="end" fill="#222" font-style="italic" stroke="#222" stroke-width="0.15" transform="rotate(-47 565.05 523.80)">siYTHDF3</text>
<path d="M455.2,457.9 L455.2,453.2 L509.5,453.2 L509.5,492.8" fill="none" stroke="#555" stroke-width="0.6"/>
<text x="485.00" y="451.79" font-size="5.8" text-anchor="middle" fill="#222" stroke="#222" stroke-width="0.15"><tspan font-style="italic">P</tspan>=0.0010</text>
<text x="413.40" y="479.62" font-size="7.0" text-anchor="middle" fill="#222" font-style="italic" stroke="#222" stroke-width="0.15" transform="rotate(-90 413.40 477.10)">Relative mRNA expression</text>
<circle cx="453.10" cy="460.90" r="1.25" fill="#fff" stroke="#2a2a2a" stroke-width="0.55"/>
<circle cx="457.80" cy="457.90" r="1.25" fill="#fff" stroke="#2a2a2a" stroke-width="0.55"/>
<circle cx="455.40" cy="469.10" r="1.25" fill="#fff" stroke="#2a2a2a" stroke-width="0.55"/>
<circle cx="455.40" cy="473.00" r="1.25" fill="#fff" stroke="#2a2a2a" stroke-width="0.55"/>
<circle cx="455.40" cy="479.30" r="1.25" fill="#fff" stroke="#2a2a2a" stroke-width="0.55"/>
<circle cx="455.40" cy="490.00" r="1.25" fill="#fff" stroke="#2a2a2a" stroke-width="0.55"/>
<circle cx="469.20" cy="467.90" r="1.25" fill="#fff" stroke="#2a2a2a" stroke-width="0.55"/>
<circle cx="469.20" cy="484.70" r="1.25" fill="#fff" stroke="#2a2a2a" stroke-width="0.55"/>
<circle cx="466.40" cy="490.00" r="1.25" fill="#fff" stroke="#2a2a2a" stroke-width="0.55"/>
<circle cx="468.70" cy="490.50" r="1.25" fill="#fff" stroke="#2a2a2a" stroke-width="0.55"/>
<circle cx="470.60" cy="491.70" r="1.25" fill="#fff" stroke="#2a2a2a" stroke-width="0.55"/>
<circle cx="472.70" cy="492.80" r="1.25" fill="#fff" stroke="#2a2a2a" stroke-width="0.55"/>
<circle cx="482.70" cy="468.40" r="1.25" fill="#fff" stroke="#2a2a2a" stroke-width="0.55"/>
<circle cx="482.70" cy="475.40" r="1.25" fill="#fff" stroke="#2a2a2a" stroke-width="0.55"/>
<circle cx="480.40" cy="475.40" r="1.25" fill="#fff" stroke="#2a2a2a" stroke-width="0.55"/>
<circle cx="484.30" cy="477.00" r="1.25" fill="#fff" stroke="#2a2a2a" stroke-width="0.55"/>
<circle cx="485.70" cy="478.40" r="1.25" fill="#fff" stroke="#2a2a2a" stroke-width="0.55"/>
<circle cx="496.20" cy="477.00" r="1.25" fill="#fff" stroke="#2a2a2a" stroke-width="0.55"/>
<circle cx="493.20" cy="483.00" r="1.25" fill="#fff" stroke="#2a2a2a" stroke-width="0.55"/>
<circle cx="497.80" cy="483.50" r="1.25" fill="#fff" stroke="#2a2a2a" stroke-width="0.55"/>
<circle cx="494.30" cy="485.80" r="1.25" fill="#fff" stroke="#2a2a2a" stroke-width="0.55"/>
<circle cx="497.40" cy="486.30" r="1.25" fill="#fff" stroke="#2a2a2a" stroke-width="0.55"/>
<circle cx="496.20" cy="490.00" r="1.25" fill="#fff" stroke="#2a2a2a" stroke-width="0.55"/>
<circle cx="507.20" cy="494.00" r="1.25" fill="#fff" stroke="#2a2a2a" stroke-width="0.55"/>
<circle cx="510.60" cy="493.30" r="1.25" fill="#fff" stroke="#2a2a2a" stroke-width="0.55"/>
<circle cx="513.00" cy="495.60" r="1.25" fill="#fff" stroke="#2a2a2a" stroke-width="0.55"/>
<circle cx="509.50" cy="504.00" r="1.25" fill="#fff" stroke="#2a2a2a" stroke-width="0.55"/>
<circle cx="506.70" cy="494.70" r="1.25" fill="#fff" stroke="#2a2a2a" stroke-width="0.55"/>
<circle cx="523.00" cy="447.40" r="1.25" fill="#fff" stroke="#2a2a2a" stroke-width="0.55"/>
<circle cx="523.00" cy="476.10" r="1.25" fill="#fff" stroke="#2a2a2a" stroke-width="0.55"/>
<circle cx="521.10" cy="487.00" r="1.25" fill="#fff" stroke="#2a2a2a" stroke-width="0.55"/>
<circle cx="525.80" cy="487.00" r="1.25" fill="#fff" stroke="#2a2a2a" stroke-width="0.55"/>
<circle cx="521.10" cy="490.50" r="1.25" fill="#fff" stroke="#2a2a2a" stroke-width="0.55"/>
<circle cx="525.80" cy="490.50" r="1.25" fill="#fff" stroke="#2a2a2a" stroke-width="0.55"/>
<circle cx="536.10" cy="474.20" r="1.25" fill="#fff" stroke="#2a2a2a" stroke-width="0.55"/>
<circle cx="538.50" cy="474.70" r="1.25" fill="#fff" stroke="#2a2a2a" stroke-width="0.55"/>
<circle cx="536.60" cy="480.00" r="1.25" fill="#fff" stroke="#2a2a2a" stroke-width="0.55"/>
<circle cx="533.80" cy="484.70" r="1.25" fill="#fff" stroke="#2a2a2a" stroke-width="0.55"/>
<circle cx="536.60" cy="486.50" r="1.25" fill="#fff" stroke="#2a2a2a" stroke-width="0.55"/>
<circle cx="539.40" cy="487.70" r="1.25" fill="#fff" stroke="#2a2a2a" stroke-width="0.55"/>
<circle cx="550.10" cy="449.30" r="1.25" fill="#fff" stroke="#2a2a2a" stroke-width="0.55"/>
<circle cx="550.10" cy="484.70" r="1.25" fill="#fff" stroke="#2a2a2a" stroke-width="0.55"/>
<circle cx="547.10" cy="486.50" r="1.25" fill="#fff" stroke="#2a2a2a" stroke-width="0.55"/>
<circle cx="551.00" cy="487.70" r="1.25" fill="#fff" stroke="#2a2a2a" stroke-width="0.55"/>
<circle cx="547.80" cy="490.00" r="1.25" fill="#fff" stroke="#2a2a2a" stroke-width="0.55"/>
<circle cx="551.70" cy="491.00" r="1.25" fill="#fff" stroke="#2a2a2a" stroke-width="0.55"/>
<circle cx="549.40" cy="483.50" r="1.25" fill="#fff" stroke="#2a2a2a" stroke-width="0.55"/>
<circle cx="561.00" cy="480.70" r="1.25" fill="#fff" stroke="#2a2a2a" stroke-width="0.55"/>
<circle cx="563.40" cy="481.20" r="1.25" fill="#fff" stroke="#2a2a2a" stroke-width="0.55"/>
<circle cx="565.00" cy="481.70" r="1.25" fill="#fff" stroke="#2a2a2a" stroke-width="0.55"/>
<circle cx="566.90" cy="482.40" r="1.25" fill="#fff" stroke="#2a2a2a" stroke-width="0.55"/>
<text x="594.00" y="418.80" font-size="8.6" font-weight="bold" fill="#111" stroke="#111" stroke-width="0.1">u</text>
<rect x="624.40" y="430.10" width="56.20" height="8.20" fill="#d3d3d3" stroke="none" stroke-width="0" rx="0"/>
<text x="652.60" y="436.52" font-size="5.6" text-anchor="middle" fill="#333" font-style="italic" stroke="#333" stroke-width="0.15">SLC2A4</text>
<path d="M624.4,514.3 L624.4,429.65000000000003 M680.6,429.65000000000003 L680.6,514.3" fill="none" stroke="#444" stroke-width="0.9"/>
<line x1="624.40" y1="514.30" x2="680.60" y2="514.30" stroke="#4a4a4a" stroke-width="0.9"/>
<rect x="622.40" y="470.00" width="4.00" height="6.00" fill="#fff" stroke="none" stroke-width="0" rx="0"/>
<line x1="622.00" y1="472.60" x2="627.20" y2="467.40" stroke="#333" stroke-width="0.7"/>
<line x1="622.00" y1="478.20" x2="627.20" y2="473.00" stroke="#333" stroke-width="0.7"/>
<line x1="620.90" y1="438.10" x2="624.40" y2="438.10" stroke="#4a4a4a" stroke-width="0.9"/>
<text x="619.90" y="440.37" font-size="6.3" text-anchor="end" fill="#222" stroke="#222" stroke-width="0.15">0.00009</text>
<line x1="620.90" y1="453.70" x2="624.40" y2="453.70" stroke="#4a4a4a" stroke-width="0.9"/>
<text x="619.90" y="455.97" font-size="6.3" text-anchor="end" fill="#222" stroke="#222" stroke-width="0.15">0.00007</text>
<line x1="620.90" y1="469.10" x2="624.40" y2="469.10" stroke="#4a4a4a" stroke-width="0.9"/>
<text x="619.90" y="471.37" font-size="6.3" text-anchor="end" fill="#222" stroke="#222" stroke-width="0.15">0.00005</text>
<line x1="620.90" y1="481.20" x2="624.40" y2="481.20" stroke="#4a4a4a" stroke-width="0.9"/>
<text x="619.90" y="483.47" font-size="6.3" text-anchor="end" fill="#222" stroke="#222" stroke-width="0.15">0.00003</text>
<line x1="620.90" y1="492.40" x2="624.40" y2="492.40" stroke="#4a4a4a" stroke-width="0.9"/>
<text x="619.90" y="494.67" font-size="6.3" text-anchor="end" fill="#222" stroke="#222" stroke-width="0.15">0.00002</text>
<line x1="620.90" y1="503.30" x2="624.40" y2="503.30" stroke="#4a4a4a" stroke-width="0.9"/>
<text x="619.90" y="505.57" font-size="6.3" text-anchor="end" fill="#222" stroke="#222" stroke-width="0.15">0.00001</text>
<line x1="620.90" y1="514.30" x2="624.40" y2="514.30" stroke="#4a4a4a" stroke-width="0.9"/>
<text x="619.90" y="516.57" font-size="6.3" text-anchor="end" fill="#222" stroke="#222" stroke-width="0.15">0.00000</text>
<line x1="635.60" y1="514.30" x2="635.60" y2="516.30" stroke="#4a4a4a" stroke-width="0.9"/>
<line x1="652.60" y1="514.30" x2="652.60" y2="516.30" stroke="#4a4a4a" stroke-width="0.9"/>
<line x1="670.10" y1="514.30" x2="670.10" y2="516.30" stroke="#4a4a4a" stroke-width="0.9"/>
<rect x="630.50" y="488.90" width="10.90" height="25.40" fill="#f7830f" stroke="none" stroke-width="0" rx="0"/>
<rect x="646.80" y="455.60" width="11.60" height="58.70" fill="#5555ef" stroke="none" stroke-width="0" rx="0"/>
<rect x="646.00" y="469.20" width="13.20" height="6.20" fill="#fff" stroke="none" stroke-width="0" rx="0"/>
<rect x="664.30" y="511.30" width="10.90" height="3.00" fill="#5555ef" stroke="none" stroke-width="0" rx="0"/>
<line x1="635.10" y1="483.60" x2="635.10" y2="447.40" stroke="#555" stroke-width="0.6"/>
<line x1="635.10" y1="447.40" x2="670.10" y2="447.40" stroke="#555" stroke-width="0.6"/>
<line x1="670.10" y1="447.40" x2="670.10" y2="509.20" stroke="#555" stroke-width="0.6"/>
<line x1="652.60" y1="447.40" x2="652.60" y2="450.50" stroke="#555" stroke-width="0.6"/>
<text x="652.80" y="445.50" font-size="6.1" text-anchor="middle" fill="#222" stroke="#222" stroke-width="0.15"><tspan font-style="italic">P</tspan>&lt;0.0001<tspan font-style="italic">P</tspan>&lt;0.0001</text>
<text x="591.40" y="475.02" font-size="7.0" text-anchor="middle" fill="#222" font-style="italic" stroke="#222" stroke-width="0.15" transform="rotate(-90 591.40 472.50)">Relative mRNA expression</text>
<text x="631.80" y="526.49" font-size="5.8" text-anchor="end" fill="#222" font-style="italic" stroke="#222" stroke-width="0.15">FTO-KO</text>
<text x="635.10" y="526.49" font-size="5.8" text-anchor="middle" fill="#222" stroke="#222" stroke-width="0.15">-</text>
<text x="652.60" y="526.49" font-size="5.8" text-anchor="middle" fill="#222" stroke="#222" stroke-width="0.15">+</text>
<text x="670.10" y="526.49" font-size="5.8" text-anchor="middle" fill="#222" stroke="#222" stroke-width="0.15">+</text>
<text x="631.80" y="537.69" font-size="5.8" text-anchor="end" fill="#222" font-style="italic" stroke="#222" stroke-width="0.15">siYTHDC1</text>
<text x="635.10" y="537.69" font-size="5.8" text-anchor="middle" fill="#222" stroke="#222" stroke-width="0.15">-</text>
<text x="652.60" y="537.69" font-size="5.8" text-anchor="middle" fill="#222" stroke="#222" stroke-width="0.15">-</text>
<text x="670.10" y="537.69" font-size="5.8" text-anchor="middle" fill="#222" stroke="#222" stroke-width="0.15">+</text>
<circle cx="633.00" cy="483.90" r="1.3" fill="#fff" stroke="#2a2a2a" stroke-width="0.55"/>
<circle cx="638.20" cy="483.50" r="1.3" fill="#fff" stroke="#2a2a2a" stroke-width="0.55"/>
<circle cx="633.00" cy="486.40" r="1.3" fill="#fff" stroke="#2a2a2a" stroke-width="0.55"/>
<circle cx="638.20" cy="490.40" r="1.3" fill="#fff" stroke="#2a2a2a" stroke-width="0.55"/>
<circle cx="633.00" cy="494.70" r="1.3" fill="#fff" stroke="#2a2a2a" stroke-width="0.55"/>
<circle cx="638.20" cy="494.70" r="1.3" fill="#fff" stroke="#2a2a2a" stroke-width="0.55"/>
<circle cx="652.00" cy="448.40" r="1.3" fill="#fff" stroke="#2a2a2a" stroke-width="0.55"/>
<circle cx="648.50" cy="452.70" r="1.3" fill="#fff" stroke="#2a2a2a" stroke-width="0.55"/>
<circle cx="656.30" cy="450.60" r="1.3" fill="#fff" stroke="#2a2a2a" stroke-width="0.55"/>
<circle cx="652.00" cy="453.50" r="1.3" fill="#fff" stroke="#2a2a2a" stroke-width="0.55"/>
<circle cx="648.50" cy="456.90" r="1.3" fill="#fff" stroke="#2a2a2a" stroke-width="0.55"/>
<circle cx="652.80" cy="458.70" r="1.3" fill="#fff" stroke="#2a2a2a" stroke-width="0.55"/>
<circle cx="656.30" cy="460.40" r="1.3" fill="#fff" stroke="#2a2a2a" stroke-width="0.55"/>
<circle cx="666.50" cy="510.00" r="1.1" fill="#fff" stroke="#2a2a2a" stroke-width="0.5"/>
<circle cx="668.30" cy="509.80" r="1.1" fill="#fff" stroke="#2a2a2a" stroke-width="0.5"/>
<circle cx="670.20" cy="510.20" r="1.1" fill="#fff" stroke="#2a2a2a" stroke-width="0.5"/>
<circle cx="672.20" cy="510.60" r="1.1" fill="#fff" stroke="#2a2a2a" stroke-width="0.5"/>
<text x="8.60" y="547.00" font-size="8.6" font-weight="bold" fill="#111" stroke="#111" stroke-width="0.1">v</text>
<rect x="43.30" y="561.90" width="85.60" height="7.40" fill="#d3d3d3" stroke="none" stroke-width="0" rx="0"/>
<text x="87.00" y="568.29" font-size="5.8" text-anchor="middle" fill="#333" font-style="italic" stroke="#333" stroke-width="0.15">SLC2A4</text>
<path d="M43.3,645.9 L43.3,561.4499999999999 M128.9,561.4499999999999 L128.9,645.9" fill="none" stroke="#444" stroke-width="0.9"/>
<line x1="43.30" y1="561.90" x2="43.30" y2="645.90" stroke="#4a4a4a" stroke-width="0.9"/>
<line x1="40.00" y1="645.90" x2="43.30" y2="645.90" stroke="#4a4a4a" stroke-width="0.9"/>
<text x="38.80" y="648.13" font-size="6.2" text-anchor="end" fill="#222" stroke="#222" stroke-width="0.15">0.00000</text>
<line x1="40.00" y1="629.10" x2="43.30" y2="629.10" stroke="#4a4a4a" stroke-width="0.9"/>
<text x="38.80" y="631.33" font-size="6.2" text-anchor="end" fill="#222" stroke="#222" stroke-width="0.15">0.00002</text>
<line x1="40.00" y1="612.30" x2="43.30" y2="612.30" stroke="#4a4a4a" stroke-width="0.9"/>
<text x="38.80" y="614.53" font-size="6.2" text-anchor="end" fill="#222" stroke="#222" stroke-width="0.15">0.00004</text>
<line x1="40.00" y1="595.50" x2="43.30" y2="595.50" stroke="#4a4a4a" stroke-width="0.9"/>
<text x="38.80" y="597.73" font-size="6.2" text-anchor="end" fill="#222" stroke="#222" stroke-width="0.15">0.00006</text>
<line x1="40.00" y1="578.70" x2="43.30" y2="578.70" stroke="#4a4a4a" stroke-width="0.9"/>
<text x="38.80" y="580.93" font-size="6.2" text-anchor="end" fill="#222" stroke="#222" stroke-width="0.15">0.00008</text>
<line x1="40.00" y1="561.90" x2="43.30" y2="561.90" stroke="#4a4a4a" stroke-width="0.9"/>
<text x="38.80" y="564.13" font-size="6.2" text-anchor="end" fill="#222" stroke="#222" stroke-width="0.15">0.00010</text>
<line x1="43.30" y1="645.90" x2="128.90" y2="645.90" stroke="#4a4a4a" stroke-width="0.9"/>
<line x1="56.30" y1="645.90" x2="56.30" y2="647.90" stroke="#4a4a4a" stroke-width="0.9"/>
<line x1="76.00" y1="645.90" x2="76.00" y2="647.90" stroke="#4a4a4a" stroke-width="0.9"/>
<line x1="95.60" y1="645.90" x2="95.60" y2="647.90" stroke="#4a4a4a" stroke-width="0.9"/>
<line x1="115.10" y1="645.90" x2="115.10" y2="647.90" stroke="#4a4a4a" stroke-width="0.9"/>
<rect x="49.90" y="626.50" width="13.10" height="19.40" fill="#ff7373" stroke="none" stroke-width="0" rx="0"/>
<rect x="69.40" y="603.80" width="13.10" height="42.10" fill="#c2c2fb" stroke="none" stroke-width="0" rx="0"/>
<rect x="89.00" y="601.90" width="13.00" height="44.00" fill="#8a8af2" stroke="none" stroke-width="0" rx="0"/>
<rect x="108.50" y="605.80" width="13.10" height="40.10" fill="#5252ef" stroke="none" stroke-width="0" rx="0"/>
<line x1="53.10" y1="622.00" x2="59.50" y2="622.00" stroke="#222" stroke-width="0.7"/>
<line x1="56.30" y1="622.00" x2="56.30" y2="626.50" stroke="#222" stroke-width="0.7"/>
<line x1="72.80" y1="600.00" x2="79.20" y2="600.00" stroke="#222" stroke-width="0.7"/>
<line x1="76.00" y1="600.00" x2="76.00" y2="603.80" stroke="#222" stroke-width="0.7"/>
<line x1="92.40" y1="595.50" x2="98.80" y2="595.50" stroke="#222" stroke-width="0.7"/>
<line x1="95.60" y1="595.50" x2="95.60" y2="601.90" stroke="#222" stroke-width="0.7"/>
<line x1="111.90" y1="601.50" x2="118.30" y2="601.50" stroke="#222" stroke-width="0.7"/>
<line x1="115.10" y1="601.50" x2="115.10" y2="605.80" stroke="#222" stroke-width="0.7"/>
<path d="M56.0,617.0 L56.0,595.0 L76.0,595.0 L76.0,598.8" fill="none" stroke="#555" stroke-width="0.65"/>
<path d="M56.0,593.8 L56.0,585.9 L96.2,585.9 L96.2,588.9" fill="none" stroke="#555" stroke-width="0.65"/>
<path d="M56.0,580.6 L56.0,577.6 L115.5,577.6 L115.5,603.0" fill="none" stroke="#555" stroke-width="0.65"/>
<text x="71.00" y="593.02" font-size="5.9" text-anchor="middle" fill="#222" stroke="#222" stroke-width="0.15"><tspan font-style="italic">P</tspan>&lt;0.0001</text>
<text x="78.00" y="583.52" font-size="5.9" text-anchor="middle" fill="#222" stroke="#222" stroke-width="0.15"><tspan font-style="italic">P</tspan>&lt; 0.0001</text>
<text x="88.00" y="575.32" font-size="5.9" text-anchor="middle" fill="#222" stroke="#222" stroke-width="0.15"><tspan font-style="italic">P</tspan>&lt; 0.0001</text>
<text x="10.70" y="607.02" font-size="7.0" text-anchor="middle" fill="#222" font-style="italic" stroke="#222" stroke-width="0.15" transform="rotate(-90 10.70 604.50)">Relative mRNA expression</text>
<text x="52.00" y="657.29" font-size="5.8" text-anchor="end" fill="#222" font-style="italic" stroke="#222" stroke-width="0.15">siFTO</text>
<text x="56.30" y="657.29" font-size="5.8" text-anchor="middle" fill="#222" stroke="#222" stroke-width="0.15">-</text>
<text x="76.20" y="657.29" font-size="5.8" text-anchor="middle" fill="#222" stroke="#222" stroke-width="0.15">+</text>
<text x="97.20" y="657.29" font-size="5.8" text-anchor="middle" fill="#222" stroke="#222" stroke-width="0.15">+</text>
<text x="117.30" y="657.29" font-size="5.8" text-anchor="middle" fill="#222" stroke="#222" stroke-width="0.15">+</text>
<text x="52.00" y="665.09" font-size="5.8" text-anchor="end" fill="#222" font-style="italic" stroke="#222" stroke-width="0.15">YTHDC1</text>
<text x="56.30" y="665.09" font-size="5.8" text-anchor="middle" fill="#222" stroke="#222" stroke-width="0.15">-</text>
<text x="76.20" y="665.09" font-size="5.8" text-anchor="middle" fill="#222" stroke="#222" stroke-width="0.15">EV</text>
<text x="96.20" y="665.09" font-size="5.8" text-anchor="middle" fill="#222" stroke="#222" stroke-width="0.15">WT</text>
<text x="116.30" y="665.09" font-size="5.8" text-anchor="middle" fill="#222" stroke="#222" stroke-width="0.15">Mut</text>
<circle cx="51.80" cy="624.00" r="1.35" fill="#fff" stroke="#2a2a2a" stroke-width="0.55"/>
<circle cx="54.70" cy="623.00" r="1.35" fill="#fff" stroke="#2a2a2a" stroke-width="0.55"/>
<circle cx="57.70" cy="622.60" r="1.35" fill="#fff" stroke="#2a2a2a" stroke-width="0.55"/>
<circle cx="58.70" cy="625.90" r="1.35" fill="#fff" stroke="#2a2a2a" stroke-width="0.55"/>
<circle cx="61.60" cy="627.30" r="1.35" fill="#fff" stroke="#2a2a2a" stroke-width="0.55"/>
<circle cx="56.30" cy="634.30" r="1.35" fill="#fff" stroke="#2a2a2a" stroke-width="0.55"/>
<circle cx="72.30" cy="600.50" r="1.35" fill="#fff" stroke="#2a2a2a" stroke-width="0.55"/>
<circle cx="75.30" cy="601.50" r="1.35" fill="#fff" stroke="#2a2a2a" stroke-width="0.55"/>
<circle cx="78.20" cy="599.50" r="1.35" fill="#fff" stroke="#2a2a2a" stroke-width="0.55"/>
<circle cx="81.10" cy="599.10" r="1.35" fill="#fff" stroke="#2a2a2a" stroke-width="0.55"/>
<circle cx="75.90" cy="605.80" r="1.35" fill="#fff" stroke="#2a2a2a" stroke-width="0.55"/>
<circle cx="75.90" cy="611.20" r="1.35" fill="#fff" stroke="#2a2a2a" stroke-width="0.55"/>
<circle cx="95.80" cy="590.70" r="1.35" fill="#fff" stroke="#2a2a2a" stroke-width="0.55"/>
<circle cx="95.80" cy="597.60" r="1.35" fill="#fff" stroke="#2a2a2a" stroke-width="0.55"/>
<circle cx="91.90" cy="602.40" r="1.35" fill="#fff" stroke="#2a2a2a" stroke-width="0.55"/>
<circle cx="99.70" cy="604.40" r="1.35" fill="#fff" stroke="#2a2a2a" stroke-width="0.55"/>
<circle cx="95.80" cy="604.40" r="1.35" fill="#fff" stroke="#2a2a2a" stroke-width="0.55"/>
<circle cx="95.80" cy="611.20" r="1.35" fill="#fff" stroke="#2a2a2a" stroke-width="0.55"/>
<circle cx="111.40" cy="603.40" r="1.35" fill="#fff" stroke="#2a2a2a" stroke-width="0.55"/>
<circle cx="115.30" cy="602.40" r="1.35" fill="#fff" stroke="#2a2a2a" stroke-width="0.55"/>
<circle cx="119.30" cy="601.50" r="1.35" fill="#fff" stroke="#2a2a2a" stroke-width="0.55"/>
<circle cx="110.50" cy="607.30" r="1.35" fill="#fff" stroke="#2a2a2a" stroke-width="0.55"/>
<circle cx="115.30" cy="607.70" r="1.35" fill="#fff" stroke="#2a2a2a" stroke-width="0.55"/>
<circle cx="119.30" cy="610.30" r="1.35" fill="#fff" stroke="#2a2a2a" stroke-width="0.55"/>
</svg></div>
</body></html>
